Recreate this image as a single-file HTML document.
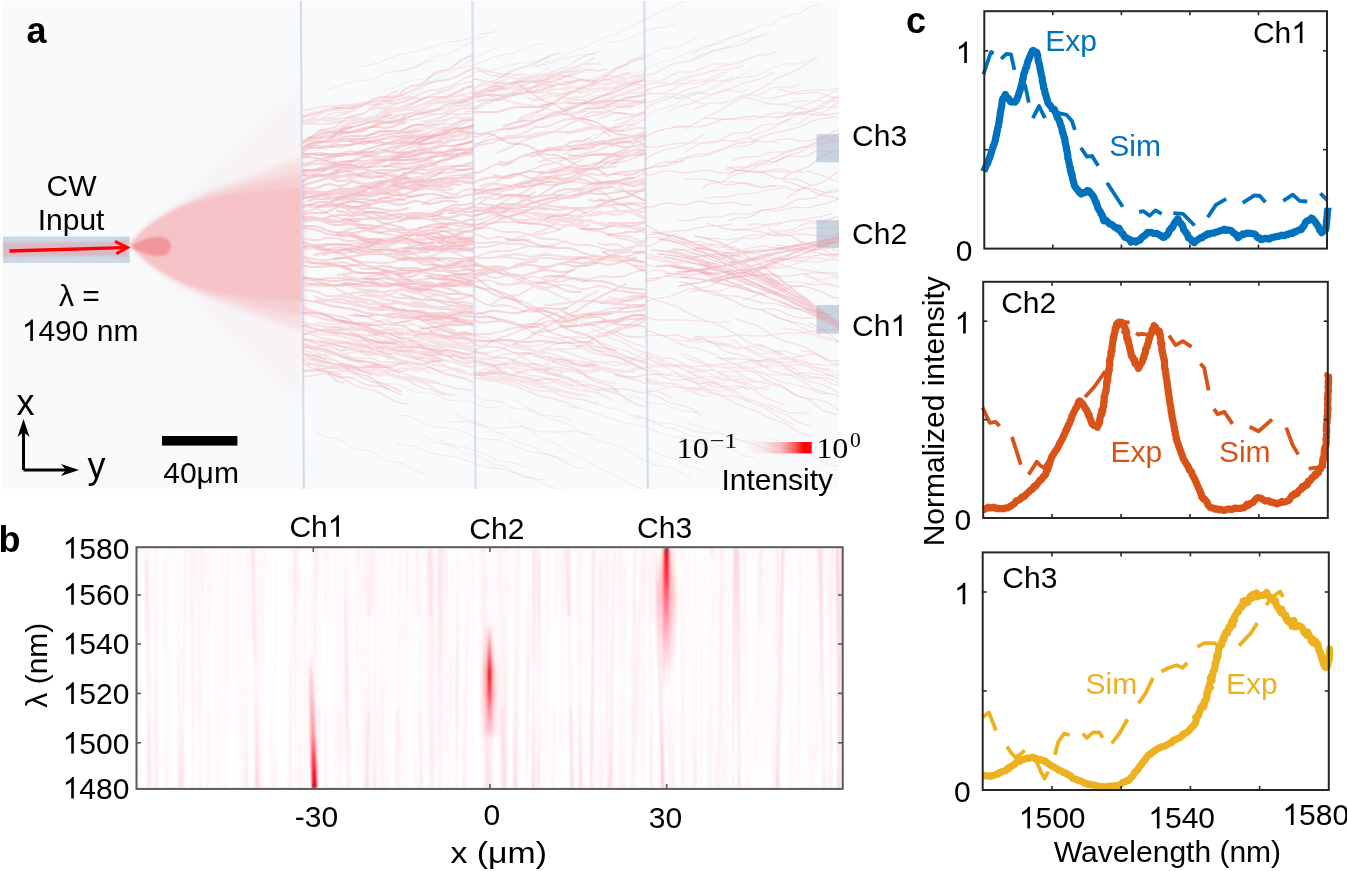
<!DOCTYPE html><html><head><meta charset="utf-8"><style>html,body{margin:0;padding:0;background:#fff;}svg{display:block;will-change:transform;}</style></head><body>
<svg width="1347" height="871" viewBox="0 0 1347 871">
<defs>
<filter id="b1" x="-20%" y="-20%" width="140%" height="140%"><feGaussianBlur stdDeviation="1"/></filter>
<filter id="b2" x="-20%" y="-20%" width="140%" height="140%"><feGaussianBlur stdDeviation="2.5"/></filter>
<filter id="b4" x="-20%" y="-20%" width="140%" height="140%"><feGaussianBlur stdDeviation="5"/></filter>
<filter id="b8" x="-30%" y="-30%" width="160%" height="160%"><feGaussianBlur stdDeviation="9"/></filter>
<linearGradient id="cbar" x1="0" x2="1" y1="0" y2="0"><stop offset="0" stop-color="#ff0000" stop-opacity="0.0"/><stop offset="0.3" stop-color="#ff0000" stop-opacity="0.08"/><stop offset="0.55" stop-color="#ff0000" stop-opacity="0.25"/><stop offset="0.75" stop-color="#ff0000" stop-opacity="0.62"/><stop offset="0.88" stop-color="#ff0000" stop-opacity="1"/><stop offset="1" stop-color="#ff0000" stop-opacity="1"/></linearGradient>
<clipPath id="clipA"><rect x="3" y="1" width="836" height="488"/></clipPath>
<clipPath id="clipB"><rect x="137" y="548" width="705" height="240"/></clipPath>
</defs>
<rect width="1347" height="871" fill="#fff"/>
<rect x="3" y="1" width="836" height="488" fill="#f8fafc"/>
<g clip-path="url(#clipA)">
<path d="M129.5,244.5 L133.8,240.5 L138.2,236.4 L142.5,232.4 L146.8,228.4 L151.2,224.3 L155.5,220.3 L159.9,216.3 L164.2,212.2 L168.5,208.2 L172.9,204.2 L177.2,200.1 L181.6,196.1 L185.9,192.1 L190.2,188.0 L194.6,184.0 L198.9,180.0 L203.2,175.9 L207.6,171.9 L211.9,167.9 L216.2,163.8 L220.6,159.8 L224.9,155.8 L229.3,151.7 L233.6,147.7 L237.9,143.7 L242.3,139.6 L246.6,135.6 L250.9,131.6 L255.3,127.5 L259.6,123.5 L264.0,119.4 L268.3,115.4 L272.6,111.4 L277.0,107.3 L281.3,103.3 L285.6,99.3 L290.0,95.2 L294.3,91.2 L298.7,87.2 L303.0,83.1 L303.0,405.9 L298.7,401.8 L294.3,397.8 L290.0,393.8 L285.6,389.7 L281.3,385.7 L277.0,381.7 L272.6,377.6 L268.3,373.6 L264.0,369.6 L259.6,365.5 L255.3,361.5 L250.9,357.4 L246.6,353.4 L242.3,349.4 L237.9,345.3 L233.6,341.3 L229.3,337.3 L224.9,333.2 L220.6,329.2 L216.2,325.2 L211.9,321.1 L207.6,317.1 L203.2,313.1 L198.9,309.0 L194.6,305.0 L190.2,301.0 L185.9,296.9 L181.6,292.9 L177.2,288.9 L172.9,284.8 L168.5,280.8 L164.2,276.8 L159.9,272.7 L155.5,268.7 L151.2,264.7 L146.8,260.6 L142.5,256.6 L138.2,252.6 L133.8,248.5 L129.5,244.5Z" fill="#f6c0c4" opacity="0.1" filter="url(#b4)"/>
<g filter="url(#b2)" fill="#f6c0c4">
<path d="M129.5,244.5 L133.8,239.7 L138.2,235.2 L142.5,231.0 L146.8,227.2 L151.2,223.6 L155.5,220.3 L159.9,217.1 L164.2,214.2 L168.5,211.5 L172.9,208.9 L177.2,206.4 L181.6,204.1 L185.9,201.9 L190.2,199.8 L194.6,197.8 L198.9,195.9 L203.2,194.1 L207.6,192.3 L211.9,190.5 L216.2,188.8 L220.6,187.2 L224.9,185.5 L229.3,183.9 L233.6,182.4 L237.9,180.8 L242.3,179.2 L246.6,177.7 L250.9,176.1 L255.3,174.6 L259.6,173.0 L264.0,171.5 L268.3,169.9 L272.6,168.3 L277.0,166.7 L281.3,165.1 L285.6,163.5 L290.0,161.8 L294.3,160.1 L298.7,158.4 L303.0,156.7 L303.0,332.3 L298.7,330.6 L294.3,328.9 L290.0,327.2 L285.6,325.5 L281.3,323.9 L277.0,322.3 L272.6,320.7 L268.3,319.1 L264.0,317.5 L259.6,316.0 L255.3,314.4 L250.9,312.9 L246.6,311.3 L242.3,309.8 L237.9,308.2 L233.6,306.6 L229.3,305.1 L224.9,303.5 L220.6,301.8 L216.2,300.2 L211.9,298.5 L207.6,296.7 L203.2,294.9 L198.9,293.1 L194.6,291.2 L190.2,289.2 L185.9,287.1 L181.6,284.9 L177.2,282.6 L172.9,280.1 L168.5,277.5 L164.2,274.8 L159.9,271.9 L155.5,268.7 L151.2,265.4 L146.8,261.8 L142.5,258.0 L138.2,253.8 L133.8,249.3 L129.5,244.5Z" opacity="0.4"/>
<path d="M129.5,244.5 L133.8,239.7 L138.2,235.2 L142.5,231.1 L146.8,227.3 L151.2,223.8 L155.5,220.6 L159.9,217.6 L164.2,214.8 L168.5,212.3 L172.9,209.9 L177.2,207.6 L181.6,205.6 L185.9,203.6 L190.2,201.8 L194.6,200.1 L198.9,198.4 L203.2,196.9 L207.6,195.5 L211.9,194.1 L216.2,192.8 L220.6,191.5 L224.9,190.3 L229.3,189.2 L233.6,188.0 L237.9,187.0 L242.3,185.9 L246.6,184.9 L250.9,183.9 L255.3,182.9 L259.6,181.9 L264.0,180.9 L268.3,180.0 L272.6,179.1 L277.0,178.1 L281.3,177.2 L285.6,176.3 L290.0,175.3 L294.3,174.4 L298.7,173.4 L303.0,172.5 L303.0,316.5 L298.7,315.6 L294.3,314.6 L290.0,313.7 L285.6,312.7 L281.3,311.8 L277.0,310.9 L272.6,309.9 L268.3,309.0 L264.0,308.1 L259.6,307.1 L255.3,306.1 L250.9,305.1 L246.6,304.1 L242.3,303.1 L237.9,302.0 L233.6,301.0 L229.3,299.8 L224.9,298.7 L220.6,297.5 L216.2,296.2 L211.9,294.9 L207.6,293.5 L203.2,292.1 L198.9,290.6 L194.6,288.9 L190.2,287.2 L185.9,285.4 L181.6,283.4 L177.2,281.4 L172.9,279.1 L168.5,276.7 L164.2,274.2 L159.9,271.4 L155.5,268.4 L151.2,265.2 L146.8,261.7 L142.5,257.9 L138.2,253.8 L133.8,249.3 L129.5,244.5Z" opacity="0.5"/>
</g>
<path d="M129.5,244.5 L133.8,239.7 L138.2,235.3 L142.5,231.2 L146.8,227.5 L151.2,224.1 L155.5,221.0 L159.9,218.1 L164.2,215.5 L168.5,213.1 L172.9,210.9 L177.2,208.8 L181.6,207.0 L185.9,205.3 L190.2,203.7 L194.6,202.3 L198.9,201.0 L203.2,199.8 L207.6,198.7 L211.9,197.7 L216.2,196.7 L220.6,195.9 L224.9,195.1 L229.3,194.4 L233.6,193.7 L237.9,193.1 L242.3,192.6 L246.6,192.1 L250.9,191.6 L255.3,191.2 L259.6,190.8 L264.0,190.4 L268.3,190.1 L272.6,189.8 L277.0,189.5 L281.3,189.3 L285.6,189.1 L290.0,188.8 L294.3,188.6 L298.7,188.5 L303.0,188.3 L303.0,300.7 L298.7,300.5 L294.3,300.4 L290.0,300.2 L285.6,299.9 L281.3,299.7 L277.0,299.5 L272.6,299.2 L268.3,298.9 L264.0,298.6 L259.6,298.2 L255.3,297.8 L250.9,297.4 L246.6,296.9 L242.3,296.4 L237.9,295.9 L233.6,295.3 L229.3,294.6 L224.9,293.9 L220.6,293.1 L216.2,292.3 L211.9,291.3 L207.6,290.3 L203.2,289.2 L198.9,288.0 L194.6,286.7 L190.2,285.3 L185.9,283.7 L181.6,282.0 L177.2,280.2 L172.9,278.1 L168.5,275.9 L164.2,273.5 L159.9,270.9 L155.5,268.0 L151.2,264.9 L146.8,261.5 L142.5,257.8 L138.2,253.7 L133.8,249.3 L129.5,244.5Z" fill="#f6c0c4" opacity="0.72" filter="url(#b1)"/>
<path d="M131,246.5 C140,240 150,236.8 160,237 C168,237.5 171,242 171,246.5 C171,251 168,255.5 160,256 C150,256.2 140,253 131,246.5Z" fill="#f0868c" opacity="0.75" filter="url(#b1)"/>
</g>
<filter id="bv" x="-50%" y="-5%" width="200%" height="110%"><feGaussianBlur stdDeviation="0.6"/></filter>
<g filter="url(#bv)">
<line x1="300.9" y1="1" x2="303.8" y2="489" stroke="#d6dde9" stroke-width="2.2"/>
<line x1="472.4" y1="1" x2="475.5" y2="489" stroke="#d9e0eb" stroke-width="2.2"/>
<line x1="644.3" y1="1" x2="647.8" y2="489" stroke="#d7dee9" stroke-width="2.2"/>
</g>
<rect x="816.5" y="134.2" width="22.5" height="28.1" fill="#c6d3e1" opacity="1"/>
<rect x="816.5" y="220.2" width="22.5" height="27.5" fill="#c6d3e1" opacity="1"/>
<rect x="816.5" y="305" width="22.5" height="28.6" fill="#c6d3e1" opacity="1"/>
<filter id="bs" x="-5%" y="-5%" width="110%" height="110%"><feGaussianBlur stdDeviation="0.45"/></filter><clipPath id="cs1"><rect x="302.5" y="1" width="170.5" height="488"/></clipPath><g clip-path="url(#cs1)"><g fill="none" stroke-linejoin="round" stroke-linecap="round" filter="url(#bs)"><path stroke="#f2949a" stroke-width="1.6" stroke-opacity="0.24" d="M349,322l7,1l7,0l7,1l7,2l7,2l7,0l7,1l7,1l7,1l7,3l7,2l7,1l7,1l7,2l7,2l7,3l7,1l7,1l7,2l7,2l7,3l7,2l7,2l7,1l7,2l7,3M272,133l7,1l7,-1l7,-5l7,-4l7,-1l7,0l7,-4l7,-4l7,-2l7,0l7,-2l7,-5l7,-3l7,0l7,-1l7,-4l7,-5l7,-2M371,120l7,-3l7,-3l7,-2l7,-1l7,-1l7,-2l7,-3l7,-2l7,-3l7,-1l7,-1l7,-1l7,-2l7,-2l7,-3l7,-2l7,-1l7,0l7,0l7,-2l7,-2l7,-3M431,342l7,2l7,2l7,0l7,0l7,0l7,1l7,2l7,3l7,1l7,0l7,0l7,0l7,1l7,3l7,3l7,1l7,1l7,-1l7,0l7,1l7,2l7,3l7,1l7,0l7,0l7,0l7,1l7,3M375,334l7,0l7,-1l7,0l7,1l7,1l7,-1l7,0l7,0l7,1l7,1l7,-1l7,-1l7,-1l7,1l7,1l7,-1l7,-1l7,0l7,0l7,1l7,0M385,111l7,-2l7,0l7,-1l7,-1l7,-2l7,-1l7,-1l7,0l7,-1l7,-1l7,-2l7,-1l7,0l7,-1l7,-1l7,-2M453,146l7,-1l7,-2l7,-4l7,-4l7,-2l7,-2l7,-3l7,-4l7,-4l7,-2l7,-2l7,-4l7,-4l7,-3l7,-2l7,-3l7,-5l7,-4l7,-3l7,-2l7,-5l7,-5l7,-4l7,-2l7,-4M277,326l7,1l7,0l7,1l7,2l7,2l7,2l7,1l7,0l7,1l7,2l7,2l7,3l7,2l7,1l7,1l7,0l7,1l7,2l7,2l7,1l7,2l7,0l7,0l7,1l7,1M443,131l7,-1l7,-3l7,-4l7,-3l7,0l7,-3l7,-4l7,-3l7,-1l7,-1l7,-5l7,-3l7,-1l7,-1l7,-4l7,-4l7,-1l7,-2l7,-3l7,-4l7,-2M288,318l7,3l7,1l7,2l7,1l7,1l7,2l7,2l7,3l7,3l7,1l7,2l7,1l7,2l7,3l7,3l7,3l7,3l7,2l7,1l7,2l7,2M290,122l7,-1l7,1l7,-1l7,-2l7,-1l7,1l7,0l7,-1l7,-1l7,1l7,1l7,-1l7,-1l7,1l7,2l7,-1l7,-1M277,334l7,2l7,2l7,2l7,0l7,0l7,0l7,2l7,3l7,1l7,1l7,0l7,2l7,3M437,122l7,-2l7,-2l7,0l7,2l7,0l7,-2l7,-2l7,0l7,1l7,0l7,-1l7,-1l7,0l7,2l7,0M444,342l7,2l7,3l7,2l7,0l7,-1l7,-1l7,1l7,2l7,2l7,0l7,-1l7,-1l7,1l7,2l7,3l7,1M443,98l7,-1l7,-1l7,0l7,1l7,1l7,0l7,0l7,0l7,1l7,1l7,0l7,-1l7,-1l7,0l7,0l7,0l7,-2l7,-1l7,0M233,340l7,3l7,1l7,1l7,2l7,4l7,3l7,3l7,1l7,2l7,3l7,4l7,3l7,2l7,2l7,2l7,4l7,4l7,3l7,2l7,1l7,3l7,4l7,4l7,2l7,1M299,344l7,2l7,3l7,2l7,1l7,1l7,1l7,2l7,3l7,2l7,2l7,1l7,2l7,2l7,3l7,3l7,2l7,2l7,1l7,2l7,2M292,110l7,0l7,0l7,-1l7,-2l7,-1l7,0l7,-1l7,0l7,-1l7,-1l7,-1l7,-1l7,0l7,0l7,-1l7,-2l7,-1l7,0M339,320l7,1l7,2l7,2l7,2l7,3l7,2l7,2l7,2l7,1l7,2l7,2l7,2l7,2l7,2l7,2l7,2l7,1l7,2l7,2l7,3l7,2l7,3l7,1M334,130l7,-3l7,-4l7,-2l7,0l7,-1l7,-2l7,-3l7,-3l7,-2l7,-1l7,-1l7,-1l7,-4l7,-3l7,-2l7,-1l7,-1M374,109l7,-4l7,-2l7,0l7,-1l7,-2l7,-4l7,-3l7,-3l7,0l7,-2l7,-2l7,-4l7,-4l7,-2l7,0l7,-2l7,-3M203,139l7,0l7,-2l7,-2l7,-2l7,-1l7,-2l7,-2l7,-2l7,-1l7,-2l7,-2l7,-2l7,-1l7,-1l7,-3l7,-2l7,0l7,-1l7,-3l7,-2l7,0l7,-1l7,-2l7,-2M407,338l7,0l7,-1l7,1l7,2l7,2l7,2l7,0l7,-1l7,0l7,2l7,2l7,2l7,-1l7,-1l7,0l7,3l7,3l7,1l7,0l7,-1l7,1l7,2l7,2l7,2l7,0l7,-1M310,325l7,1l7,0l7,1l7,1l7,2l7,2l7,2l7,1l7,0l7,1l7,2l7,2l7,2l7,1l7,1l7,1l7,1l7,2l7,3l7,2l7,1l7,1l7,2l7,2l7,2l7,3l7,2M213,296l7,3l7,3l7,4l7,5l7,4l7,3l7,3l7,5l7,4l7,5l7,2l7,3l7,4l7,5l7,4l7,3l7,3l7,4l7,5l7,3l7,3l7,2l7,4l7,5l7,4l7,3l7,3M319,124l7,0l7,-2l7,-1l7,0l7,0l7,-2l7,-1l7,0l7,-1l7,-2l7,0l7,-1l7,-1l7,-1l7,0M280,121l7,0l7,1l7,0l7,-2l7,-1l7,1l7,1l7,-2l7,-1l7,0l7,2l7,-1l7,-2l7,0l7,1l7,0l7,-2M280,145l7,-3l7,0l7,0l7,-3l7,-4l7,-3l7,0l7,-1l7,-4l7,-4l7,-3l7,0l7,-1l7,-4l7,-5l7,-2l7,0l7,-1l7,-4M422,139l7,-1l7,-4l7,-2l7,0l7,-1l7,-2l7,-3l7,-1l7,0l7,-1l7,-3l7,-3l7,0l7,0l7,-2l7,-3l7,-1l7,0l7,-2l7,-2l7,-2l7,0l7,-1l7,-1l7,-3M415,138l7,-3l7,-1l7,0l7,-1l7,-3l7,-2l7,0l7,0l7,-2l7,-3l7,-1l7,0l7,-1l7,-2l7,-2M329,137l7,-3l7,-1l7,0l7,-1l7,-2l7,-3l7,-2l7,-2l7,0l7,-1l7,-3l7,-3l7,-3l7,-1l7,-1l7,-1l7,-2l7,-4l7,-3l7,-2l7,0l7,-1M262,318l7,3l7,4l7,4l7,2l7,3l7,4l7,4l7,2l7,3l7,4l7,3l7,3l7,2l7,4l7,3l7,2l7,3l7,3l7,3l7,2l7,2l7,4l7,3l7,1l7,3l7,3M286,124l7,-3l7,-1l7,0l7,-3l7,-3l7,-3l7,-1l7,0l7,-2l7,-3M360,340l7,1l7,4l7,4l7,2l7,0l7,0l7,3l7,4l7,3l7,0l7,1l7,3l7,4l7,3l7,1l7,1l7,2l7,5M180,332l7,1l7,1l7,-1l7,-1l7,0l7,0l7,0l7,-1l7,-1l7,-1l7,1l7,0l7,-2l7,-1l7,0l7,0l7,0l7,-2l7,-1l7,-1l7,1l7,0l7,0l7,-2l7,0l7,0l7,1l7,-1l7,-2l7,0M388,321l7,2l7,-1l7,0l7,3l7,3l7,0l7,-1l7,2l7,4l7,2l7,-1l7,0l7,2l7,3l7,0l7,-1l7,1l7,3l7,2l7,-1l7,-1l7,3l7,3l7,0l7,-1l7,1l7,2l7,3l7,-1l7,-1M321,338l7,1l7,1l7,2l7,1l7,0l7,1l7,0l7,1l7,1l7,1l7,1M294,359l7,0l7,0l7,2l7,2l7,0l7,1l7,2l7,1l7,1l7,1l7,3l7,1l7,0l7,2l7,2l7,0l7,1l7,2l7,2l7,1l7,1l7,2l7,2l7,1l7,1l7,2l7,1M452,138l7,-2l7,-1l7,-3l7,-3l7,-1l7,-1l7,-3l7,-4l7,-1l7,-1l7,-3l7,-4l7,-2l7,0M393,341l7,1l7,0l7,-1l7,-1l7,0l7,2l7,2l7,1l7,0l7,-1l7,-1l7,0l7,1l7,2l7,2l7,-1l7,-1l7,-2l7,0l7,1l7,2l7,1l7,0l7,-2l7,-2l7,-1l7,0l7,2l7,0M272,335l7,2l7,3l7,4l7,3l7,1l7,0l7,1l7,2l7,3l7,3l7,3l7,1l7,1l7,1l7,3l7,4l7,4l7,2l7,2l7,1l7,2l7,3l7,4l7,4l7,2l7,1M443,337l7,3l7,2l7,2l7,4l7,4l7,4l7,3l7,2l7,2l7,4l7,4l7,3l7,2l7,1l7,2l7,3l7,4M267,341l7,1l7,1l7,4l7,2l7,1l7,2l7,4l7,2l7,1l7,2l7,4l7,2l7,1l7,2l7,4l7,2M371,110l7,-2l7,0l7,-2l7,-3l7,-3l7,-1l7,0l7,-2l7,-3l7,-3l7,-1M407,334l7,1l7,3l7,3l7,3l7,2l7,1l7,1l7,1l7,2l7,2l7,3l7,2l7,1l7,0l7,1l7,1l7,3l7,3l7,2l7,2l7,0l7,0l7,0l7,2l7,3l7,2M307,124l7,0l7,0l7,0l7,-1l7,-1l7,-1l7,1l7,0l7,0l7,-1l7,-1M240,385l7,-1l7,-1l7,-1l7,-2l7,-2l7,-1l7,0l7,0l7,0l7,-1l7,-1l7,-2l7,-1l7,-1l7,0l7,-1l7,0l7,-2l7,-1l7,-2l7,0l7,-1l7,0M287,351l7,0l7,1l7,3l7,3l7,3l7,2l7,1l7,0l7,1l7,3l7,3l7,3l7,1l7,0l7,0l7,1l7,3l7,3M410,342l7,3l7,3l7,1l7,1l7,1l7,3l7,3l7,3l7,1l7,1l7,1M351,120l7,-1l7,0l7,0l7,-1l7,-3l7,-3l7,-1l7,-1l7,0l7,-1l7,-3l7,-3l7,-2l7,-1l7,0M333,110l7,-2l7,-2l7,-1l7,0l7,0l7,0l7,-1l7,-2l7,-2l7,-2l7,-1l7,0M443,113l7,-2l7,-2l7,-1l7,0l7,0l7,0l7,-2l7,-2l7,-1l7,-1l7,0l7,0l7,-2l7,-2l7,-2l7,0l7,0l7,0l7,-1l7,-2l7,-1l7,-1l7,0l7,0M396,135l7,-4l7,-4l7,-2l7,-1l7,-2l7,-3l7,-3l7,-4l7,-3l7,-3l7,-1l7,-3l7,-4l7,-4l7,-4l7,-2l7,-1l7,-3l7,-3l7,-4M413,357l7,3l7,3l7,2l7,1l7,1l7,2l7,3l7,2l7,2l7,1l7,2M246,336l7,3l7,1l7,3l7,5l7,4l7,2l7,3l7,5l7,5l7,2l7,2l7,5l7,5l7,2M360,371l7,1l7,-2l7,-1l7,2l7,0l7,-3l7,1l7,2l7,-2l7,-2l7,3l7,1l7,-3l7,1l7,2M405,353l7,0l7,1l7,2l7,3l7,2l7,0l7,1l7,2l7,2l7,2l7,0l7,1l7,2l7,2l7,2l7,1l7,0l7,2l7,3l7,1M424,122l7,-1l7,0l7,-1l7,-2l7,-3l7,-3l7,-2l7,0l7,0l7,0l7,-2M350,333l7,2l7,1l7,0l7,3l7,2l7,0l7,2l7,3l7,2l7,0M320,120l7,-2l7,-1l7,-2l7,-2l7,-3l7,-4l7,-3l7,-3l7,-1l7,-1l7,-1l7,-2M317,325l7,2l7,4l7,4l7,2l7,2l7,2l7,5l7,4l7,2l7,2l7,3M289,151l7,-3l7,-5l7,-2l7,-1l7,-4l7,-4l7,-2l7,-2l7,-4l7,-2l7,-1l7,-3l7,-4l7,-2l7,-1l7,-4l7,-3l7,-2l7,-2l7,-4l7,-2l7,-2l7,-3l7,-4l7,-2l7,-1l7,-3l7,-4l7,0l7,-2M437,351l7,1l7,1l7,3l7,3l7,4l7,2l7,1l7,1l7,2l7,2l7,4l7,4l7,3M369,142l7,-2l7,-1l7,0l7,-2l7,-3l7,-4l7,-2l7,0l7,0l7,-3l7,-4l7,-3l7,0l7,0l7,-1l7,-4l7,-4l7,-2l7,0M402,116l7,-2l7,-2l7,-1l7,-1l7,-1l7,0l7,-1l7,-2l7,-1l7,-2l7,-1l7,-2l7,0l7,-1l7,-1l7,-1l7,-2l7,-1l7,0l7,0l7,0l7,0l7,-1l7,-1l7,-1l7,-1l7,0M418,344l7,1l7,1l7,1l7,0l7,1l7,-1l7,0l7,0l7,0l7,0l7,1M281,329l7,3l7,2l7,0l7,0l7,2l7,3l7,2l7,0l7,0l7,1l7,2l7,2M361,368l7,2l7,-1l7,-2l7,1l7,2l7,1l7,-2l7,-1l7,2l7,3M444,113l7,-4l7,-4l7,-4l7,-3l7,-3l7,-3l7,-4l7,-4l7,-4l7,-4l7,-3M314,355l7,0l7,0l7,0l7,-1l7,-1l7,-1l7,-1l7,0l7,0l7,0l7,-1l7,-2l7,-2l7,0l7,0l7,0l7,0l7,-2M339,322l7,0l7,2l7,3l7,3l7,2l7,1l7,1l7,2l7,4l7,4l7,3l7,2l7,1l7,2l7,4M431,358l7,0l7,2l7,2l7,2l7,2l7,2l7,0l7,1l7,1l7,3l7,2l7,3l7,1l7,1l7,1l7,2M325,353l7,0l7,0l7,2l7,3l7,0l7,0l7,1l7,3l7,0l7,0l7,1l7,3l7,2l7,0M392,141l7,-2l7,-2l7,-1l7,0l7,1l7,-1l7,-2l7,-1l7,-1l7,0l7,1l7,0l7,-1l7,-2l7,-1l7,0l7,1l7,0l7,-1l7,-1l7,-2l7,0l7,1l7,1l7,0l7,-2l7,-1l7,-1M404,134l7,-3l7,-1l7,0l7,-3l7,-3l7,0l7,0l7,-3l7,-3l7,0l7,0l7,-2l7,-3l7,-1l7,0l7,-1l7,-3l7,-1l7,1M442,312l7,4l7,3l7,1l7,3l7,4l7,4l7,2l7,2l7,4l7,4l7,2l7,2l7,3l7,5l7,3l7,2l7,3M401,325l7,0l7,0l7,2l7,3l7,4l7,2l7,1l7,0l7,1l7,1l7,4l7,3l7,3l7,1l7,1l7,1l7,3l7,4l7,5l7,4l7,1l7,1l7,2l7,3l7,5l7,4l7,3M318,131l7,0l7,0l7,0l7,-2l7,-2l7,-2l7,-2l7,-1l7,0l7,0l7,-1l7,-2l7,-2l7,-2l7,-1l7,0l7,0l7,0l7,0M402,117l7,-3l7,-3l7,-2l7,-4l7,-4l7,-3l7,-3l7,-2l7,-4l7,-3l7,-3l7,-2M376,125l7,-3l7,-1l7,-1l7,0l7,0l7,-1l7,-2l7,-2l7,-1l7,-1l7,1l7,0l7,0l7,-1l7,-2l7,-1"/><path stroke="#f2949a" stroke-width="1.9" stroke-opacity="0.3" d="M361,238l7,2l7,1l7,-1l7,-1l7,1l7,2l7,1l7,0l7,0l7,1l7,2l7,2l7,1l7,0l7,1l7,2l7,3l7,2l7,0l7,0l7,2l7,3l7,3l7,0l7,0l7,1l7,3l7,2l7,1M448,261l7,1l7,0l7,2l7,2l7,1l7,1l7,0l7,1l7,1l7,2l7,1l7,1l7,0l7,1l7,1M291,144l7,-1l7,-3l7,-2l7,0l7,0l7,-1l7,-3l7,-2l7,0l7,-1l7,-2l7,-3l7,-3l7,0l7,-1l7,-2l7,-4l7,-2l7,-1l7,-1l7,-3l7,-4l7,-2l7,-1l7,-1l7,-4l7,-4l7,-1l7,-1M287,153l7,1l7,3l7,-1l7,-3l7,0l7,2l7,0l7,-2l7,-2l7,1l7,1l7,-1l7,-3l7,1l7,3M415,140l7,-2l7,-2l7,0l7,1l7,-1l7,-1l7,-2l7,0l7,1l7,1l7,-1l7,-1l7,-2l7,1l7,1l7,1l7,-1l7,-2l7,0l7,1l7,1l7,-1l7,-1M285,269l7,3l7,3l7,3l7,3l7,1l7,2l7,3l7,4l7,3l7,3l7,2l7,1l7,3l7,3l7,4l7,2l7,2l7,2l7,2l7,4l7,4l7,3l7,2l7,2l7,3l7,3l7,4l7,4l7,2M393,158l7,0l7,-2l7,-5l7,-3l7,1l7,-2l7,-4l7,-3l7,0l7,-1l7,-5l7,-2l7,0l7,-1l7,-4l7,-4l7,1l7,-1M233,196l7,-1l7,-1l7,-2l7,-2l7,-2l7,-1l7,-1l7,-1l7,-1l7,-2l7,-4l7,-2l7,-1l7,-1l7,-2l7,-2l7,-3l7,-4l7,-2l7,-2l7,-1l7,-1l7,-2l7,-4l7,-3l7,-2l7,-2l7,-1l7,-2l7,-3l7,-4M196,178l7,-3l7,-5l7,-2l7,0l7,-1l7,-4l7,-4l7,-1l7,1l7,-1l7,-4l7,-3l7,0l7,0l7,-2l7,-4l7,-3l7,0l7,-1l7,-3l7,-4l7,-2l7,0l7,-1l7,-4l7,-4l7,-1l7,0l7,-2l7,-4M430,331l7,-1l7,1l7,2l7,0l7,-1l7,2l7,3l7,0l7,0l7,1l7,3l7,0l7,-1l7,2l7,3l7,0l7,-1l7,2l7,3l7,-1M368,309l7,1l7,0l7,0l7,1l7,2l7,1l7,0l7,-1l7,2l7,3l7,0l7,-1l7,1l7,2l7,1l7,0l7,-1l7,0l7,2l7,1l7,-1l7,0M391,163l7,0l7,-3l7,-1l7,2l7,-1l7,-3l7,-1l7,1l7,-1l7,-3l7,0l7,1l7,-2l7,-3M443,153l7,-3l7,-2l7,1l7,1l7,0l7,-1l7,-2l7,-1l7,2l7,1l7,0l7,-1l7,-2l7,-1l7,1l7,1l7,0l7,-3l7,-2l7,0l7,1l7,0l7,-2l7,-3l7,-3l7,0M414,336l7,-2l7,0l7,2l7,1l7,0l7,-2l7,-1l7,1l7,2l7,1l7,-1l7,-1l7,0l7,1l7,2l7,-1l7,-2l7,-1l7,0l7,1l7,0l7,-1l7,-3l7,-1l7,0l7,1l7,0l7,-2l7,-3l7,0l7,1M396,249l7,-1l7,0l7,0l7,2l7,0l7,-1l7,-1l7,-2l7,0l7,1l7,2l7,0l7,0l7,-1l7,-2l7,0l7,1l7,2l7,1l7,0l7,-1l7,-1l7,1l7,1l7,3l7,1l7,1l7,-1M314,296l7,3l7,1l7,-1l7,0l7,2l7,1l7,-1l7,-1l7,2l7,2l7,0l7,-1l7,1l7,2l7,1l7,-1l7,0l7,2l7,1l7,0l7,-1l7,2l7,1l7,0l7,-2l7,1l7,1l7,1M231,279l7,-1l7,0l7,1l7,1l7,1l7,0l7,-1l7,-2l7,0l7,1l7,1l7,0l7,-1l7,-1l7,0l7,0l7,1l7,0l7,-1l7,-2l7,-1l7,-1l7,0l7,0l7,0l7,-2l7,-1l7,-1M213,357l7,1l7,-1l7,1l7,3l7,2l7,-1l7,0l7,3l7,2l7,0l7,-1l7,2l7,2l7,1l7,-1l7,1l7,4l7,2l7,0l7,1l7,4l7,3l7,1l7,0l7,3M344,283l7,3l7,3l7,1l7,0l7,1l7,3l7,3l7,1l7,0l7,1M452,265l7,-1l7,-2l7,-2l7,-1l7,1l7,1l7,-1l7,-2l7,-2l7,0l7,1l7,1l7,-1l7,-2l7,-1M425,298l7,-2l7,-1l7,1l7,3l7,0l7,-2l7,-2l7,2l7,2l7,0l7,-3l7,-1M199,176l7,0l7,0l7,0l7,0l7,-1l7,-1l7,-1l7,0l7,0l7,0l7,0l7,-1l7,-1l7,-1l7,0l7,0l7,0l7,-1l7,-1l7,-1l7,0l7,0l7,0l7,0l7,0l7,-1l7,0l7,1l7,0l7,1M346,301l7,2l7,2l7,2l7,1l7,0l7,1l7,1l7,2l7,2l7,2l7,2l7,0l7,1l7,2M445,155l7,-3l7,-2l7,-1l7,-1l7,-2l7,-4l7,-3l7,-3l7,-1l7,-1l7,-1l7,-3l7,-3l7,-3l7,-2l7,0l7,-1l7,-3M404,280l7,0l7,0l7,-1l7,-1l7,-1l7,-1l7,-1l7,-1l7,0l7,-2l7,-2l7,-1l7,-1l7,-1l7,0l7,-1l7,-1l7,-1l7,-2l7,-1l7,0l7,-1l7,-2l7,-1l7,-2M422,205l7,-4l7,-3l7,0l7,0l7,-4l7,-4l7,-1l7,0l7,-3l7,-5l7,-1l7,0l7,-3l7,-5l7,-2l7,-1l7,-2l7,-5l7,-4l7,0l7,-2l7,-5l7,-4l7,0l7,-2l7,-4l7,-5l7,-2l7,-1M395,160l7,0l7,-1l7,-2l7,-3l7,-1l7,-1l7,0l7,-3l7,-4l7,-2l7,-1M438,279l7,0l7,0l7,-1l7,1l7,2l7,3l7,2l7,1l7,0l7,0M412,142l7,-1l7,-2l7,-4l7,-4l7,-2l7,-1l7,0l7,-1l7,-3l7,-3l7,-3l7,-1l7,-1l7,0l7,-1l7,-3l7,-3l7,-2l7,0l7,0M340,343l7,0l7,2l7,2l7,1l7,1l7,3l7,2l7,-1l7,2l7,2l7,2l7,-1M397,312l7,0l7,1l7,2l7,1l7,1l7,0l7,0l7,1l7,1l7,2l7,2l7,1l7,1l7,0l7,1l7,1l7,1l7,2l7,1l7,1l7,0l7,1l7,1M265,256l7,-2l7,1l7,2l7,2l7,0l7,-1l7,1l7,2l7,2l7,0l7,-1l7,2l7,2l7,3l7,0l7,0l7,1l7,3l7,3l7,0M257,152l7,0l7,1l7,2l7,0l7,0l7,-1l7,0l7,0l7,1l7,1l7,0l7,0l7,-1l7,0l7,0l7,1l7,1l7,0l7,-1l7,0l7,0l7,2M256,177l7,-2l7,-1l7,-1l7,1l7,0l7,-2l7,-1l7,1l7,-1l7,-2l7,-2l7,0l7,0l7,-2l7,-3M308,364l7,0l7,2l7,1l7,-2l7,-1l7,2l7,1l7,0l7,-2l7,0l7,2l7,0l7,-3l7,-1l7,1l7,1l7,-2l7,-2l7,0M411,239l7,0l7,0l7,0l7,-1l7,0l7,0l7,1l7,0l7,0l7,0l7,-1l7,1l7,0l7,1l7,0l7,0l7,-1l7,0l7,1l7,1l7,1l7,0l7,0l7,-1l7,0M428,293l7,1l7,1l7,4l7,3l7,0l7,1l7,4l7,3l7,0l7,1M393,300l7,2l7,3l7,-1l7,0l7,3l7,1l7,-1l7,1l7,3l7,0l7,-1l7,3l7,2l7,-1l7,0l7,3l7,0l7,-1l7,1l7,2l7,-1l7,-1l7,3l7,1l7,-1l7,0l7,3M303,247l7,0l7,0l7,-1l7,-1l7,0l7,0l7,-1l7,-1l7,-1l7,-1l7,0l7,-1l7,-1l7,-1l7,0M229,284l7,1l7,0l7,0l7,0l7,0l7,0l7,1l7,1l7,0l7,0l7,-1l7,-1l7,1l7,0l7,0l7,0l7,-2M434,321l7,1l7,0l7,-1l7,-1l7,1l7,2l7,0l7,-1l7,-1l7,0l7,1l7,2l7,-1M400,289l7,2l7,2l7,1l7,3l7,3l7,3l7,2l7,1l7,1l7,2l7,2l7,3l7,3l7,1l7,1l7,1l7,3l7,3l7,3l7,3l7,0l7,2l7,1l7,3l7,3l7,2l7,2l7,0M399,144l7,-1l7,1l7,-1l7,-4l7,-2l7,1l7,0l7,-2l7,-3l7,-1l7,2l7,-1l7,-4l7,-2l7,1l7,0l7,-3l7,-4l7,0l7,1l7,-1l7,-4l7,-1l7,0l7,0l7,-3l7,-3l7,-1l7,1M316,300l7,1l7,0l7,1l7,1l7,1l7,2l7,1l7,0l7,1l7,0l7,1l7,1l7,1l7,1l7,1l7,0l7,0l7,0l7,1l7,1l7,1l7,1l7,0l7,0M242,343l7,1l7,1l7,3l7,3l7,3l7,2l7,1l7,1l7,3l7,3l7,4l7,3l7,2l7,1M268,341l7,2l7,1l7,3l7,4l7,3l7,4l7,2l7,2l7,1l7,3l7,3l7,3l7,4l7,3l7,3l7,1l7,2l7,3l7,3M306,344l7,3l7,-1l7,-1l7,3l7,3l7,-2l7,0l7,4l7,2l7,-1l7,1l7,4M213,215l7,1l7,0l7,-1l7,-2l7,-1l7,0l7,1l7,-2l7,-2l7,-2l7,1l7,1l7,-2l7,-2l7,0l7,1l7,0l7,-2l7,-2l7,-1l7,1l7,0l7,-2l7,-2l7,0l7,1l7,0l7,-2l7,-2l7,0M352,284l7,0l7,-2l7,1l7,2l7,2l7,-2l7,0l7,2l7,3l7,0M381,159l7,-2l7,-1l7,-1l7,-2l7,-3l7,-1l7,-1l7,-2l7,-2l7,-3l7,-1l7,-1l7,-3l7,-3l7,-1l7,-2l7,-2l7,-3l7,-2l7,-1l7,-2l7,-2l7,-2l7,-1l7,-2l7,-2l7,-3l7,-1l7,-1l7,-3M237,149l7,2l7,0l7,-1l7,-1l7,-1l7,1l7,1l7,1l7,-1l7,-2l7,-2l7,0l7,0l7,1l7,0l7,-2l7,-1l7,-2l7,0l7,1l7,1l7,-2l7,-2l7,-2l7,-1l7,0l7,1l7,0l7,-2l7,-2M365,263l7,-1l7,1l7,0l7,-1l7,-2l7,-2l7,0l7,0l7,-1l7,-2l7,-3l7,-1l7,0l7,0l7,-2l7,-2l7,-2M343,275l7,2l7,2l7,0l7,0l7,0l7,3l7,2l7,0l7,0l7,0l7,1l7,1l7,0l7,-1l7,-1l7,0l7,2l7,0l7,-1l7,-1l7,0l7,1l7,1l7,-1l7,-1M433,265l7,0l7,1l7,-2l7,-2l7,0l7,1l7,-3l7,-2l7,1l7,-1l7,-3l7,-1l7,0l7,-1l7,-3l7,0M256,167l7,1l7,-1l7,0l7,-1l7,-1l7,-1l7,0l7,0l7,0l7,0l7,-1l7,-1l7,-1l7,0l7,0l7,0l7,-1l7,-2l7,-1l7,-1l7,0l7,0l7,-1M256,238l7,0l7,1l7,2l7,-1l7,-2l7,0l7,1l7,1l7,0l7,-2l7,0l7,1l7,2l7,0l7,-1l7,0l7,2l7,2l7,0l7,-1l7,0l7,1M308,206l7,2l7,3l7,3l7,3l7,2l7,1l7,3l7,3l7,3l7,3l7,2l7,1l7,1l7,3l7,2l7,3l7,3l7,1l7,1l7,2l7,2l7,3l7,2l7,2l7,1l7,1l7,3l7,3l7,3l7,2M391,181l7,-1l7,-2l7,0l7,-1l7,-1l7,-2l7,-1l7,0l7,-1l7,-2l7,-1l7,0l7,0l7,-2l7,-1l7,0l7,-1l7,-1l7,-2l7,-1l7,0l7,-1l7,-2M422,170l7,0l7,-2l7,-1l7,-1l7,0l7,0l7,0l7,-1l7,-1l7,-1l7,-1l7,0l7,-1l7,0l7,-1l7,-1l7,-1l7,-1l7,-1l7,0M247,182l7,-1l7,0l7,0l7,0l7,-2l7,-2l7,-2l7,-1l7,1l7,-1l7,-3l7,-3l7,-2l7,0l7,0M259,339l7,0l7,1l7,2l7,2l7,2l7,1l7,0l7,1l7,1l7,2l7,3l7,3l7,2l7,2l7,0l7,1l7,2l7,3l7,3l7,3M295,166l7,0l7,-1l7,-1l7,-2l7,-3l7,-3l7,-2l7,0l7,-1l7,-2M365,241l7,-2l7,0l7,0l7,-1l7,-2l7,-1l7,0l7,0l7,-1l7,-2l7,-1l7,0l7,-1l7,-2l7,-1l7,-1l7,0l7,-1l7,-2l7,-1l7,0l7,1l7,-2l7,-1l7,0M433,238l7,2l7,-2l7,-2l7,1l7,1l7,0l7,-3l7,0l7,2l7,0l7,-2l7,-2l7,2l7,0l7,-2l7,-2l7,0l7,1l7,-1l7,-3l7,1l7,2l7,-1l7,-2l7,0l7,2l7,0l7,-1M338,275l7,-1l7,-1l7,0l7,0l7,0l7,0l7,-1l7,-1l7,-1l7,0l7,0l7,0l7,-1l7,-2l7,-1l7,-2l7,0l7,0l7,-1l7,-1l7,-2l7,-2l7,-1l7,0l7,0M290,117l7,0l7,0l7,-2l7,-2l7,-3l7,-2l7,0l7,0l7,0l7,-2l7,-3l7,-4l7,-2l7,0l7,-1l7,-1l7,-3l7,-3l7,-4l7,-2l7,-2l7,-1l7,-1l7,-3l7,-4l7,-3l7,-2l7,-1l7,0M210,346l7,-1l7,0l7,-1l7,-2l7,-3l7,0l7,0l7,0l7,-2l7,-2l7,-1l7,1l7,0l7,-2l7,-2l7,-1l7,0l7,1l7,-2l7,-1l7,0l7,2l7,1l7,0l7,-1l7,0l7,2l7,1l7,-1l7,-1M365,330l7,2l7,2l7,2l7,3l7,3l7,4l7,4l7,3l7,2l7,2l7,3M360,186l7,1l7,0l7,-1l7,-1l7,1l7,1l7,2l7,1l7,-1l7,0l7,1l7,2l7,2l7,1M362,212l7,0l7,0l7,1l7,2l7,2l7,1l7,0l7,0l7,1l7,1l7,2l7,2l7,1l7,1l7,-1l7,0l7,1M359,296l7,-2l7,1l7,1l7,0l7,-3l7,-3l7,0l7,2l7,0l7,-3l7,-3l7,-1l7,1l7,0l7,-2l7,-3M280,302l7,1l7,2l7,3l7,3l7,1l7,2l7,3l7,3l7,1l7,1l7,2l7,3l7,2l7,1l7,2l7,3l7,3l7,1l7,2l7,4l7,3l7,2l7,2l7,4l7,4l7,2l7,1M323,255l7,-2l7,-1l7,1l7,-1l7,-2l7,-3l7,0l7,0l7,0l7,-3l7,-2l7,-1l7,1l7,-1l7,-2l7,-2l7,-1l7,1l7,-1l7,-2M371,342l7,0l7,0l7,1l7,2l7,3l7,2l7,2l7,0l7,0l7,1M441,334l7,3l7,1l7,0l7,2l7,2l7,1l7,0l7,2l7,3l7,1l7,0M231,333l7,2l7,4l7,3l7,1l7,1l7,1l7,2l7,3l7,3l7,1l7,1l7,1l7,2l7,4l7,3l7,2l7,1l7,1l7,3l7,3M286,147l7,-4l7,-1l7,-2l7,-5l7,-5l7,-1l7,-2l7,-5l7,-5l7,-2l7,-1l7,-5l7,-5l7,-3l7,-1l7,-4l7,-7l7,-3l7,-1l7,-4l7,-7l7,-3l7,-1l7,-4l7,-6l7,-3l7,-2l7,-3l7,-5M203,379l7,-2l7,-1l7,0l7,0l7,-1l7,-1l7,-1l7,0l7,0l7,0l7,0l7,-1l7,-1l7,0l7,0l7,-1l7,-1l7,-1l7,0l7,0l7,0l7,0l7,-1l7,0l7,0l7,0M349,315l7,1l7,0l7,2l7,3l7,2l7,2l7,0l7,2l7,3l7,2l7,1l7,0l7,2l7,3l7,1l7,0l7,1l7,2l7,2l7,1l7,-1l7,0l7,2l7,2l7,0l7,0l7,1l7,3l7,2M340,250l7,0l7,-1l7,1l7,1l7,-1l7,-1l7,0l7,1l7,-1l7,-1l7,0l7,0l7,0l7,-2l7,0l7,0l7,0l7,-1l7,-1l7,0l7,0l7,-1l7,-1l7,0l7,0l7,-1M425,276l7,0l7,3l7,2l7,-1l7,1l7,3l7,1l7,-1l7,1l7,3l7,1l7,0l7,2l7,3l7,0l7,0l7,2l7,4l7,0l7,1l7,3l7,3l7,1l7,0l7,3l7,3l7,1M448,317l7,0l7,-2l7,-2l7,0l7,1l7,-1l7,-2l7,-1l7,1l7,0l7,-1l7,-2l7,0l7,1l7,0l7,-1l7,-2l7,1l7,1l7,1l7,-1l7,-1l7,2l7,2l7,0l7,0l7,0M363,295l7,1l7,1l7,2l7,2l7,2l7,0l7,1l7,1l7,2l7,1l7,1l7,0l7,2l7,2l7,2l7,1l7,0l7,2l7,2M340,295l7,-1l7,-1l7,-1l7,0l7,0l7,0l7,-1l7,-1l7,-1l7,0l7,0l7,-1l7,-1l7,-2l7,-1l7,0l7,1l7,-1M286,215l7,-1l7,-1l7,-2l7,-2l7,-3l7,-3l7,-3l7,-2l7,-2l7,-2l7,-3l7,-3l7,-4l7,-2l7,-3l7,-2l7,-3l7,-3l7,-4l7,-4l7,-3M222,251l7,0l7,2l7,0l7,-3l7,0l7,2l7,-1l7,-2l7,0l7,1l7,0l7,-1l7,-1l7,2l7,0l7,-2l7,-1l7,2l7,0l7,-3l7,-1l7,2l7,-1l7,-3l7,-1l7,0M348,178l7,-1l7,-2l7,-1l7,-1l7,0l7,-1l7,-1l7,-2l7,-2l7,-2l7,-1l7,-1l7,-1l7,-2l7,-2l7,-2l7,-1l7,0l7,-1l7,-2M350,345l7,0l7,2l7,1l7,0l7,0l7,1l7,2l7,0l7,0l7,1l7,1l7,1l7,0l7,1l7,1l7,2l7,0l7,0l7,1l7,1l7,1l7,0l7,1l7,2l7,1l7,0l7,1M363,340l7,2l7,1l7,-1l7,2l7,3l7,1l7,-1l7,0l7,2l7,2l7,0l7,-1l7,1l7,2l7,1l7,-1l7,-1l7,2l7,3l7,-1l7,-1l7,1l7,3l7,1M438,243l7,-1l7,1l7,0l7,-1l7,-2l7,0l7,1l7,0l7,-1l7,-1l7,1l7,1l7,-1l7,0l7,0l7,1M246,179l7,-1l7,0l7,-2l7,-2l7,-1l7,-1l7,0l7,0l7,-1l7,-2l7,-2l7,-2l7,0l7,0l7,0l7,-1l7,-2l7,-2l7,0l7,0l7,0l7,-2l7,-2l7,-2l7,-1l7,0l7,-1l7,-1M319,342l7,1l7,1l7,2l7,2l7,2l7,1l7,1l7,1l7,2l7,2l7,2l7,2l7,1l7,1l7,2l7,3l7,3l7,3l7,1l7,2l7,2l7,3l7,3l7,2l7,2l7,2l7,1l7,3M267,257l7,0l7,0l7,0l7,2l7,2l7,2l7,0l7,0l7,1l7,1l7,2l7,2M293,310l7,2l7,2l7,2l7,2l7,2l7,1l7,1l7,3l7,3l7,2l7,3l7,2M337,233l7,-2l7,-2l7,-1l7,0l7,-1l7,-1l7,-2l7,-2l7,-2l7,-1l7,0l7,0l7,-1l7,-2l7,-2M233,287l7,1l7,2l7,2l7,2l7,4l7,2l7,2l7,1l7,1l7,3l7,3l7,2l7,2l7,1l7,1l7,2l7,3M333,327l7,0l7,2l7,1l7,0l7,1l7,0l7,2l7,0l7,1l7,1M411,105l7,-4l7,-3l7,-1l7,0l7,0l7,-3l7,-4l7,-3l7,-1l7,0l7,-2l7,-3M419,228l7,-1l7,0l7,0l7,1l7,2l7,1l7,1l7,0l7,-1l7,1M283,197l7,-2l7,-1l7,3l7,0l7,-1l7,-2l7,2l7,1l7,-1l7,-2l7,1l7,2l7,-1l7,-2l7,-1l7,2l7,1M333,170l7,0l7,1l7,2l7,2l7,1l7,0l7,1l7,2l7,2l7,2l7,0l7,1l7,2l7,2l7,1l7,1l7,-1M388,185l7,-1l7,-1l7,-1l7,-1l7,0l7,0l7,-2l7,-1l7,-2l7,-1l7,0M427,324l7,-1l7,1l7,0l7,-1l7,-1l7,1l7,0l7,-1l7,-2l7,1l7,1l7,-1l7,-2l7,0l7,1l7,0l7,-2l7,-1M402,304l7,0l7,-2l7,1l7,3l7,2l7,-1l7,-1l7,0l7,2l7,2l7,1l7,-1l7,-1l7,1M307,147l7,-1l7,1l7,-1l7,-3l7,-2l7,0l7,0l7,-2l7,-4l7,-2l7,-1l7,-1M406,138l7,-3l7,0l7,-2l7,-3l7,-2l7,-1l7,-2l7,-4l7,-1l7,0l7,-3l7,-3l7,0M337,235l7,2l7,-1l7,1l7,4l7,3l7,0l7,2l7,4l7,1l7,0l7,3l7,4l7,0l7,0l7,3l7,4l7,0l7,0l7,4l7,2l7,0l7,1l7,4l7,2l7,-1l7,2M231,330l7,1l7,1l7,2l7,1l7,2l7,1l7,0l7,0l7,0l7,1l7,1l7,2l7,0l7,1l7,0l7,0l7,1l7,1l7,1l7,1M388,159l7,-4l7,-3l7,0l7,-3l7,-4l7,-3l7,-1l7,-2l7,-5l7,-3l7,0l7,-3l7,-5l7,-2M366,326l7,-1l7,0l7,-1l7,0l7,-2l7,-1l7,-2l7,-2l7,-1l7,0l7,-1l7,-2l7,-1l7,-3l7,-2l7,-1M244,212l7,-2l7,0l7,1l7,-2l7,-2l7,1l7,1l7,-1l7,-2l7,0l7,1l7,0l7,-1l7,-1l7,1l7,1l7,-1l7,-1M209,168l7,-2l7,-2l7,-1l7,-2l7,-1l7,-2l7,-2l7,-2l7,-2l7,-2l7,-1l7,-2l7,-3l7,-3l7,-2l7,-2l7,-1l7,-3l7,-2l7,-3l7,-2l7,-2l7,-2l7,-2l7,-3l7,-2M243,280l7,3l7,0l7,0l7,0l7,3l7,2l7,2l7,0l7,0l7,1l7,2l7,3l7,0l7,0l7,1l7,2l7,3l7,2l7,0l7,0l7,2l7,3l7,2l7,0l7,0l7,0M284,260l7,-1l7,-2l7,0l7,2l7,1l7,0l7,-1l7,-1l7,0l7,2l7,2l7,0M403,309l7,3l7,3l7,4l7,3l7,2l7,3l7,3l7,3l7,4l7,4l7,4l7,3l7,4l7,3l7,3l7,4l7,4l7,4l7,4l7,3l7,4"/><path stroke="#f2949a" stroke-width="2.1" stroke-opacity="0.38" d="M419,250l7,-1l7,1l7,1l7,-2l7,-1l7,1l7,1l7,-1l7,-1l7,1l7,1l7,-1l7,-1l7,0l7,1l7,0l7,-2l7,0l7,2l7,0M393,152l7,1l7,0l7,-2l7,0l7,1l7,1l7,0l7,-2l7,-1l7,0l7,1l7,0l7,-1l7,-2l7,0l7,1l7,1l7,0l7,-2l7,-2l7,0l7,1l7,0l7,-2l7,-2l7,-1l7,1l7,0l7,-1M344,249l7,2l7,2l7,0l7,-1l7,0l7,3l7,2l7,2l7,0l7,0l7,1M300,198l7,0l7,-1l7,-1l7,1l7,2l7,1l7,-1l7,0l7,0l7,1l7,1l7,0l7,0l7,-1l7,0M281,150l7,-1l7,0l7,-1l7,-4l7,-2l7,-1l7,1l7,-2l7,-3l7,-1l7,0l7,0l7,-2l7,-3l7,0l7,0l7,0l7,-3l7,-3l7,0l7,1l7,-2M337,211l7,1l7,3l7,0l7,-2l7,0l7,3l7,1l7,-2l7,-1l7,2l7,2l7,-1l7,-2l7,0l7,2l7,1l7,-2l7,-2l7,2l7,1l7,-1l7,-3l7,1M421,329l7,-1l7,-1l7,-1l7,-1l7,0l7,0l7,-1l7,-2l7,-2l7,0l7,-1l7,0l7,-1l7,-2M410,248l7,1l7,-2l7,-1l7,2l7,1l7,-2l7,-1l7,3l7,1l7,-3l7,0l7,2l7,0l7,-3l7,0l7,3l7,-1l7,-3l7,0l7,2l7,-1l7,-3l7,1l7,2M274,167l7,-6l7,-2l7,-2l7,-4l7,-6l7,-3l7,-2l7,-3l7,-6l7,-5l7,-1M392,280l7,-1l7,-1l7,-2l7,-3l7,-3l7,-2l7,-1l7,-1l7,-2l7,-3l7,-3l7,-2M307,260l7,3l7,1l7,0l7,1l7,2l7,3l7,2l7,1l7,0l7,0l7,2l7,3l7,3l7,1l7,0l7,0l7,2l7,3M347,210l7,3l7,2l7,1l7,3l7,4l7,1l7,2l7,2l7,4l7,2l7,2l7,3l7,3l7,3l7,1l7,3M329,178l7,0l7,-2l7,-2l7,1l7,2l7,1l7,-1l7,-2l7,1l7,2l7,2l7,0l7,-1l7,0l7,2l7,2l7,1l7,-2l7,-1l7,1l7,3l7,1l7,-2l7,-2l7,1M443,277l7,2l7,2l7,2l7,2l7,1l7,2l7,2l7,2l7,3l7,2l7,1l7,1l7,2l7,2M248,230l7,0l7,-2l7,-3l7,-1l7,1l7,-1l7,-3l7,-2l7,0l7,0l7,-1l7,-2l7,-1l7,0l7,1l7,-2l7,-2l7,0l7,1l7,-1M376,161l7,-1l7,0l7,0l7,0l7,0l7,-1l7,-1l7,-2l7,-1l7,0l7,0M364,219l7,-1l7,0l7,1l7,0l7,-2l7,-3l7,-1l7,0l7,1l7,-1l7,-3l7,-3l7,-2l7,0l7,-1l7,-2l7,-4l7,-3l7,-1l7,0l7,-1l7,-2l7,-4M295,174l7,-3l7,-1l7,0l7,-1l7,-2l7,-3l7,-2l7,-1l7,-2l7,-3l7,-3l7,-1l7,0l7,-2l7,-3l7,-2l7,-2l7,-1l7,-3l7,-3l7,-2l7,-2M282,220l7,0l7,-2l7,-4l7,-1l7,0l7,0l7,-3l7,-3l7,-1l7,1l7,0l7,-3M277,267l7,1l7,-1l7,-1l7,0l7,1l7,0l7,-1l7,0l7,0l7,0l7,-1l7,0l7,1l7,1l7,-1l7,1l7,1l7,0l7,0l7,0l7,2l7,0l7,0l7,1l7,2l7,1l7,0l7,1M191,279l7,0l7,1l7,1l7,-1l7,0l7,2l7,0l7,-1l7,1l7,1l7,-1l7,-1l7,2l7,0l7,0l7,0l7,1l7,0l7,0l7,1l7,0l7,0l7,0l7,1l7,0l7,-1l7,1l7,0l7,-1M355,314l7,2l7,0l7,-1l7,0l7,1l7,1l7,1l7,0l7,-1l7,-1l7,1l7,0l7,0l7,-2l7,-2l7,-1l7,0M308,163l7,-2l7,-2l7,-2l7,-1l7,-1l7,-1l7,-1l7,-3l7,-2l7,-2l7,-2l7,-1l7,-1l7,-2l7,-2M253,277l7,0l7,0l7,0l7,1l7,1l7,0l7,-1l7,0l7,1l7,1l7,1l7,0l7,-1l7,0l7,1l7,1l7,1l7,1l7,0l7,0l7,2l7,1l7,2l7,1l7,0l7,1M261,246l7,-2l7,-1l7,1l7,2l7,1l7,0l7,-2l7,1l7,2l7,2l7,0l7,-1l7,-1l7,2l7,2l7,0l7,-1l7,-1l7,0l7,3l7,1l7,-1l7,-1l7,0M442,241l7,0l7,-1l7,-1l7,1l7,1l7,-1l7,-1l7,0l7,1l7,2l7,-1l7,0l7,1l7,2l7,0l7,0l7,0l7,0l7,1l7,0l7,-2l7,-1l7,1l7,0l7,0l7,-1l7,0l7,0l7,0M225,169l7,-3l7,0l7,3l7,0l7,-1l7,0l7,2l7,2l7,-1l7,0l7,3l7,3l7,-1l7,0l7,2l7,3l7,0l7,-1l7,2M309,148l7,0l7,0l7,-1l7,-2l7,0l7,0l7,-2l7,-2l7,0l7,-1l7,-2l7,-2l7,1l7,-2l7,-3l7,-1M400,294l7,2l7,2l7,2l7,0l7,0l7,1l7,1l7,1l7,2l7,1l7,1l7,-1l7,0l7,0l7,1l7,2l7,1l7,1l7,0l7,0M194,211l7,2l7,0l7,-1l7,-1l7,3l7,1l7,0l7,-2l7,1l7,3l7,1l7,-1l7,-2l7,2l7,3l7,1l7,-1l7,0l7,3l7,2l7,0l7,-1l7,1l7,3l7,1l7,-1l7,-1M389,191l7,-2l7,-1l7,0l7,0l7,-1l7,-2l7,-3l7,-2l7,-2l7,0l7,-1l7,-1l7,-1l7,-2l7,-3l7,-2l7,0M403,173l7,0l7,0l7,1l7,-2l7,-2l7,-1l7,0l7,1l7,0l7,-2l7,-2l7,-1l7,1l7,1l7,-1l7,-1M437,266l7,2l7,0l7,-1l7,-1l7,0l7,1l7,2l7,0l7,-2l7,-1l7,0l7,2l7,1M387,314l7,0l7,1l7,2l7,1l7,2l7,0l7,-1l7,-1l7,1l7,2l7,2l7,2l7,2l7,0M180,170l7,0l7,1l7,2l7,2l7,1l7,1l7,1l7,1l7,2l7,2l7,1l7,0l7,2l7,2l7,2l7,1l7,0l7,0l7,1l7,1l7,1l7,0l7,0l7,0l7,0l7,1l7,0l7,-1l7,-1l7,1M369,279l7,0l7,-1l7,1l7,3l7,1l7,1l7,-1l7,-1l7,1l7,2l7,1l7,0l7,-2l7,0M394,256l7,-1l7,2l7,3l7,4l7,1l7,0l7,3l7,4l7,3l7,1l7,1l7,3l7,5l7,2l7,1l7,2l7,4l7,4M307,184l7,-2l7,-2l7,-3l7,-3l7,-2l7,-1l7,-2l7,-4l7,-2l7,-1l7,-1l7,-2l7,-3l7,-2l7,-2l7,-1l7,-2M359,169l7,-1l7,-3l7,-2l7,-3l7,-2l7,-1l7,0l7,-2l7,-2l7,-2l7,-3l7,-2l7,0l7,-1l7,-1l7,-2l7,-3l7,-2l7,-2l7,0l7,-1l7,-2l7,-2l7,-2l7,-2l7,-2l7,-1l7,-1M404,249l7,-3l7,-1l7,-1l7,-1l7,-2l7,-3l7,-3l7,-2l7,-2l7,-1l7,-1l7,-3l7,-3l7,-4M285,234l7,2l7,4l7,3l7,3l7,3l7,1l7,2l7,2l7,3l7,4l7,3l7,3l7,1l7,2l7,1l7,3l7,4l7,3l7,2l7,2l7,1l7,0l7,2l7,2l7,3l7,2l7,1l7,1l7,1M406,249l7,-1l7,1l7,0l7,-1l7,-1l7,-3l7,-2l7,-1l7,0l7,0M330,202l7,-2l7,-1l7,-2l7,-3l7,-4l7,-3l7,-2l7,-2l7,-3l7,-4l7,-3l7,-2l7,-2l7,-3l7,-3l7,-3l7,-1l7,-3l7,-3l7,-3l7,-2l7,-1l7,-2l7,-3l7,-3l7,-2l7,-1l7,-2M339,197l7,0l7,0l7,-1l7,-2l7,-3l7,-1l7,1l7,-1l7,-2l7,-2l7,-2l7,0l7,1l7,-2M399,258l7,0l7,1l7,0l7,0l7,-1l7,0l7,0l7,1l7,0l7,1l7,-1l7,-1l7,0l7,0l7,1M373,194l7,-2l7,-3l7,-3l7,-2l7,-2l7,0l7,-1l7,-3l7,-3l7,-4l7,-3l7,-2l7,-1l7,-2l7,-2l7,-4l7,-4l7,-2l7,-2l7,-1l7,-1l7,-3l7,-4l7,-3l7,-2l7,-2l7,0l7,-1l7,-3l7,-4M364,278l7,2l7,3l7,1l7,0l7,1l7,2l7,2l7,0l7,0l7,1l7,2l7,2l7,0l7,0l7,1l7,2l7,1l7,-1l7,1l7,2l7,2l7,0l7,0l7,1l7,3l7,0l7,0l7,1M298,225l7,1l7,0l7,1l7,3l7,2l7,1l7,0l7,2l7,2l7,2l7,0l7,1M384,167l7,-2l7,-1l7,0l7,-1l7,-1l7,-2l7,-3l7,-2l7,-1l7,0l7,0l7,-1l7,-3l7,-3l7,-2l7,-2l7,0l7,-1l7,-1l7,-3l7,-3l7,-3M365,240l7,-1l7,1l7,2l7,0l7,-2l7,-1l7,2l7,2l7,0l7,-2l7,0l7,2l7,2l7,0l7,-1l7,0l7,2l7,2l7,-1M241,215l7,-1l7,0l7,0l7,1l7,1l7,1l7,0l7,0l7,0l7,0l7,1l7,1l7,1l7,1l7,0l7,0l7,0M365,248l7,-3l7,-2l7,-1l7,0l7,-2l7,-2l7,-4l7,-2l7,-2l7,0l7,-2l7,-3M308,138l7,-1l7,-3l7,-2l7,0l7,0l7,0l7,-2l7,-2l7,-1l7,0l7,1l7,-1l7,-3l7,-2M258,243l7,0l7,0l7,0l7,-1l7,0l7,1l7,1l7,1l7,0l7,-1l7,0l7,0l7,1l7,2l7,1l7,1l7,1l7,0l7,1l7,1l7,2M399,222l7,-3l7,-3l7,-1l7,1l7,0l7,-3l7,-3l7,-2l7,1l7,0l7,-3l7,-3M417,236l7,-1l7,1l7,2l7,-1l7,-1l7,2l7,1l7,-2l7,1l7,2l7,0l7,-2l7,1l7,1l7,-1l7,-1l7,2l7,1l7,-2l7,0l7,2l7,0l7,-2l7,1M341,284l7,-1l7,1l7,1l7,1l7,0l7,-1l7,-1l7,0l7,1l7,2l7,0l7,-1l7,-1l7,-1l7,1l7,1M308,201l7,-2l7,0l7,0l7,-1l7,-2l7,-2l7,-2l7,0l7,1l7,-1l7,-2l7,-3l7,-1l7,1l7,0l7,-1l7,-3l7,-3l7,-1l7,0l7,0l7,-2l7,-3l7,-2l7,-1l7,0l7,-1l7,-2l7,-3l7,-3M295,200l7,-1l7,-2l7,-2l7,-1l7,-2l7,0l7,-1l7,-2l7,-2l7,-2l7,-1l7,-1l7,-1l7,-1l7,-3l7,-2M254,205l7,-1l7,1l7,1l7,-1l7,-2l7,0l7,2l7,0l7,-3l7,0l7,1l7,2l7,-2l7,-2l7,1l7,2l7,0l7,-2l7,0l7,2l7,1l7,-2l7,-2l7,1l7,2l7,-1l7,-2l7,0l7,1M186,315l7,0l7,0l7,0l7,2l7,1l7,2l7,1l7,0l7,0l7,0l7,1l7,1l7,2l7,1l7,0l7,0l7,0l7,2l7,2l7,2l7,1l7,0l7,1l7,1l7,2l7,2l7,2l7,2l7,0l7,0M433,219l7,0l7,0l7,1l7,3l7,1l7,1l7,-1l7,-1l7,0l7,1l7,1l7,0l7,-1l7,-2l7,-2l7,0M350,141l7,2l7,1l7,-2l7,-1l7,2l7,1l7,-1l7,-1l7,0l7,2l7,0l7,-1l7,-1M334,141l7,-1l7,-1l7,0l7,0l7,-1l7,-1l7,-2l7,-1l7,-1l7,-1l7,0l7,-1M250,199l7,-1l7,2l7,0l7,-4l7,-2l7,2l7,0l7,-4l7,-1l7,1l7,0l7,-2l7,-2l7,1l7,1l7,-2l7,-2l7,1l7,2l7,-2l7,-2l7,1l7,2l7,-2l7,-2l7,1l7,2l7,0l7,-3l7,1M345,232l7,1l7,-1l7,-2l7,2l7,1l7,-2l7,-1l7,3l7,0l7,-3l7,1l7,3l7,-1l7,-2l7,2l7,2M449,213l7,0l7,-2l7,-4l7,-1l7,0l7,0l7,-3l7,-4l7,-2l7,-1l7,0l7,-2l7,-4l7,-3l7,-1l7,0l7,-2M322,171l7,-3l7,-2l7,-1l7,-2l7,-4l7,-2l7,-1l7,-2l7,-4l7,-3l7,-1l7,-1l7,-4l7,-3l7,-2l7,0l7,-2l7,-3l7,-2l7,0l7,-2l7,-3l7,-3l7,-2l7,-1l7,-2l7,-4l7,-2l7,-1l7,-2M173,206l7,1l7,0l7,0l7,2l7,3l7,2l7,0l7,0l7,2l7,2l7,3l7,1l7,0l7,0l7,2l7,2l7,2l7,0l7,0l7,1l7,2l7,3l7,1l7,0l7,0l7,2l7,3l7,2l7,0l7,0M275,190l7,2l7,0l7,-3l7,-2l7,2l7,-1l7,-3l7,-1l7,2l7,-1l7,-3l7,1l7,1l7,-1l7,-2l7,0l7,2l7,-2M388,266l7,2l7,2l7,1l7,0l7,1l7,2l7,1l7,1l7,0l7,1l7,2l7,2l7,0l7,0l7,1l7,2l7,0l7,0l7,-1l7,1l7,2M381,272l7,0l7,0l7,1l7,-1l7,-1l7,0l7,-1l7,1l7,0l7,0l7,0l7,-1l7,-1l7,0l7,0l7,0l7,0l7,0l7,0l7,-1M402,260l7,0l7,1l7,0l7,0l7,-1l7,-1l7,-1l7,1l7,1l7,1l7,0l7,-1l7,-2l7,0l7,0l7,1l7,0l7,-1l7,-2l7,-2l7,-1l7,0l7,1l7,-1l7,-2l7,-3l7,-2l7,-1l7,0M382,232l7,-1l7,0l7,-1l7,0l7,-1l7,-2l7,-2l7,-1l7,0l7,-1l7,0M315,255l7,-2l7,-1l7,-1l7,-1l7,-1l7,-3l7,-2l7,-1l7,-1l7,-1l7,-1l7,-3l7,-2l7,-1l7,-1l7,-2l7,-2l7,-3l7,-2l7,-1l7,-1l7,-2l7,-2l7,-3l7,-2l7,-2M317,207l7,-2l7,0l7,1l7,2l7,1l7,0l7,-1l7,0l7,1l7,1l7,1l7,-1l7,-2M428,277l7,2l7,0l7,0l7,2l7,2l7,0l7,0l7,3l7,1l7,-1l7,1l7,3l7,2l7,-1l7,2l7,4l7,1l7,-1l7,3l7,4l7,1l7,0l7,4l7,3l7,1M370,189l7,0l7,1l7,1l7,-1l7,-2l7,-2l7,-1l7,0l7,1l7,0l7,-3l7,-3l7,-2l7,0l7,1l7,0l7,-2l7,-3l7,-3l7,0l7,0M298,197l7,-2l7,-3l7,1l7,2l7,-2l7,-3l7,1l7,1l7,-1l7,-4l7,1l7,1l7,-2l7,-3l7,1l7,2l7,-2l7,-3l7,1l7,2l7,-2l7,-2l7,0l7,2l7,-1l7,-3l7,0l7,2M286,184l7,1l7,-2l7,-5l7,-3l7,0l7,0l7,-3l7,-4l7,0l7,1M390,191l7,1l7,3l7,2l7,-1l7,-2l7,0l7,1l7,2l7,1l7,-1l7,-2l7,-1l7,1l7,2l7,0l7,-1l7,-3l7,-1l7,1l7,2l7,0M300,312l7,1l7,0l7,1l7,2l7,3l7,2l7,2l7,1l7,0l7,1M353,213l7,-2l7,-4l7,-4l7,-4l7,-2l7,-2l7,0l7,-2l7,-3l7,-4l7,-3M218,147l7,0l7,1l7,1l7,1l7,0l7,0l7,1l7,1l7,2l7,2l7,0l7,1l7,0l7,1l7,2l7,2l7,1l7,1l7,1l7,2l7,2l7,2l7,2l7,1l7,1l7,1l7,2l7,3l7,2M334,259l7,-1l7,-1l7,-1l7,-1l7,-1l7,0l7,0l7,0l7,-1l7,-1l7,-1M235,155l7,0l7,-1l7,-1l7,0l7,1l7,0l7,0l7,0l7,-1l7,1l7,0l7,1l7,-1l7,0l7,0l7,0l7,0l7,-1l7,-1l7,0l7,0M381,306l7,1l7,2l7,1l7,1l7,0l7,2l7,2l7,0l7,1l7,2l7,1M219,289l7,1l7,1l7,0l7,0l7,1l7,1l7,2l7,0l7,1l7,1l7,2l7,1l7,1l7,1l7,2l7,2l7,1l7,1l7,1l7,2l7,2l7,1l7,1l7,1l7,2M269,193l7,-3l7,-2l7,-1l7,-1l7,-1l7,-2l7,-2l7,-2l7,-2l7,-1l7,0l7,-1l7,-1l7,-2l7,-1l7,-1l7,0l7,0l7,-1l7,0l7,-1l7,-2l7,0l7,-1M244,194l7,0l7,1l7,0l7,0l7,-1l7,-1l7,-1l7,0l7,1l7,1l7,0l7,0l7,-1l7,-1l7,0l7,0l7,1l7,1l7,-1l7,-1l7,0M440,283l7,0l7,-1l7,-1l7,1l7,2l7,1l7,-1l7,-1l7,-1l7,2l7,1l7,-1l7,-1M342,220l7,-1l7,0l7,0l7,0l7,-1l7,-1l7,-2l7,-1l7,0l7,1l7,0l7,-1l7,-1l7,-2l7,-1l7,1l7,0l7,1l7,0l7,-1l7,-1l7,0M431,233l7,1l7,3l7,3l7,2l7,1l7,0l7,0l7,1l7,2l7,3l7,2M425,261l7,2l7,3l7,1l7,0l7,0l7,2l7,2l7,2l7,0l7,0l7,0l7,2l7,2l7,1l7,0l7,0l7,1l7,3M200,214l7,1l7,0l7,0l7,0l7,1l7,1l7,-1l7,0l7,1l7,1l7,0l7,0l7,1l7,1l7,0l7,0l7,0l7,1l7,1l7,0l7,1l7,1l7,1l7,0l7,1l7,1l7,2l7,0l7,1"/></g></g><clipPath id="cs2"><rect x="473.5" y="1" width="171.5" height="488"/></clipPath><g clip-path="url(#cs2)"><g fill="none" stroke-linejoin="round" stroke-linecap="round" filter="url(#bs)"><path stroke="#f2949a" stroke-width="1.5" stroke-opacity="0.22" d="M614,366l7,-2l7,-2l7,-3l7,-5l7,-4l7,-4l7,-2l7,-2l7,-3l7,-4l7,-6l7,-4l7,-4M458,350l7,4l7,3l7,1l7,1l7,1l7,2l7,4l7,4l7,3l7,2l7,1l7,1l7,2l7,3l7,4l7,2l7,2l7,1l7,0l7,2l7,3l7,4M470,68l7,0l7,2l7,2l7,1l7,1l7,0l7,1l7,3l7,2l7,2l7,0l7,0l7,2l7,2l7,2l7,1l7,0l7,1M495,76l7,1l7,0l7,-2l7,-1l7,2l7,2l7,1l7,-1l7,-1l7,-1l7,1l7,2l7,1l7,-1l7,-2l7,-1l7,0l7,2l7,0l7,-2l7,-2l7,-2l7,1l7,2l7,0l7,-1l7,-2M427,387l7,-2l7,-1l7,-2l7,-3l7,-2l7,-2l7,-2l7,-3l7,-3l7,-2l7,-2l7,-2l7,-3l7,-3l7,-2l7,-2l7,-3l7,-3l7,-2l7,-1l7,-3l7,-4l7,-2l7,-2l7,-2l7,-4l7,-2l7,-2M477,379l7,-1l7,0l7,2l7,1l7,0l7,-1l7,1l7,1l7,1l7,0l7,-1l7,1l7,2l7,1l7,-1l7,0l7,1l7,2l7,1l7,0l7,0l7,1l7,2l7,1l7,0l7,0l7,1l7,2l7,1l7,-1M534,356l7,1l7,0l7,1l7,3l7,3l7,1l7,0l7,0l7,1l7,3l7,2M392,147l7,-4l7,-3l7,-3l7,-2l7,-4l7,-4l7,-2l7,-3l7,-4l7,-4l7,-3l7,-2l7,-3l7,-5l7,-3l7,-2l7,-3l7,-5l7,-3l7,-3l7,-2l7,-5l7,-4l7,-2l7,-2l7,-5l7,-4l7,-3l7,-2M544,348l7,1l7,1l7,2l7,2l7,3l7,2l7,2l7,2l7,1l7,1M545,364l7,3l7,1l7,2l7,1l7,2l7,3l7,2l7,3l7,1l7,2M590,362l7,3l7,3l7,4l7,3l7,2l7,2l7,2l7,3l7,4l7,4l7,3l7,3l7,2l7,1l7,2M489,104l7,-4l7,-4l7,-2l7,-2l7,-2l7,-2l7,-4l7,-5l7,-3l7,-3l7,-2l7,-2l7,-3l7,-4l7,-4M467,333l7,2l7,2l7,1l7,3l7,3l7,2l7,2l7,1l7,1l7,3l7,3l7,2l7,1l7,1l7,2l7,3l7,2l7,1l7,1l7,2l7,2l7,2M605,105l7,-2l7,-2l7,-2l7,-2l7,-2l7,-3l7,-3l7,-2l7,-2l7,-1l7,-2l7,-3l7,-2l7,-3l7,-1l7,-1l7,-2l7,-2l7,-3l7,-2l7,-2l7,-1l7,-2l7,-2M565,312l7,4l7,3l7,4l7,2l7,3l7,3l7,3l7,4l7,3l7,3l7,2l7,3l7,3l7,3l7,3l7,3l7,2l7,2l7,3l7,3l7,4M463,373l7,3l7,2l7,2l7,1l7,0l7,0l7,1l7,2l7,3l7,3l7,1l7,0l7,0l7,0l7,2M395,320l7,4l7,4l7,4l7,2l7,2l7,3l7,5l7,4l7,5l7,3l7,3l7,2l7,2l7,4l7,4l7,4l7,3l7,2l7,2l7,2l7,2l7,3l7,4l7,3l7,2l7,1l7,1l7,2l7,3M517,355l7,3l7,4l7,4l7,4l7,4l7,3l7,2l7,3l7,3l7,5M565,111l7,-3l7,-3l7,-3l7,-3l7,-2l7,-3l7,-3l7,-4l7,-3l7,-3l7,-3l7,-3l7,-4l7,-4l7,-4l7,-3l7,-3l7,-3l7,-3l7,-4l7,-3l7,-2l7,-2l7,-3l7,-4l7,-3l7,-3M497,339l7,1l7,2l7,2l7,3l7,3l7,2l7,1l7,1l7,3l7,3l7,3l7,1l7,2l7,1l7,2M532,101l7,-1l7,-2l7,-2l7,-2l7,-2l7,-1l7,-1l7,-2l7,-3l7,-1l7,-1l7,-1l7,-2l7,-2l7,-2l7,-1l7,-1l7,-1l7,-2l7,-2l7,-2l7,-1M431,334l7,0l7,0l7,2l7,1l7,0l7,1l7,2l7,1l7,0l7,1l7,3l7,2l7,0l7,1l7,3l7,2l7,0l7,2l7,3l7,2l7,1l7,1l7,3l7,2l7,1M481,86l7,-1l7,0l7,1l7,-1l7,-2l7,-3l7,-3l7,-2l7,-1l7,0l7,0l7,-1l7,-2M546,363l7,-1l7,0l7,1l7,0l7,1l7,-1l7,-1l7,0l7,0l7,0l7,2l7,1M478,70l7,3l7,3l7,-2l7,1l7,3l7,1l7,-2l7,1l7,3l7,-1l7,-2l7,2l7,3l7,-2l7,-2l7,3l7,1l7,-3l7,0l7,4l7,0l7,-2l7,2M604,109l7,-3l7,-2l7,0l7,0l7,-2l7,-3l7,-2l7,0l7,0l7,-1l7,-4l7,-3l7,0l7,0l7,-1l7,-5l7,-3l7,-1l7,0l7,-2M404,353l7,2l7,1l7,2l7,3l7,3l7,3l7,1l7,2l7,1l7,2l7,3l7,3l7,2l7,2l7,1l7,2l7,3l7,3l7,3l7,2l7,1l7,2l7,2l7,3l7,3M487,371l7,-2l7,-1l7,-1l7,1l7,1l7,1l7,0l7,-1l7,-1l7,-1l7,1l7,1l7,1l7,1l7,-1l7,-1l7,-1l7,1l7,1l7,1l7,1M430,373l7,1l7,1l7,1l7,0l7,1l7,1l7,1l7,1l7,0l7,-1l7,1l7,1l7,0l7,0l7,0l7,0M527,98l7,1l7,-2l7,-3l7,-1l7,1l7,0l7,-3l7,-3l7,1l7,0l7,-2l7,-4l7,-1l7,0l7,-1l7,-4l7,-2l7,1l7,0l7,-3l7,-3l7,-1l7,1l7,-2l7,-4l7,-1l7,1l7,0l7,-3l7,-2M560,109l7,0l7,-2l7,-2l7,-3l7,-1l7,0l7,-1l7,-3l7,-2l7,-2l7,0l7,0l7,-2l7,-2l7,-2l7,-1M572,372l7,1l7,0l7,-1l7,-2l7,-1l7,2l7,1l7,0l7,-2l7,-2l7,0l7,1M615,121l7,-3l7,-1l7,-1l7,-1l7,-3l7,-3l7,-2l7,-1l7,0l7,-2l7,-2l7,-3l7,-2l7,-1l7,0l7,-2l7,-3M586,108l7,1l7,-1l7,-2l7,0l7,1l7,1l7,-3l7,-2l7,0l7,1l7,-2l7,-3l7,-1l7,1l7,0l7,-2l7,-2l7,0l7,1l7,-1l7,-3l7,-1l7,0l7,0l7,-3M578,345l7,2l7,3l7,1l7,0l7,2l7,4l7,1l7,0l7,3l7,4l7,2l7,1l7,3l7,4l7,3l7,1l7,2l7,5l7,2l7,1l7,2l7,5l7,3l7,1l7,2M569,98l7,-1l7,0l7,-3l7,-3l7,-1l7,-1l7,-3l7,-3l7,-1l7,0l7,-3l7,-4l7,-2M492,373l7,2l7,2l7,2l7,2l7,1l7,1l7,2l7,1l7,2l7,2l7,2l7,2l7,1l7,2M502,129l7,-4l7,-3l7,-3l7,-1l7,-2l7,-1l7,-2l7,-2l7,-3l7,-2l7,-2l7,-2l7,-1l7,-1l7,-1l7,-3l7,-2l7,-3l7,-2l7,-2l7,-1l7,-1l7,-2l7,-2l7,-3M541,105l7,-1l7,0l7,-1l7,0l7,1l7,0l7,0l7,-1l7,0l7,0l7,1l7,0l7,-1l7,0M454,113l7,-3l7,-1l7,-1l7,-4l7,-2l7,-1l7,-2l7,-3l7,-2l7,0l7,-2l7,-3M382,376l7,0l7,-1l7,-2l7,-2l7,-2l7,-1l7,0l7,0l7,-1l7,-2l7,-2l7,-2l7,0l7,-1l7,-1l7,-1l7,-3l7,-1l7,-1l7,0l7,0l7,0l7,-2l7,-1l7,-1l7,0l7,0l7,-1M478,312l7,3l7,2l7,2l7,1l7,2l7,3l7,4l7,4l7,2l7,2l7,1l7,2l7,2l7,4l7,3l7,3l7,2l7,1l7,1l7,2l7,2l7,4l7,3l7,3l7,2l7,1l7,1l7,2l7,2l7,4l7,3M440,99l7,0l7,0l7,-1l7,0l7,-1l7,-1l7,-1l7,0l7,0l7,-1l7,0l7,-1l7,-2l7,-1l7,-1l7,0l7,0l7,-1l7,0l7,-1l7,-2l7,-1l7,0l7,0M614,89l7,-2l7,-2l7,0l7,0l7,0l7,0l7,-1l7,-1l7,-3l7,-1l7,-1l7,0l7,0l7,0l7,-2l7,-3l7,-2l7,-3l7,-1l7,0l7,0l7,0l7,-2l7,-3M420,363l7,0l7,2l7,1l7,-1l7,-1l7,1l7,1l7,0l7,-1l7,0l7,2l7,1l7,-1l7,-1l7,0M563,155l7,-4l7,-4l7,-3l7,-3l7,-4l7,-5l7,-4l7,-4l7,-2l7,-4l7,-4l7,-4l7,-5l7,-4l7,-2l7,-3l7,-4l7,-4l7,-5l7,-4l7,-3l7,-3l7,-4l7,-4l7,-4l7,-4M477,145l7,-5l7,-4l7,-5l7,-3l7,-4l7,-2l7,-3l7,-4l7,-4l7,-5l7,-4l7,-4l7,-3l7,-3l7,-3l7,-5l7,-4l7,-5l7,-4l7,-3l7,-3l7,-4l7,-3l7,-4M443,356l7,-2l7,-1l7,-2l7,0l7,1l7,1l7,-1l7,-2l7,-3l7,-2l7,0l7,1l7,0l7,-1l7,-2l7,-3l7,-2l7,-1l7,0l7,1l7,-1l7,-2l7,-2l7,-2l7,0M410,78l7,1l7,1l7,2l7,2l7,2l7,2l7,2l7,2l7,1l7,1l7,1l7,2l7,2l7,2l7,2l7,1l7,1l7,1l7,1l7,3l7,2l7,2l7,2l7,2l7,1l7,2M566,100l7,0l7,0l7,1l7,1l7,0l7,-1l7,-1l7,0l7,0l7,1l7,0l7,0l7,-1l7,-1l7,0l7,-1l7,0M549,94l7,3l7,1l7,1l7,0l7,1l7,3l7,3l7,3l7,3l7,1l7,1M591,329l7,2l7,5l7,3l7,2l7,3l7,5l7,2l7,2l7,4l7,4l7,2l7,3l7,4l7,3l7,2l7,4l7,5l7,2l7,3l7,5l7,3l7,2l7,4M615,131l7,-1l7,-3l7,-3l7,-4l7,-2l7,-1l7,-3l7,-3l7,-4l7,-1l7,-2l7,-2l7,-3l7,-3l7,-2l7,-2l7,-2l7,-3l7,-4l7,-3l7,-2l7,-2l7,-3l7,-4l7,-3l7,-1M438,112l7,-4l7,-4l7,-2l7,-3l7,-3l7,-4l7,-4l7,-4l7,-3l7,-2M619,96l7,-3l7,-3l7,-1l7,-2l7,0l7,-1l7,-1l7,-3l7,-2l7,-3l7,-2l7,-1l7,-2l7,-1l7,-2l7,-3l7,-3l7,-3l7,-2l7,-2M504,90l7,-1l7,0l7,1l7,2l7,1l7,-1l7,-2l7,-1l7,1l7,2l7,1M463,92l7,-1l7,0l7,0l7,0l7,-1l7,-1l7,0l7,0l7,-1l7,-1l7,0l7,0l7,-1M433,109l7,0l7,-2l7,-3l7,-3l7,-2l7,-1l7,-1l7,-3l7,-3l7,-2l7,0l7,-2l7,-3M439,367l7,0l7,0l7,1l7,2l7,2l7,1l7,0l7,0l7,1l7,1l7,1M589,336l7,4l7,3l7,3l7,2l7,2l7,3l7,3l7,4l7,3l7,1l7,1l7,3l7,3M408,108l7,-1l7,-1l7,-2l7,-2l7,-2l7,-1l7,-1l7,-1l7,-2l7,-3l7,-3l7,-2l7,-1l7,-1l7,-1l7,-3l7,-2l7,-2l7,-1l7,0M433,103l7,0l7,-2l7,-2l7,-4l7,-3l7,-1l7,-1l7,0l7,-1l7,-2l7,-3l7,-3l7,-2l7,-2l7,-1l7,0l7,-1l7,-2l7,-3l7,-3l7,-2l7,-1l7,0l7,0M384,361l7,0l7,0l7,1l7,1l7,1l7,2l7,1l7,1l7,0l7,0l7,2l7,1l7,2l7,2l7,1l7,1l7,1l7,1l7,2l7,2l7,2l7,2l7,1l7,1l7,1l7,2l7,2l7,2M544,371l7,2l7,1l7,-2l7,-2l7,1l7,2l7,-1l7,-2l7,-2l7,2l7,1l7,0l7,-3l7,-1M557,96l7,-2l7,-2l7,0l7,0l7,-2l7,-2l7,0l7,0l7,-1l7,-2l7,0l7,0l7,-1l7,-2l7,0l7,0l7,-1l7,-2l7,-1l7,0"/><path stroke="#f2949a" stroke-width="1.8" stroke-opacity="0.28" d="M495,257l7,-1l7,-1l7,-1l7,1l7,2l7,-1l7,-1l7,0l7,1l7,2l7,1l7,-1l7,0M404,199l7,2l7,-1l7,0l7,0l7,2l7,2l7,1l7,0l7,-1l7,2l7,3l7,2l7,1l7,-1l7,0l7,2l7,2l7,2M595,164l7,-3l7,-3l7,-2l7,-2l7,-2l7,-3l7,-3l7,-2l7,-3l7,-2l7,-2l7,-2l7,-3l7,-2l7,-2l7,-2l7,-1l7,-2l7,-3l7,-3l7,-2l7,-2l7,-2l7,-1l7,-3l7,-2l7,-3l7,-3l7,-2M450,256l7,-3l7,-2l7,-2l7,-2l7,0l7,-1l7,-2l7,-2l7,-3l7,-2l7,-2l7,0l7,-1l7,-1l7,-2l7,-3l7,-3l7,-1l7,-1M441,274l7,0l7,-2l7,1l7,3l7,-1l7,-2l7,4l7,1l7,-2l7,0l7,3l7,-1l7,-2l7,2l7,2l7,-3l7,-1l7,3M502,126l7,-2l7,-2l7,-1l7,0l7,-1l7,-1l7,-2l7,-2l7,-1l7,0l7,-1l7,-2M583,343l7,2l7,2l7,1l7,2l7,3l7,3l7,3l7,2l7,1l7,1l7,2M385,149l7,-2l7,-1l7,0l7,1l7,-1l7,-1l7,-2l7,-2l7,-2l7,0l7,0l7,0l7,-2l7,-2l7,-3l7,-2l7,-1l7,0l7,-1l7,-2l7,-3l7,-4l7,-2l7,-1l7,-1l7,-1M498,141l7,-2l7,-1l7,-1l7,0l7,0l7,-2l7,-2l7,-1l7,0l7,1l7,-1l7,-1l7,-2l7,-1l7,1l7,1l7,1l7,0l7,-2l7,-1l7,0l7,1M579,192l7,-1l7,-2l7,-2l7,-2l7,-1l7,-1l7,-1l7,-1l7,-2l7,-2l7,-1l7,-1l7,-1l7,-1l7,-2l7,-1l7,-1l7,-1l7,0l7,-1l7,-2l7,-1l7,-2l7,-1l7,0l7,-2M539,155l7,4l7,3l7,2l7,3l7,4l7,3l7,2l7,3l7,4l7,3l7,3l7,2l7,3l7,3l7,3l7,2l7,3l7,3l7,3l7,2l7,2l7,3l7,3l7,2l7,2l7,3l7,3l7,3l7,2M612,174l7,-2l7,0l7,-1l7,-1l7,-2l7,-2l7,-1l7,0l7,-1l7,-1l7,-3l7,-2l7,-1l7,0l7,-1l7,-2l7,-2l7,-2l7,-1l7,-1l7,-2l7,-3l7,-3M353,212l7,-1l7,-1l7,0l7,3l7,2l7,0l7,-1l7,-1l7,1l7,3l7,0l7,-1l7,-2l7,0l7,2l7,2l7,-2l7,-2l7,-1l7,1l7,3l7,0l7,-2l7,-2l7,0l7,2l7,2l7,-1l7,-2M531,213l7,0l7,2l7,2l7,2l7,0l7,0l7,0l7,2l7,2l7,2l7,1l7,0l7,0l7,1l7,2l7,3l7,2l7,0l7,0l7,1l7,2l7,3l7,2l7,0M576,347l7,-2l7,-4l7,-4l7,-1l7,-2l7,-3l7,-4l7,-4l7,-3l7,-1l7,-3l7,-4l7,-5l7,-3l7,-1l7,-3M467,206l7,1l7,1l7,0l7,0l7,0l7,1l7,2l7,1l7,1l7,0l7,1l7,0l7,2l7,2l7,2l7,1l7,0l7,1l7,1l7,1l7,2l7,1l7,0l7,1l7,0l7,2l7,1M441,233l7,-2l7,-3l7,-4l7,-2l7,-2l7,-1l7,-3l7,-2l7,-2l7,-1l7,-2l7,-3l7,-3l7,-2l7,-1l7,-2l7,-3l7,-2l7,-2l7,-1l7,-2l7,-2l7,-2l7,-2l7,-1l7,-1l7,-1M526,216l7,2l7,1l7,1l7,3l7,2l7,0l7,1l7,3l7,1l7,1l7,1l7,2l7,2l7,0l7,1l7,3l7,2l7,1l7,1M497,284l7,1l7,-1l7,-2l7,1l7,1l7,-2l7,-1l7,0l7,1l7,-2l7,-2l7,1l7,0M453,354l7,3l7,3l7,2l7,1l7,1l7,3l7,4l7,3l7,2l7,1l7,1l7,3M620,185l7,-1l7,-1l7,-1l7,0l7,2l7,1l7,1l7,0l7,-1l7,0l7,0l7,2l7,2l7,1l7,0l7,-1l7,1l7,1l7,2l7,2l7,1l7,0l7,0M437,149l7,-2l7,-1l7,0l7,0l7,-1l7,-2l7,-2l7,-2l7,-1l7,0l7,0l7,-1l7,-1l7,-2l7,-1l7,-1l7,0l7,0l7,0l7,-2l7,-2l7,-1l7,0l7,1l7,0l7,-1l7,-2l7,-1M409,201l7,1l7,-2l7,-3l7,-1l7,1l7,-1l7,-3l7,-2l7,1l7,1l7,-2l7,-2l7,0l7,1l7,-1l7,-4l7,-2l7,1l7,0l7,-3l7,-3l7,0l7,1l7,-2l7,-2l7,-1l7,1l7,-1M408,256l7,-1l7,-1l7,1l7,1l7,2l7,-1l7,-1l7,0l7,0l7,2l7,0l7,0l7,-1l7,0l7,1l7,1l7,1l7,-1l7,-1l7,0l7,1l7,0l7,0l7,-2M497,153l7,-3l7,-3l7,-4l7,-3l7,-2l7,-2l7,-2l7,-2l7,-3l7,-4l7,-3l7,-3l7,-2l7,-2l7,-1l7,-2M609,297l7,2l7,1l7,1l7,-1l7,-2l7,-1l7,1l7,2l7,1l7,1l7,-1l7,-1l7,-1l7,2l7,2l7,2l7,1l7,-1l7,-1l7,0l7,1l7,2l7,2l7,1l7,-1l7,-1l7,0l7,1l7,2l7,2l7,0M615,255l7,-2l7,-1l7,0l7,0l7,-1l7,-1l7,-2l7,-2l7,-1l7,-1l7,0l7,-1l7,-1l7,-2l7,-2l7,-1l7,-1l7,-1l7,-1l7,-2l7,-2l7,-2l7,-1l7,-1l7,0l7,-1l7,-2l7,-1l7,-2M389,106l7,-4l7,-1l7,1l7,1l7,-3l7,-3l7,0l7,1l7,-1l7,-4l7,-2l7,2l7,0l7,-4l7,-3l7,1l7,1l7,-3l7,-4l7,0l7,1l7,-1l7,-4l7,-2l7,1l7,0l7,-3l7,-3l7,0l7,1l7,-2M573,195l7,-1l7,-2l7,-2l7,-3l7,-3l7,-2l7,-2l7,-1l7,-2l7,-3l7,-4l7,-3l7,-3l7,-3l7,-2l7,-1l7,-2l7,-4l7,-3l7,-4l7,-3l7,-2l7,-1l7,-2l7,-2l7,-3l7,-3M420,76l7,0l7,2l7,1l7,1l7,-1l7,0l7,0l7,0l7,2l7,1l7,1l7,0l7,0l7,-1l7,0l7,0l7,2l7,1l7,0l7,-1l7,-2l7,-1l7,-1l7,1l7,0l7,-1l7,-1l7,-2l7,-3l7,-1M525,155l7,-2l7,-2l7,-1l7,0l7,0l7,0l7,-1l7,-1l7,-3l7,-1l7,-1l7,0l7,0l7,-1l7,-1l7,-2l7,-2l7,-1l7,0l7,0l7,0l7,-2l7,-2l7,-2l7,-1M550,172l7,0l7,-1l7,-1l7,-2l7,-2l7,-2l7,-1l7,-1l7,1l7,-1l7,-1l7,-3l7,-3l7,-2l7,-1l7,0l7,0l7,0l7,-2l7,-2l7,-2l7,-1l7,0M389,355l7,1l7,0l7,-1l7,-1l7,1l7,2l7,2l7,1l7,0l7,-1l7,0l7,1l7,2l7,2l7,1l7,0l7,-1l7,0l7,0l7,2l7,2l7,2l7,0M615,375l7,1l7,1l7,0l7,-2l7,-2l7,0l7,0l7,1l7,0l7,-2l7,-2l7,0l7,1l7,1l7,-1l7,-2l7,-2l7,0l7,1l7,1l7,-1l7,-2l7,-2l7,-1l7,1l7,1M560,326l7,1l7,-1l7,-2l7,1l7,0l7,-3l7,-2l7,1l7,-2l7,-3l7,-1l7,1l7,-2l7,-3l7,0l7,0l7,-3l7,-2l7,1l7,-1l7,-2l7,-1l7,1l7,-1M492,205l7,2l7,2l7,1l7,1l7,1l7,2l7,2l7,2l7,2l7,1l7,1l7,3l7,2l7,2l7,1l7,3l7,3l7,2l7,1l7,2l7,2l7,3l7,3l7,1l7,2M539,172l7,0l7,-2l7,0l7,1l7,-1l7,-1l7,0l7,0l7,-1l7,-1l7,0M498,216l7,0l7,2l7,2l7,0l7,-1l7,1l7,2l7,1l7,-2l7,1l7,2l7,2l7,-1M518,213l7,-1l7,2l7,2l7,1l7,-1l7,-2l7,1l7,1l7,1l7,-2l7,-3l7,0l7,2l7,1l7,-2l7,-2l7,0l7,1l7,1l7,-1l7,-2l7,0M538,162l7,-2l7,-2l7,0l7,0l7,1l7,-1l7,-2l7,-2l7,0l7,0l7,0l7,-1l7,-2l7,-1l7,0M472,352l7,-4l7,-3l7,-4l7,-3l7,-2l7,-3l7,-3l7,-3l7,-4l7,-4l7,-3l7,-3l7,-3l7,-4l7,-4l7,-4l7,-4l7,-3M471,352l7,1l7,1l7,3l7,1l7,0l7,2l7,2l7,2l7,0l7,1l7,3l7,2l7,1M423,101l7,-2l7,-1l7,0l7,0l7,-2l7,-1l7,-1l7,0l7,-2l7,-2l7,-1l7,-1M583,282l7,-3l7,-2l7,-1l7,1l7,0l7,-1l7,-3l7,-2l7,-1l7,0l7,0l7,0l7,-3l7,-2l7,-2M513,362l7,1l7,3l7,3l7,3l7,2l7,1l7,1l7,2l7,3l7,4l7,3l7,2l7,0l7,2l7,2l7,4l7,4l7,3l7,2l7,1l7,2l7,3l7,4l7,4l7,3l7,1M377,137l7,-3l7,-4l7,-4l7,-5l7,-3l7,-3l7,-3l7,-4l7,-5l7,-3l7,-2l7,-3l7,-3l7,-4l7,-4l7,-2l7,-2l7,-4l7,-4l7,-3l7,-2l7,-2l7,-3l7,-4l7,-3l7,-2M599,199l7,3l7,5l7,4l7,1l7,2l7,3l7,4l7,3l7,1l7,2l7,3l7,4l7,3l7,2l7,1M470,341l7,4l7,2l7,0l7,0l7,2l7,3l7,2l7,-1l7,1l7,3l7,3l7,0l7,-1l7,2l7,3l7,2l7,-1l7,0M498,205l7,-4l7,-4l7,-3l7,-3l7,-4l7,-5l7,-4l7,-3l7,-3l7,-4l7,-5l7,-3M434,264l7,-1l7,-3l7,-2l7,0l7,0l7,-1l7,-3l7,-2l7,-1l7,0l7,0l7,-2l7,-2l7,-1l7,0l7,0l7,-1l7,-2l7,-2M598,243l7,2l7,-1l7,1l7,4l7,3l7,1l7,-1l7,2l7,4l7,1l7,-1l7,0l7,3l7,3l7,0l7,-1l7,0l7,3l7,2M418,373l7,0l7,0l7,-1l7,-1l7,0l7,1l7,2l7,1l7,0l7,-1l7,-1l7,0l7,1l7,2l7,2l7,1l7,1l7,-1l7,0l7,1l7,2l7,3M603,252l7,-1l7,0l7,-2l7,-2l7,-1l7,-1l7,-1l7,-2l7,-2l7,-1l7,0l7,-2l7,-2l7,-2l7,-1l7,-1M480,186l7,-2l7,-1l7,-4l7,-3l7,-2l7,-1l7,-2l7,-3l7,-3l7,-1l7,-2l7,-2l7,-3l7,-2l7,-2l7,-1l7,-2l7,-3l7,-3l7,-1l7,-1l7,-2l7,-3l7,-1l7,-1l7,-1l7,-2l7,-2M430,164l7,-3l7,-4l7,-3l7,0l7,-2l7,-4l7,-3l7,-1l7,-1l7,-4l7,-3l7,0l7,-2l7,-3l7,-4l7,0l7,-1l7,-3l7,-3l7,-1l7,0l7,-3l7,-4l7,0l7,0l7,-2l7,-3l7,-1l7,0M401,349l7,0l7,0l7,-1l7,-3l7,-2l7,-1l7,0l7,-1l7,-2l7,-3l7,-2l7,0l7,0l7,-2l7,-2l7,-2l7,-1l7,1l7,-1l7,-3l7,-3l7,0l7,0l7,0l7,-2l7,-3l7,-1l7,0l7,0l7,-1M548,357l7,5l7,3l7,1l7,3l7,5l7,5l7,3l7,2l7,2l7,6M545,329l7,4l7,2l7,2l7,2l7,3l7,3l7,4l7,3l7,3l7,1l7,3l7,3l7,3l7,4l7,3l7,2l7,2l7,3l7,3l7,4l7,4l7,3l7,3l7,2l7,2l7,3M508,188l7,0l7,-1l7,-2l7,-1l7,1l7,0l7,0l7,-2l7,-1l7,0l7,1l7,1l7,-1l7,-1l7,0l7,1l7,0l7,0l7,-2l7,0l7,1l7,1l7,0l7,-1l7,-1M502,97l7,-1l7,-1l7,-2l7,-4l7,-3l7,-3l7,-1l7,-2l7,-3l7,-4l7,-3M410,230l7,-2l7,-3l7,-4l7,-3l7,-3l7,-2l7,-1l7,-2l7,-3l7,-4l7,-5l7,-3l7,-3l7,-2l7,-2l7,-3l7,-4l7,-4l7,-4l7,-3l7,-2l7,-2M518,119l7,-3l7,-3l7,-2l7,-3l7,-4l7,-5l7,-5l7,-3l7,-3l7,-2l7,-3l7,-4l7,-5l7,-5l7,-3l7,-3l7,-3l7,-2l7,-4l7,-4l7,-5l7,-4l7,-3l7,-2l7,-3M459,222l7,1l7,1l7,0l7,0l7,-1l7,-1l7,0l7,0l7,1l7,0l7,0l7,-2l7,-1l7,0l7,0l7,1l7,0l7,0l7,-1M588,216l7,-1l7,-1l7,-2l7,-1l7,0l7,0l7,-1l7,-2l7,-1l7,0l7,0l7,-1l7,-2l7,-1l7,0l7,0l7,-2l7,-1l7,-1l7,0l7,-1l7,-1l7,-2l7,-1M519,85l7,4l7,5l7,5l7,3l7,2l7,4l7,5l7,5l7,3l7,3l7,2l7,5l7,5M576,113l7,-3l7,-2l7,0l7,-1l7,-3l7,-3l7,-3l7,-1l7,-1l7,-1l7,-4l7,-4l7,-2l7,-1l7,-1l7,-3l7,-4l7,-4l7,-1l7,-1l7,-1l7,-3l7,-4l7,-2l7,-2M436,95l7,0l7,0l7,-1l7,0l7,2l7,0l7,-1l7,0l7,0l7,2M604,335l7,-4l7,-3l7,0l7,-1l7,-3l7,-4l7,-1l7,-1l7,-1l7,-4l7,-3l7,0l7,-1l7,-2l7,-4l7,-2l7,0l7,-1l7,-4l7,-3l7,-1l7,0l7,-2l7,-4l7,-2l7,0l7,0l7,-3M591,188l7,2l7,4l7,6l7,3l7,3l7,4l7,5l7,3l7,3l7,4l7,5l7,3l7,3l7,4l7,4l7,3l7,3M599,205l7,1l7,-1l7,-1l7,-1l7,0l7,0l7,1l7,0l7,-1l7,-1l7,-3l7,-1l7,0l7,0l7,0l7,0l7,-2M473,285l7,3l7,1l7,1l7,4l7,4l7,2l7,1l7,3l7,4l7,3l7,1l7,2l7,5l7,4l7,2M477,101l7,-1l7,0l7,0l7,-2l7,-3l7,-2l7,-1l7,0l7,-1l7,-3l7,-2l7,-2l7,0l7,-2M534,233l7,-2l7,-3l7,-4l7,-4l7,-2l7,-2l7,-2l7,-3l7,-3l7,-4l7,-3l7,-2l7,-2l7,-3l7,-3l7,-4l7,-5M464,262l7,3l7,1l7,2l7,2l7,3l7,3l7,1l7,3l7,3l7,4l7,2l7,1l7,4l7,3l7,3M538,255l7,-1l7,1l7,1l7,1l7,0l7,0l7,0l7,0l7,2l7,1l7,1l7,0l7,-1l7,1l7,1l7,2l7,0l7,-1l7,0l7,0l7,1M600,118l7,-2l7,-3l7,0l7,1l7,1l7,-2l7,-2l7,0l7,2l7,0l7,-2l7,-2l7,1l7,2l7,0l7,-1l7,-1l7,2l7,2l7,1l7,-2l7,-1l7,2M456,209l7,0l7,1l7,0l7,-1l7,0l7,1l7,-1l7,0l7,1l7,0l7,-1l7,0l7,1M432,281l7,-1l7,-1l7,0l7,2l7,2l7,-1l7,-1l7,-1l7,2l7,2l7,1l7,-1l7,-1l7,1l7,2l7,2l7,-1l7,-2l7,0l7,1l7,3l7,0l7,-2l7,-1l7,1l7,3l7,1M450,242l7,0l7,-1l7,1l7,1l7,0l7,-1l7,0l7,2l7,0l7,0l7,1l7,2l7,0l7,-1l7,1M455,190l7,-2l7,1l7,1l7,-2l7,-3l7,-1l7,1l7,1l7,-2l7,-3l7,-1l7,1l7,1M397,224l7,3l7,1l7,-1l7,2l7,3l7,0l7,-1l7,1l7,3l7,0l7,-1l7,2l7,3l7,-2l7,0l7,3l7,1l7,-2l7,1M475,228l7,0l7,0l7,2l7,2l7,0l7,0l7,1l7,2l7,3l7,1l7,0l7,1l7,2l7,2l7,1l7,0l7,1l7,2l7,2l7,0l7,0M616,332l7,3l7,2l7,0l7,0l7,1l7,2l7,3l7,2l7,0l7,0l7,1l7,3l7,2l7,1l7,0l7,1l7,2l7,3l7,2l7,0l7,0l7,1l7,2l7,3l7,2l7,0l7,0M566,102l7,1l7,0l7,0l7,0l7,-1l7,-1l7,0l7,0l7,0l7,1l7,0l7,-1l7,0l7,-1l7,0l7,0l7,1l7,0l7,0l7,-1l7,-1l7,-1M460,298l7,-1l7,1l7,4l7,3l7,1l7,-1l7,1l7,2l7,3l7,1l7,-1l7,0l7,2M457,370l7,1l7,3l7,0l7,-1l7,-2l7,1l7,2l7,1l7,-3l7,-1M570,317l7,-2l7,-1l7,-1l7,-1l7,-2l7,-2l7,0l7,0l7,0l7,-2l7,-1M544,305l7,0l7,-1l7,-1l7,-1l7,-1l7,0l7,0l7,1l7,-1l7,-1l7,-1l7,-2l7,-1l7,0l7,0l7,-1l7,0l7,-2l7,-1l7,-1l7,-1l7,0M491,305l7,-5l7,-3l7,-1l7,-1l7,-4l7,-4l7,-4l7,-1l7,-2l7,-3l7,-5l7,-4l7,-2l7,0l7,-3l7,-4l7,-4l7,-3l7,-1l7,-2l7,-5l7,-4l7,-4l7,-1l7,-2M423,204l7,-1l7,2l7,-1l7,-4l7,0l7,2l7,-1l7,-3l7,-1l7,2l7,0l7,-4l7,0l7,1l7,0l7,-4"/><path stroke="#f2949a" stroke-width="1.9" stroke-opacity="0.35" d="M474,271l7,-1l7,-2l7,-2l7,1l7,1l7,-1l7,-2l7,0l7,1l7,1l7,-1l7,-2l7,0l7,2l7,0l7,-1l7,-2l7,0l7,2l7,-1l7,-2l7,-2l7,0l7,2l7,-1l7,-3l7,-1l7,0M459,236l7,-5l7,-4l7,-3l7,-3l7,-3l7,-4l7,-5l7,-4l7,-3l7,-3l7,-2l7,-4l7,-4l7,-5l7,-4l7,-3l7,-3l7,-2l7,-5l7,-4l7,-5l7,-4l7,-3l7,-2l7,-4M557,323l7,-1l7,-2l7,-2l7,-3l7,-1l7,0l7,0l7,-1l7,-3l7,-3l7,-2l7,0l7,0l7,-1l7,-1l7,-4l7,-2l7,-2M455,204l7,3l7,3l7,1l7,0l7,1l7,1l7,3l7,3l7,3l7,1l7,1l7,0l7,1l7,2l7,3M582,119l7,1l7,2l7,4l7,5l7,3l7,1l7,1l7,5l7,4l7,3M602,320l7,1l7,-1l7,-2l7,-2l7,-1l7,0l7,0l7,0l7,-3l7,-2l7,-1l7,0l7,0l7,-1l7,-3l7,-3l7,-1l7,0l7,0l7,-1l7,-3l7,-3l7,-1l7,0l7,0l7,-2l7,-3l7,-3M564,312l7,3l7,2l7,1l7,-1l7,0l7,3l7,3l7,2l7,0l7,0l7,1l7,3l7,4l7,1l7,0l7,0l7,3l7,4l7,3l7,0l7,0l7,1l7,4l7,4l7,1l7,0l7,0l7,2l7,4M600,303l7,0l7,0l7,-1l7,-2l7,-2l7,-1l7,-1l7,0l7,0l7,-1l7,-1l7,-2l7,-1l7,0M504,274l7,1l7,1l7,-1l7,-2l7,-2l7,-1l7,1l7,1l7,0l7,-2M434,257l7,5l7,5l7,3l7,2l7,2l7,4l7,5l7,5l7,3l7,2l7,3l7,5l7,5l7,4l7,2l7,3l7,4l7,5l7,5l7,3l7,1l7,3l7,4l7,5l7,4l7,1M532,153l7,-1l7,-1l7,-2l7,-2l7,-1l7,0l7,-1l7,-1l7,-2l7,-1l7,0l7,-1l7,-1l7,-2l7,-2l7,-2l7,-1l7,-2l7,-2l7,-2l7,-2M378,298l7,0l7,2l7,3l7,2l7,1l7,1l7,0l7,1l7,1l7,2l7,2l7,2l7,2l7,0l7,0l7,0l7,2l7,2l7,2l7,2l7,1l7,1l7,0M399,199l7,-5l7,-4l7,0l7,-2l7,-5l7,-3l7,0l7,-1l7,-5l7,-2l7,1l7,-2l7,-4l7,-3l7,1l7,-2l7,-5l7,-3l7,1l7,-1l7,-5l7,-1l7,1M375,263l7,-3l7,-2l7,-2l7,-2l7,-2l7,-2l7,-3l7,-3l7,-2l7,-2l7,-2l7,-3l7,-3l7,-2l7,-2l7,-3l7,-3l7,-3l7,-2l7,-2l7,-2l7,-3l7,-3l7,-3l7,-2l7,-2l7,-2M499,162l7,1l7,-2l7,-4l7,-2l7,1l7,-4l7,-4l7,0l7,0l7,-5l7,-2l7,0l7,-3M508,129l7,-2l7,-1l7,-2l7,-3l7,-3l7,-3l7,-2l7,-2l7,-2l7,-3l7,-3l7,-3l7,-3l7,-2l7,-2l7,-3l7,-3l7,-4l7,-2l7,-3M388,294l7,-2l7,-3l7,-2l7,-2l7,-1l7,-1l7,-2l7,-2l7,-1l7,-1l7,-1l7,-1l7,-2l7,-2l7,-1l7,-1l7,0l7,-2l7,-1l7,-2M406,315l7,1l7,1l7,0l7,-1l7,-2l7,-1l7,1l7,1l7,0l7,-1l7,-1l7,-2l7,0l7,1l7,1l7,0l7,-2l7,-2l7,-1l7,0l7,1l7,0l7,-1M444,218l7,-2l7,-1l7,0l7,1l7,-1l7,-3l7,-3l7,-2l7,-1l7,-1l7,0l7,-1l7,-2l7,-2l7,-2l7,0l7,0l7,0l7,-1l7,-3l7,-3l7,-2l7,-1l7,-1M607,303l7,1l7,0l7,1l7,1l7,1l7,2l7,1l7,1l7,1l7,1l7,1l7,3l7,2l7,2M574,172l7,-2l7,-1l7,-1l7,-2l7,-4l7,-3l7,-2l7,-2l7,-1l7,-1l7,-3l7,-3l7,-3l7,-1l7,-1l7,-1l7,-2l7,-3l7,-3l7,-2M589,200l7,1l7,-1l7,1l7,3l7,1l7,-1l7,1l7,3l7,1l7,-1l7,1l7,3M417,116l7,1l7,3l7,4l7,1l7,-1l7,1l7,3l7,5l7,1l7,-1l7,2l7,4l7,4l7,1l7,0l7,2l7,4l7,4l7,1l7,0l7,3l7,4l7,4l7,0l7,1l7,3l7,5M480,203l7,2l7,1l7,2l7,0l7,0l7,-1l7,0l7,0l7,1l7,1l7,1l7,-1l7,-1l7,0l7,0M538,152l7,-1l7,-2l7,-2l7,-1l7,2l7,1l7,0l7,-2l7,-3l7,0l7,1l7,2l7,0l7,-1l7,-2l7,-1l7,1l7,3l7,1l7,0l7,-2l7,0l7,1l7,2l7,2l7,-1l7,-2l7,-1M604,252l7,5l7,2l7,2l7,4l7,4l7,2l7,3l7,4l7,4l7,2l7,3l7,5l7,2l7,3l7,4l7,4l7,3l7,3l7,6M566,262l7,-2l7,-2l7,0l7,2l7,-1l7,-3l7,-1l7,2l7,-1l7,-3l7,-1l7,2l7,1l7,-2l7,-2l7,2l7,2l7,-2l7,-2l7,1l7,2M357,127l7,0l7,-2l7,-2l7,-1l7,0l7,1l7,0l7,-1l7,-2l7,-2l7,0l7,0l7,0l7,-1l7,-2l7,-2l7,-1l7,0l7,0l7,0l7,-2l7,-2l7,-1l7,0l7,0l7,0l7,-2l7,-2M543,277l7,-1l7,0l7,0l7,2l7,2l7,1l7,0l7,0l7,1l7,2l7,3l7,1l7,1l7,0l7,1l7,2l7,3M532,333l7,-1l7,-1l7,-1l7,-3l7,-1l7,0l7,0l7,-2l7,-2l7,0l7,0l7,0l7,-2l7,-1l7,0l7,-1l7,-2l7,-2l7,-1l7,0l7,-1l7,-2l7,-2l7,-1l7,0l7,-3l7,-2l7,-2l7,0l7,-1l7,-2M499,197l7,-1l7,-1l7,0l7,1l7,1l7,-1l7,-1l7,0l7,1l7,0l7,-1l7,-1l7,-1l7,1l7,0l7,-1l7,-1l7,-1l7,0l7,0l7,0l7,-1l7,-2M538,269l7,-1l7,-2l7,-2l7,-2l7,0l7,1l7,0l7,-2l7,-2l7,-2l7,0l7,0l7,1l7,0M506,239l7,1l7,0l7,1l7,2l7,3l7,1l7,1l7,0l7,0l7,2l7,3l7,2l7,1l7,1l7,1l7,1l7,3l7,3l7,1l7,1l7,0l7,2l7,2l7,3l7,2l7,1l7,0l7,2l7,2l7,3l7,2M610,165l7,-4l7,-3l7,-3l7,-3l7,-2l7,-4l7,-3l7,-4l7,-3l7,-2l7,-2l7,-2l7,-3l7,-3l7,-3l7,-3M469,264l7,1l7,1l7,2l7,4l7,2l7,0l7,1l7,4l7,3l7,1l7,0l7,2l7,3l7,3l7,1l7,0M467,280l7,-2l7,-3l7,-2l7,-1l7,-2l7,-2l7,-3l7,-2l7,-1l7,-1M463,198l7,-2l7,-2l7,-1l7,-1l7,-2l7,-2l7,-2l7,-2l7,-1l7,-2l7,-1l7,-1l7,-2l7,-2l7,-1l7,-2l7,-1l7,-1M494,175l7,2l7,-1l7,-2l7,1l7,3l7,1l7,-2l7,0l7,2l7,2l7,0l7,-2l7,1l7,3l7,1l7,-2l7,-1l7,1l7,3l7,1l7,-2l7,0l7,3M568,155l7,1l7,0l7,-1l7,0l7,0l7,0l7,1l7,0l7,-1l7,0l7,-1l7,0l7,1l7,0l7,1l7,-1l7,-1l7,0l7,0l7,0l7,1l7,0l7,-1l7,-1l7,0M385,313l7,-2l7,1l7,2l7,2l7,0l7,-1l7,0l7,3l7,2l7,0l7,-2l7,0l7,3l7,2l7,-1l7,-1l7,0l7,2l7,2l7,0l7,-1l7,0l7,2M581,229l7,0l7,0l7,0l7,-2l7,-3l7,-1l7,0l7,0l7,-1l7,-2l7,-3l7,-1l7,0l7,0l7,-2l7,-2l7,-3l7,-1l7,-1l7,0l7,-2l7,-2l7,-3l7,-1l7,-1l7,-1M451,276l7,4l7,4l7,2l7,1l7,3l7,4l7,3l7,1l7,2l7,4l7,3l7,2l7,1l7,2l7,3l7,3l7,1l7,2M434,252l7,0l7,2l7,4l7,2l7,0l7,3l7,3l7,1l7,1l7,3l7,3M514,344l7,-3l7,-3l7,-4l7,-5l7,-4l7,-4l7,-4l7,-3l7,-3l7,-5l7,-4l7,-4l7,-4l7,-3l7,-4l7,-3M620,187l7,5l7,4l7,3l7,3l7,3l7,4l7,4l7,5l7,5l7,3l7,2l7,3l7,4l7,4l7,5l7,3l7,3l7,2l7,3l7,4l7,4l7,5l7,4l7,3l7,2l7,2M411,341l7,0l7,-1l7,0l7,1l7,0l7,0l7,-1l7,0l7,1l7,0l7,0l7,0l7,-1l7,0l7,1l7,1l7,0l7,-1l7,0l7,1l7,1l7,0l7,0l7,-1l7,0l7,1M622,291l7,1l7,1l7,1l7,-1l7,-1l7,-1l7,0l7,2l7,1l7,0l7,-1l7,-2l7,-1l7,0M612,146l7,-4l7,0l7,1l7,-2l7,-4l7,-1l7,1l7,-2l7,-4l7,-2M588,316l7,-2l7,-1l7,-1l7,0l7,0l7,0l7,-1l7,-1l7,-1l7,0M608,235l7,-1l7,-1l7,-1l7,0l7,-2l7,-1l7,-2l7,-2l7,-1l7,-1l7,0l7,-1l7,-1l7,-2l7,-3l7,-2l7,-1l7,-1l7,0l7,-1l7,-1l7,-2l7,-2l7,-2l7,-1l7,0M455,194l7,-1l7,-1l7,-2l7,0l7,0l7,-1l7,-2l7,-1l7,0l7,1l7,-1l7,-2l7,-2l7,0l7,1l7,-1l7,-2l7,-2M545,219l7,-3l7,0l7,-1l7,-4l7,-2l7,-1l7,-1l7,-2l7,-4l7,-2l7,-1l7,-1l7,-4l7,-3l7,-2l7,-1l7,-3l7,-4l7,-3l7,-1M609,223l7,0l7,2l7,1l7,-1l7,-2l7,-1l7,-1l7,2l7,1l7,-1l7,-2l7,-2l7,-2l7,1l7,1l7,1l7,-2l7,-2l7,-2l7,1l7,1l7,1l7,0l7,-2l7,-1l7,-1l7,2l7,2l7,0l7,-1l7,-2M572,149l7,0l7,-1l7,-2l7,-2l7,-3l7,-2l7,-1l7,-1l7,0l7,-1l7,-2l7,-3l7,-2l7,-1l7,-1l7,0l7,-2l7,-2l7,-2l7,-3l7,-1l7,-1l7,-1l7,-2l7,-2M404,182l7,0l7,1l7,2l7,1l7,1l7,-1l7,0l7,1l7,1l7,1l7,2l7,2l7,1l7,1l7,0l7,1l7,2l7,3l7,2l7,2l7,1l7,1l7,0l7,1l7,2l7,3M488,209l7,-3l7,-2l7,0l7,0l7,-4l7,-3l7,-1l7,0l7,-1l7,-4l7,-2l7,0l7,0l7,-3l7,-3l7,-1l7,1l7,0l7,-3l7,-2l7,0M606,176l7,-2l7,0l7,1l7,-1l7,-3l7,-2l7,0l7,2l7,-1l7,-3l7,-1l7,1l7,2l7,0l7,-1l7,-1l7,2l7,2l7,0l7,-1l7,-1l7,3l7,2l7,0l7,-1l7,0l7,2l7,3l7,0M452,185l7,1l7,0l7,-3l7,-3l7,-2l7,-1l7,1l7,0l7,-2l7,-3l7,-2l7,1l7,1l7,0l7,-2l7,-3l7,-1l7,1"/></g></g><clipPath id="cs3"><rect x="645.5" y="1" width="193.5" height="488"/></clipPath><g clip-path="url(#cs3)"><g fill="none" stroke-linejoin="round" stroke-linecap="round" filter="url(#bs)"><path stroke="#f2949a" stroke-width="1.1" stroke-opacity="0.26" d="M572,370l7,-2l7,1l7,2l7,0l7,-2l7,0l7,2l7,2l7,-1l7,-2l7,1l7,3l7,1l7,-1l7,-1l7,2l7,3l7,0l7,-2l7,1l7,2l7,2l7,-1l7,-2l7,2l7,2l7,0l7,-2M801,351l7,0l7,3l7,3l7,3l7,1l7,2l7,3l7,4l7,3l7,0l7,2l7,3l7,4l7,1l7,0M592,342l7,4l7,1l7,1l7,-1l7,1l7,3l7,3l7,3l7,1l7,0l7,0l7,2l7,3l7,4l7,2l7,1l7,0l7,2l7,3l7,4l7,3l7,2M621,103l7,-1l7,-3l7,-3l7,-2l7,0l7,-1l7,-2l7,-4l7,-3l7,-1l7,0l7,-2l7,-4l7,-3l7,-2M594,108l7,-1l7,-3l7,-3l7,-2l7,-2l7,-1l7,-3l7,-4l7,-2l7,-1l7,-2l7,-4l7,-3l7,-1l7,-1l7,-2l7,-3l7,-3l7,-2l7,-1l7,-2l7,-3l7,-3l7,-1l7,-1l7,-2M782,328l7,1l7,1l7,2l7,2l7,3l7,2l7,1l7,1l7,2l7,2l7,3l7,1l7,1l7,1l7,2l7,2l7,3l7,1l7,0l7,2l7,2l7,3M552,79l7,2l7,0l7,-1l7,0l7,1l7,1l7,3l7,2l7,0l7,-1l7,0l7,1l7,3l7,3l7,1l7,0l7,0l7,0l7,2l7,4l7,3l7,1M607,331l7,4l7,4l7,2l7,4l7,5l7,3l7,2l7,5l7,4l7,2l7,3l7,4l7,3l7,2l7,3l7,4l7,3l7,2l7,4l7,5l7,2l7,2l7,4l7,4l7,2l7,3l7,5l7,3l7,1M614,373l7,3l7,0l7,0l7,2l7,3l7,2l7,0l7,0l7,1l7,3l7,2l7,0l7,0l7,3l7,3l7,1l7,0l7,2l7,3l7,3l7,1l7,0l7,2l7,3l7,3l7,0l7,0l7,1M601,107l7,-2l7,1l7,1l7,-3l7,-2l7,0l7,0l7,-2l7,-3l7,0l7,1l7,-1l7,-3l7,-1l7,1l7,0l7,-3l7,-2l7,2l7,1l7,-3M607,92l7,-2l7,-1l7,0l7,0l7,-2l7,-3l7,-1l7,0l7,1l7,0l7,-1l7,-2l7,-1l7,0l7,1l7,0l7,-1l7,-3M694,338l7,4l7,0l7,-1l7,2l7,4l7,1l7,-1l7,2l7,4l7,1l7,-2l7,3l7,4l7,1l7,0l7,2l7,5l7,2l7,1l7,2M624,356l7,3l7,1l7,-1l7,1l7,2l7,3l7,0l7,-1l7,3l7,3l7,1l7,-1l7,1l7,3l7,2l7,0l7,0l7,3l7,3M680,353l7,5l7,3l7,2l7,3l7,5l7,4l7,4l7,3l7,2l7,3l7,5l7,5l7,3l7,2l7,3M620,392l7,-1l7,0l7,0l7,1l7,-1l7,-2l7,-2l7,0l7,0l7,1l7,0l7,-1l7,-3l7,-1l7,0M772,315l7,3l7,2l7,3l7,4l7,3l7,3l7,3l7,2l7,3l7,3l7,4l7,3l7,3l7,3l7,2l7,2l7,3l7,3l7,4l7,2l7,3l7,2l7,3l7,2l7,4l7,3M793,125l7,-2l7,-5l7,-4l7,-1l7,-3l7,-6l7,-3l7,0l7,-4l7,-5l7,-2l7,-1l7,-4M732,339l7,5l7,5l7,4l7,3l7,2l7,2l7,4l7,5l7,5l7,4l7,3l7,2l7,2l7,3l7,4l7,5l7,5M753,360l7,1l7,-1l7,1l7,2l7,2l7,0l7,0l7,0l7,2l7,2l7,0M764,104l7,0l7,0l7,0l7,-2l7,-1l7,0l7,0l7,0l7,1l7,-1l7,-1l7,-1l7,-1l7,0l7,1l7,0l7,0l7,-1l7,-1l7,-1l7,1l7,1l7,0l7,0l7,-1M634,378l7,0l7,1l7,2l7,4l7,2l7,0l7,0l7,3l7,4l7,2l7,0M603,378l7,1l7,1l7,3l7,3l7,2l7,2l7,1l7,1l7,3l7,3M587,372l7,3l7,3l7,2l7,1l7,3l7,3l7,3l7,2l7,2l7,2l7,4l7,3l7,2l7,1l7,3l7,4M544,109l7,-1l7,-1l7,-2l7,-2l7,-4l7,-2l7,-2l7,-1l7,-2l7,-3l7,-4l7,-4l7,-3l7,-1l7,-2l7,-2l7,-4l7,-4l7,-2l7,-1l7,-1l7,-3l7,-3l7,-4l7,-2l7,-1l7,-1l7,-2l7,-3l7,-4l7,-2M716,345l7,0l7,2l7,2l7,-1l7,-2l7,2l7,3l7,1l7,-1l7,0l7,3l7,2l7,-1l7,-1l7,3l7,3l7,1l7,-1l7,1l7,4l7,3l7,0l7,0l7,4l7,4l7,1l7,0l7,3l7,5M674,342l7,2l7,3l7,1l7,2l7,2l7,3l7,4l7,3l7,3l7,1l7,2l7,3l7,3l7,4l7,3l7,2l7,1l7,2l7,2l7,3l7,2l7,1M791,116l7,-3l7,-2l7,-1l7,-2l7,-4l7,-4l7,-4l7,-4l7,-2l7,-2l7,-2l7,-4l7,-5l7,-5l7,-3l7,-3l7,-2l7,-2l7,-4M546,106l7,0l7,0l7,-2l7,-3l7,-3l7,0l7,0l7,-3l7,-4l7,-2l7,0l7,-1l7,-3l7,-3l7,-1l7,0l7,-2l7,-4l7,-3l7,0l7,0l7,-3l7,-3l7,-2l7,0l7,0M718,371l7,1l7,0l7,-1l7,0l7,1l7,1l7,1l7,1l7,0l7,0l7,-1l7,-1l7,0l7,1l7,1l7,0l7,0l7,-2l7,-1l7,-1l7,-1l7,1l7,0l7,-1l7,-1M580,350l7,0l7,-1l7,2l7,3l7,3l7,0l7,0l7,1l7,4l7,3l7,0l7,-1l7,1l7,2l7,3l7,2l7,0l7,0l7,3l7,3l7,2l7,0l7,0l7,3l7,4l7,2l7,0M609,336l7,4l7,5l7,4l7,2l7,4l7,5l7,4l7,3l7,3l7,5l7,4l7,3l7,3l7,5l7,4l7,2l7,3l7,4l7,3l7,3l7,2l7,4l7,3l7,3l7,2l7,4l7,5l7,2l7,3M641,351l7,3l7,4l7,3l7,2l7,3l7,3l7,4l7,4l7,3l7,3l7,2l7,3l7,4l7,4l7,4l7,3l7,3l7,3l7,5l7,5l7,3l7,3M777,119l7,-3l7,-4l7,-4l7,-3l7,-2l7,-4l7,-3l7,-4l7,-2l7,-3l7,-3l7,-4l7,-3l7,-2l7,-3l7,-4l7,-3l7,-2l7,-2l7,-3l7,-4l7,-2M590,348l7,3l7,3l7,4l7,2l7,1l7,2l7,2l7,2l7,3l7,3l7,2l7,1l7,1l7,1l7,2l7,2l7,3l7,2l7,1M669,111l7,-3l7,-3l7,-1l7,-3l7,-3l7,-3l7,-2l7,-2l7,-3l7,-3l7,-3l7,-1l7,-2l7,-3l7,-4M749,137l7,-3l7,-2l7,-3l7,-3l7,-4l7,-3l7,-4l7,-2l7,-3l7,-4l7,-4l7,-4l7,-3l7,-3l7,-3l7,-5l7,-4l7,-3l7,-2l7,-4l7,-4l7,-4l7,-3l7,-3l7,-4l7,-4l7,-5l7,-3M739,97l7,1l7,1l7,2l7,2l7,1l7,1l7,0l7,2l7,1l7,2l7,2l7,2l7,2l7,1l7,2l7,2l7,2l7,3l7,2l7,3l7,2l7,1M695,109l7,-3l7,-3l7,0l7,0l7,-2l7,-3l7,-3l7,0l7,0l7,-3l7,-4l7,-1l7,0l7,0l7,-3M686,354l7,3l7,4l7,3l7,2l7,1l7,1l7,3l7,4l7,4l7,3l7,1l7,1l7,1l7,3l7,4l7,4l7,2l7,1l7,1l7,2l7,4l7,5l7,3l7,2M644,109l7,-4l7,-3l7,-2l7,-3l7,-4l7,-3l7,-2l7,-2l7,-4l7,-3l7,-3M685,391l7,0l7,-1l7,-1l7,1l7,1l7,-1l7,-1l7,-2l7,1l7,1l7,-1l7,-2M685,129l7,-4l7,-4l7,-4l7,-3l7,-4l7,-4l7,-4l7,-4l7,-3l7,-3l7,-4l7,-4l7,-5l7,-3l7,-3l7,-3l7,-4l7,-5l7,-3M644,380l7,4l7,0l7,-1l7,1l7,4l7,1l7,-1l7,0l7,4l7,2l7,-1M603,99l7,-1l7,-1l7,-1l7,-2l7,-2l7,-2l7,-2l7,-2l7,-1l7,-2l7,-2l7,-2l7,-3l7,-2l7,-2l7,-1l7,-1l7,-1l7,-1l7,-2M723,367l7,0l7,1l7,0l7,0l7,-1l7,-1l7,-2l7,0l7,0l7,1"/><path stroke="#f2949a" stroke-width="1.1" stroke-opacity="0.3" d="M761,98l7,0l7,0l7,-2l7,-2l7,-2l7,-1l7,-1l7,0l7,0l7,0l7,-2l7,-2l7,-2l7,-1l7,-1l7,1l7,0l7,-1l7,-2l7,-2l7,-1l7,-1l7,1M642,263l7,2l7,2l7,-2l7,0l7,3l7,0l7,-1l7,2l7,2l7,-1l7,0l7,3l7,1l7,-2l7,1l7,3l7,-1l7,-2l7,3l7,2M727,360l7,-1l7,0l7,1l7,3l7,3l7,1l7,-1l7,0l7,1l7,3M682,249l7,1l7,0l7,-3l7,-2l7,0l7,1l7,-3l7,-3l7,-2l7,1l7,-1l7,-3l7,-4l7,0l7,0l7,-2l7,-4l7,-2l7,0l7,0l7,-3l7,-3l7,-1l7,1l7,-1l7,-3l7,-2l7,1l7,1l7,-1M695,336l7,1l7,0l7,0l7,0l7,-1l7,-1l7,0l7,1l7,0l7,0l7,-1l7,-1l7,-1l7,0l7,0l7,-1l7,-1l7,-1l7,0l7,0l7,0l7,0l7,-1M706,198l7,-1l7,0l7,0l7,-2l7,-1l7,0l7,-1l7,-2l7,-1l7,-1l7,-1M601,366l7,1l7,4l7,0l7,-1l7,2l7,3l7,0l7,-1l7,3l7,3l7,0l7,-1l7,2l7,3l7,-1l7,-1l7,3l7,2l7,-1l7,0l7,4M700,263l7,3l7,4l7,3l7,1l7,3l7,4l7,2l7,2l7,3l7,4l7,2l7,2l7,2l7,4M738,366l7,3l7,2l7,4l7,5l7,3l7,2l7,4l7,6l7,2l7,2l7,5l7,6l7,2l7,3M591,182l7,-4l7,-3l7,-2l7,-1l7,-2l7,-3l7,-4l7,-5l7,-4l7,-3l7,-2l7,-1l7,-2l7,-3l7,-4l7,-4M769,248l7,0l7,1l7,2l7,1l7,0l7,0l7,1l7,2l7,2l7,0l7,0l7,0l7,2l7,2l7,3M798,372l7,3l7,2l7,0l7,1l7,2l7,3l7,3l7,1l7,1l7,0l7,2l7,3l7,1l7,0l7,0l7,2l7,2l7,3l7,1l7,0l7,1l7,2l7,3l7,1l7,1l7,0l7,2l7,3M804,274l7,3l7,2l7,0l7,-2l7,1l7,3l7,1l7,-2l7,-1l7,1l7,2l7,0l7,-3M610,272l7,-2l7,-1l7,2l7,3l7,-1l7,-2l7,-1l7,2l7,2l7,-1l7,-2l7,-1l7,2l7,2l7,-1l7,-2M779,89l7,2l7,2l7,1l7,-1l7,-1l7,1l7,3l7,2l7,-1l7,-1l7,0l7,1l7,3l7,1l7,0l7,-1l7,1l7,2l7,3M768,228l7,5l7,2l7,0l7,4l7,5l7,0l7,1l7,5l7,4l7,0l7,1l7,5M705,238l7,0l7,1l7,1l7,-1l7,-1l7,-2l7,-1l7,0l7,0l7,0l7,0l7,-2l7,-2l7,-2l7,-1l7,0l7,0l7,0l7,-1l7,-2l7,-2l7,-1l7,0l7,1l7,0M692,253l7,1l7,2l7,1l7,-1l7,-1l7,1l7,1l7,2l7,0l7,0l7,-1l7,0l7,1l7,1l7,1l7,-1l7,-2l7,0l7,1l7,1l7,0l7,-2l7,-1l7,-1l7,1l7,0M783,369l7,1l7,4l7,3l7,1l7,0l7,2l7,4l7,1l7,0l7,0l7,3l7,3l7,1l7,-1l7,2l7,3M786,198l7,-4l7,-5l7,-2l7,-2l7,-2l7,-4l7,-5l7,-4l7,-3l7,-2l7,-3l7,-4l7,-5l7,-4l7,-3l7,-3l7,-3l7,-5l7,-5l7,-3l7,-2l7,-2l7,-4l7,-4l7,-4l7,-3M729,250l7,0l7,0l7,-2l7,-1l7,-1l7,1l7,1l7,-1l7,-1l7,-2l7,-1l7,0l7,1l7,0l7,-1l7,-2l7,-1l7,0l7,1l7,0l7,-1l7,-2l7,-1l7,0M624,176l7,-2l7,-3l7,-2l7,-2l7,-1l7,-1l7,-3l7,-3l7,-2l7,-2l7,-1l7,0l7,-3l7,-2l7,-3l7,-2l7,-1l7,-1l7,-3l7,-3l7,-2l7,-2l7,-1l7,-2l7,-2l7,-3l7,-3l7,-2l7,-1l7,-1M615,368l7,-1l7,0l7,0l7,0l7,0l7,0l7,-1l7,0l7,0l7,0l7,1l7,-1l7,0l7,-1l7,-1l7,0l7,0l7,-1l7,-1l7,-1l7,-1l7,-1l7,0l7,0l7,-1l7,-1l7,-1M695,337l7,1l7,3l7,4l7,5l7,3l7,1l7,2l7,3l7,3l7,5l7,4l7,2l7,1l7,2l7,4l7,4l7,5l7,2l7,2l7,2l7,2l7,5l7,4l7,3l7,1M735,319l7,2l7,2l7,2l7,4l7,5l7,4l7,3l7,2l7,2l7,2l7,4l7,4l7,5l7,3l7,2l7,1M813,206l7,-1l7,-2l7,-2l7,-4l7,-2l7,-2l7,-1l7,-3l7,-2l7,-3l7,-2l7,-1l7,-1l7,-3l7,-3l7,-2l7,0l7,-2l7,-2l7,-3l7,-2l7,-1l7,-1M594,324l7,0l7,2l7,3l7,2l7,-1l7,1l7,4l7,1l7,-1l7,1l7,3l7,2l7,0l7,0l7,2M716,358l7,1l7,-1l7,1l7,0l7,1l7,1l7,1l7,0l7,0l7,0l7,0l7,0l7,1l7,1l7,1l7,0l7,0l7,0l7,1l7,1l7,2l7,1l7,2l7,1l7,1l7,1l7,2l7,3M772,232l7,1l7,1l7,3l7,4l7,3l7,2l7,0l7,1l7,3l7,3l7,4l7,2l7,0l7,0l7,1l7,2l7,3M610,151l7,-1l7,-1l7,-1l7,-1l7,0l7,0l7,0l7,-2l7,-1l7,-1l7,0l7,0l7,0l7,-1l7,-1l7,0l7,0l7,1l7,0l7,0l7,-1l7,1l7,0l7,1M672,127l7,-1l7,0l7,1l7,0l7,-2l7,-2l7,-3l7,-1l7,0l7,0l7,0l7,0l7,-3l7,-2l7,-1l7,0l7,0l7,0l7,0l7,-2l7,-2l7,-2l7,0l7,0l7,1l7,1M759,344l7,3l7,3l7,3l7,4l7,3l7,4l7,3l7,3l7,2l7,3l7,3l7,2l7,3l7,3l7,2l7,2l7,2l7,1l7,3l7,2l7,3l7,2l7,2l7,1l7,2l7,1l7,2l7,3l7,2M626,246l7,2l7,4l7,2l7,2l7,1l7,3l7,4l7,2l7,2l7,2l7,3l7,4l7,2l7,1l7,3l7,3l7,3l7,2l7,1l7,3M721,140l7,1l7,0l7,-2l7,-1l7,2l7,2l7,0l7,-2l7,-1l7,0l7,2l7,0l7,-1l7,-2l7,0l7,2l7,0l7,-1l7,-2M809,323l7,3l7,4l7,5l7,6l7,4l7,3l7,2l7,3l7,3l7,5l7,5M732,161l7,-3l7,-1l7,0l7,-1l7,-3l7,-1l7,0l7,-1l7,-2l7,-2l7,0l7,-1l7,-2l7,-2l7,-1l7,0l7,-2l7,-2l7,-1l7,-1l7,-1l7,-3l7,-1l7,-1l7,-1l7,-3l7,-2l7,0l7,0l7,-2l7,-3M684,179l7,0l7,0l7,0l7,2l7,1l7,0l7,0l7,1l7,0l7,2l7,1l7,0l7,0M625,316l7,0l7,0l7,1l7,2l7,1l7,0l7,0l7,0l7,0l7,1l7,0l7,1l7,0l7,0l7,0M611,257l7,0l7,1l7,0l7,0l7,0l7,1l7,2l7,1l7,1l7,0l7,0l7,0l7,1l7,1M573,183l7,-1l7,-3l7,-1l7,0l7,1l7,-1l7,-2l7,-2l7,-1l7,1l7,1l7,-2l7,-2l7,0l7,1l7,1l7,-1l7,-1l7,-1l7,1l7,2l7,0l7,-2l7,-1l7,1l7,2l7,0l7,-2l7,-2l7,0l7,2M565,224l7,2l7,3l7,2l7,1l7,-1l7,0l7,1l7,2l7,2l7,2l7,1l7,-1l7,-1l7,1l7,2l7,2l7,2l7,1l7,0l7,-1l7,0l7,1l7,3l7,2l7,1l7,0l7,-1l7,0l7,2M625,175l7,-1l7,-2l7,-3l7,-2l7,0l7,-1l7,-2l7,-3l7,-3l7,-1l7,-1l7,-1l7,-3l7,-3l7,-2l7,0l7,-1l7,-2l7,-3M766,278l7,2l7,1l7,1l7,0l7,0l7,2l7,1l7,-1l7,1l7,1l7,1l7,0l7,0l7,1l7,1l7,0l7,0l7,1l7,1l7,0l7,0l7,1l7,1l7,0l7,0l7,0l7,2l7,0l7,1M685,152l7,-4l7,-4l7,-1l7,0l7,-2l7,-5l7,-3l7,0l7,0l7,-4l7,-4l7,-1l7,0l7,-2l7,-4M776,245l7,1l7,0l7,0l7,2l7,2l7,3l7,1l7,1l7,0l7,1l7,3l7,2l7,2l7,-1l7,0l7,1M678,242l7,1l7,-1l7,-1l7,3l7,3l7,1l7,-1l7,0l7,3l7,3l7,1l7,-1M747,225l7,-1l7,0l7,1l7,0l7,-2l7,-2l7,-1l7,1l7,0l7,0l7,-1l7,-2l7,-1l7,0l7,0l7,0M678,220l7,1l7,-1l7,-2l7,-1l7,0l7,0l7,-2l7,-2l7,1l7,0l7,-2l7,-2l7,0l7,1l7,-1l7,-2l7,-1l7,1l7,-1l7,-2M812,173l7,1l7,3l7,3l7,2l7,0l7,0l7,1l7,3l7,3l7,2l7,1l7,-1l7,2l7,2l7,4l7,3l7,1l7,0l7,2l7,2M600,261l7,-3l7,-3l7,-4l7,-2l7,-1l7,0l7,-2l7,-3l7,-4l7,-3l7,-2M788,249l7,0l7,1l7,0l7,0l7,-1l7,-1l7,-1l7,-1l7,1l7,0l7,-1l7,0l7,-1l7,-2l7,-1l7,-1l7,0l7,0l7,0l7,-1l7,-2l7,-2l7,-1l7,-1l7,0M699,247l7,2l7,1l7,1l7,2l7,2l7,2l7,2l7,1l7,0l7,1l7,2l7,2l7,2l7,2l7,1l7,1l7,1l7,1l7,2l7,1l7,1l7,0l7,0l7,1l7,1l7,1l7,1l7,1M598,246l7,3l7,3l7,0l7,-1l7,2l7,4l7,0l7,0l7,2l7,3l7,1l7,-2M805,276l7,2l7,3l7,2l7,2l7,2l7,1l7,2l7,3l7,3l7,2l7,2l7,2l7,1l7,2l7,2l7,2l7,3l7,2l7,1l7,1l7,1l7,2l7,2l7,3l7,2l7,2M641,294l7,3l7,3l7,2l7,2l7,2l7,4l7,4l7,3l7,3l7,2l7,3l7,3l7,4l7,4l7,5l7,3l7,2l7,2l7,3l7,4M702,188l7,-4l7,-1l7,-2l7,-4l7,-3l7,-1l7,-3l7,-4l7,-2l7,-1l7,-3l7,-4l7,-2l7,-2l7,-4l7,-4l7,-1l7,-3l7,-5l7,-2l7,-2l7,-4l7,-4l7,-2l7,-2l7,-5l7,-3l7,-1l7,-2l7,-4M735,230l7,-1l7,0l7,-1l7,-2l7,-2l7,-1l7,-1l7,-1l7,-1l7,-1l7,-1l7,-1l7,-2l7,-1M743,300l7,-2l7,-3l7,-2l7,0l7,-1l7,-3l7,-2l7,-1l7,-1l7,-3M618,313l7,-1l7,-3l7,-4l7,-3l7,-3l7,-1l7,-1l7,-2l7,-3l7,-3l7,-1l7,0l7,-2l7,-3l7,-4l7,-1l7,-1l7,-1l7,-2l7,-3l7,-3l7,0l7,0l7,-1l7,-2l7,-3l7,-1l7,1l7,0l7,-2l7,-2M689,292l7,-1l7,-1l7,1l7,0l7,-1l7,-3l7,-2l7,-1l7,1l7,1"/><path stroke="#f2949a" stroke-width="1.2" stroke-opacity="0.36" d="M735,170l7,1l7,0l7,1l7,-1l7,0l7,0l7,1l7,0l7,0l7,0l7,-1M609,142l7,-2l7,0l7,-1l7,0l7,-2l7,-3l7,-3l7,-2l7,-1l7,-1l7,0M706,223l7,2l7,2l7,2l7,1l7,0l7,0l7,1l7,1l7,2l7,2l7,0l7,-1l7,-1l7,0l7,1l7,1l7,0l7,-1l7,-2l7,-1l7,0l7,0l7,0l7,0l7,-2l7,-1l7,-1l7,0l7,1M760,309l7,0l7,0l7,2l7,4l7,2l7,1l7,0l7,0l7,3l7,3l7,2l7,-1l7,0l7,0M555,213l7,-2l7,-2l7,1l7,1l7,-1l7,-3l7,-1l7,2l7,0l7,-1l7,-2l7,0l7,2l7,0l7,-3l7,-1l7,1l7,1l7,-1l7,-2l7,-1l7,2l7,1l7,-1l7,-1l7,1l7,2l7,0M728,175l7,-4l7,-2l7,-2l7,-2l7,-2l7,-3l7,-3l7,-4l7,-2l7,-2l7,-2l7,-3l7,-4l7,-4l7,-4l7,-3l7,-3l7,-2l7,-4l7,-4l7,-5l7,-4l7,-2l7,-3l7,-3l7,-5l7,-5l7,-4l7,-4M614,177l7,-4l7,-2l7,-1l7,0l7,-2l7,-3l7,-3l7,0l7,0l7,-1M529,295l7,-2l7,0l7,0l7,-1l7,-2l7,0l7,0l7,-1l7,-1l7,0l7,-1l7,-2l7,-1l7,-1l7,-1l7,-2l7,-1l7,-1l7,-1l7,-2l7,-1l7,0l7,-3l7,-1l7,-1l7,-1l7,-2M725,170l7,-3l7,0l7,0l7,-3l7,-3l7,0l7,1l7,-3l7,-3l7,0l7,1l7,-2l7,-4l7,0l7,1l7,-1l7,-3l7,0M680,282l7,1l7,3l7,4l7,3l7,2l7,1l7,3l7,3l7,4l7,2l7,1l7,2l7,3l7,4l7,2l7,2l7,1l7,2l7,3M664,273l7,1l7,1l7,0l7,-1l7,0l7,0l7,0l7,-1l7,-1l7,-1l7,-1l7,0l7,-1l7,-1l7,-1l7,-1M708,181l7,0l7,3l7,1l7,-1l7,-1l7,2l7,2l7,1l7,-2l7,0l7,1l7,3l7,0l7,-2l7,1l7,2l7,2l7,-1l7,-1l7,0l7,3l7,1M636,332l7,0l7,-1l7,3l7,2l7,-1l7,0l7,3l7,2l7,-1l7,1l7,3l7,1l7,0l7,2M751,274l7,1l7,2l7,4l7,3l7,1l7,1l7,0l7,1l7,2l7,3l7,3l7,3l7,0l7,1l7,0l7,2l7,2l7,3l7,3l7,1l7,1l7,0l7,0l7,2l7,3l7,3l7,2l7,1l7,1M782,179l7,-5l7,-3l7,-2l7,-3l7,-6l7,-5l7,-2l7,-3l7,-4l7,-5l7,-4l7,-1l7,-4l7,-5l7,-5l7,-2l7,-3l7,-4l7,-6l7,-3l7,-2l7,-3l7,-6l7,-4M784,181l7,2l7,2l7,3l7,3l7,3l7,2l7,1l7,3l7,3l7,2l7,2l7,2l7,4l7,3l7,2l7,1l7,2l7,3l7,2l7,2l7,1l7,2l7,3l7,2l7,2l7,2l7,2l7,4l7,2l7,2M727,167l7,2l7,2l7,1l7,-1l7,1l7,3l7,3l7,1l7,0l7,0l7,3l7,3M627,237l7,0l7,-1l7,-1l7,-1l7,-2l7,0l7,-1l7,0l7,-1l7,-2l7,-1l7,-1l7,0l7,-1l7,-1M592,287l7,-2l7,0l7,0l7,-1l7,-3l7,-2l7,1l7,1l7,-1l7,-3l7,-1l7,1l7,1l7,-2l7,-2l7,-2l7,1l7,1l7,-2l7,-3M692,289l7,1l7,1l7,1l7,2l7,2l7,0l7,1l7,2l7,2l7,2l7,0l7,1l7,2l7,2l7,1l7,0l7,1l7,2l7,2l7,0M729,221l7,-3l7,0l7,-1l7,-4l7,-3l7,-1l7,-1l7,-2l7,-4l7,-3l7,0l7,-1l7,-3l7,-3l7,-2l7,0l7,-1l7,-4l7,-3l7,-1l7,0l7,-3l7,-4l7,-2l7,-1l7,-1l7,-3l7,-4M733,277l7,0l7,-1l7,-1l7,0l7,0l7,0l7,1l7,0l7,-1l7,-1l7,-1l7,0l7,0l7,0l7,0l7,0l7,-1l7,-2M705,118l7,0l7,1l7,0l7,0l7,-2l7,0l7,-1l7,1l7,0l7,0l7,0l7,-2l7,-1l7,0l7,0l7,1l7,0l7,-1l7,-1l7,-2l7,-1l7,0l7,0l7,1l7,-1l7,-1M771,261l7,-2l7,0l7,-1l7,0l7,-1l7,-1l7,-1l7,0l7,0l7,-1l7,-2l7,-1l7,0l7,0l7,-1l7,-2l7,-1l7,-1l7,0M578,197l7,1l7,3l7,3l7,4l7,4l7,3l7,2l7,2l7,3l7,4l7,4l7,4l7,3l7,3l7,2l7,2l7,4"/><path stroke="#ee8a94" stroke-width="1.3" stroke-opacity="0.4" d="M665,257l10,2l10,2l11,3l10,3l11,3l10,3l10,4l11,4l10,4l10,5l11,5l10,5l11,6l10,6l10,5l11,6l10,5M658,254l11,1l11,2l10,2l11,3l11,3l11,4l10,4l11,5l11,5l11,5l10,5l11,6l11,5l11,5l10,5l11,5l11,6M652,250l11,1l11,2l11,3l11,3l11,4l12,5l11,4l11,5l11,5l11,4l11,5l11,5l11,5l12,5l11,6l11,6l11,7M694,250l9,2l8,3l9,3l9,4l8,4l9,4l9,4l8,4l9,4l9,5l8,5l9,5l8,6l9,6l9,7l8,6l9,6M671,265l10,2l10,2l10,2l10,2l10,3l10,2l10,3l10,4l10,4l10,4l10,4l10,5l10,5l10,4l10,5l10,4l10,4M657,266l11,0l11,2l11,2l10,2l11,3l11,4l11,4l11,4l11,5l10,4l11,4l11,5l11,4l11,4l10,5l11,4l11,5M696,264l8,1l9,2l8,2l9,4l9,3l8,4l9,3l8,4l9,4l8,3l9,4l8,4l9,4l8,5l9,5l8,5l9,6M673,249l10,1l9,3l10,3l10,4l10,3l10,4l10,4l10,4l10,4l10,5l10,5l9,5l10,6l10,6l10,6l10,6l10,6M681,277l9,1l10,1l9,2l10,2l9,2l9,2l10,3l9,3l10,3l9,4l10,3l9,4l9,4l10,4l9,3l10,3l9,4M652,232l11,2l11,2l11,3l11,5l11,4l11,6l12,5l11,6l11,7l11,6l11,6l11,6l11,7l12,6l11,8l11,7l11,8M659,239l11,2l10,3l11,4l11,4l10,5l11,5l11,5l11,5l10,5l11,5l11,6l10,6l11,6l11,7l11,8l10,7l11,8M674,237l10,3l9,3l10,3l10,4l10,4l10,4l10,4l9,5l10,6l10,5l10,7l10,6l10,7l9,7l10,7l10,7l10,7M695,236l9,2l8,2l9,3l8,4l9,4l9,5l8,5l9,6l8,6l9,7l8,6l9,7l9,6l8,7l9,7l8,6l9,8M696,248l8,1l9,2l8,3l9,4l8,4l9,4l8,5l9,5l9,5l8,4l9,5l8,5l9,5l8,6l9,6l8,6l9,6M668,250l10,2l10,3l10,3l10,4l11,3l10,4l10,4l10,4l10,4l11,5l10,4l10,6l10,5l10,6l11,6l10,6l10,7M679,286l10,-2l9,-1l10,-3l9,-2l10,-3l9,-4l10,-3l9,-3l10,-3l9,-3l10,-3l9,-3l10,-3l9,-3l10,-3l9,-4l10,-4M718,281l7,-2l7,-2l8,-3l7,-2l7,-3l7,-2l8,-2l7,-3l7,-2l7,-2l8,-2l7,-3l7,-3l7,-3l8,-4l7,-3l7,-3M692,257l9,-1l9,-1l8,-1l9,-1l9,0l9,-1l8,0l9,-1l9,-1l9,-2l8,-1l9,-2l9,-1l9,-2l8,-1l9,-1l9,-1M677,272l10,-1l9,-1l10,-1l9,-1l10,-2l10,-2l9,-2l10,-2l10,-3l9,-2l10,-3l10,-2l9,-2l10,-1l10,-2l9,-2l10,-2M686,272l9,-1l9,-1l9,-2l9,-2l10,-3l9,-2l9,-2l9,-3l9,-2l9,-1l9,-2l9,-2l10,-2l9,-2l9,-3l9,-3l9,-2M717,259l7,-1l7,-2l8,-1l7,-2l7,-1l8,-1l7,-1l7,0l8,-1l7,-1l7,-2l7,-1l8,-2l7,-2l7,-2l8,-1l7,-2M702,282l8,-2l8,-2l8,-2l8,-2l9,-2l8,-2l8,-3l8,-3l8,-3l9,-3l8,-4l8,-3l8,-4l8,-3l9,-3l8,-3l8,-3M712,281l8,-1l7,-1l8,-2l7,-2l8,-2l8,-3l7,-3l8,-3l7,-3l8,-2l8,-3l7,-2l8,-3l7,-2l8,-3l7,-3l8,-3M729,262l7,0l6,-1l7,-2l7,-1l6,-2l7,-1l6,-2l7,-1l6,-1l7,-1l7,-1l6,-1l7,-1l6,-2l7,-1l6,-2l7,-2"/></g></g><g clip-path="url(#clipS)" fill="none" stroke="#d4c4cf" stroke-width="1" stroke-opacity="0.3" filter="url(#bs)"><path d="M626,60l10,-1l10,-2l10,-6l10,-3l10,0l10,-5l10,-5M606,43l10,-1l10,-2l10,-5l10,-4l10,-3l10,-1l10,-3M353,124l10,-3l10,-4l10,-7l10,-6l10,-2l10,-5l10,-8M506,86l10,-4l10,0l10,-1l10,-5l10,-4l10,0l10,-1l10,-5M595,401l10,6l10,2l10,3l10,5l10,2l10,4l10,4l10,2l10,5l10,3l10,2l10,6l10,2l10,4l10,5l10,2M437,439l10,5l10,2l10,2l10,3l10,4l10,5l10,2l10,2l10,3M634,415l10,3l10,4l10,1l10,1l10,3l10,4l10,2l10,0l10,2l10,4l10,2l10,0l10,1l10,3l10,3l10,1l10,0l10,3M690,60l10,-5l10,-3l10,-2l10,-4l10,-5l10,-3l10,-2l10,-4M768,438l10,3l10,7l10,3l10,2l10,6l10,6l10,1l10,4l10,7l10,3l10,2l10,7l10,5l10,1l10,5l10,7l10,3l10,2M691,55l10,-7l10,-3l10,-2l10,-7l10,-1l10,-4l10,-6l10,0l10,-7l10,-3l10,-2l10,-7l10,-2M424,436l10,6l10,2l10,3l10,7l10,0l10,5l10,6l10,1l10,6l10,5l10,1l10,6l10,4l10,2l10,7M473,394l10,6l10,1l10,1l10,6l10,1l10,1l10,5l10,1l10,1l10,5M508,420l10,4l10,5l10,7l10,5l10,4l10,7l10,4l10,5l10,7l10,4l10,5l10,6l10,4l10,5l10,7l10,4l10,5l10,6M532,66l10,-1l10,-2l10,-4l10,-2l10,-2l10,-1l10,-3M368,117l10,-6l10,-6l10,-5l10,-4l10,-6l10,-7l10,-5l10,-4l10,-6l10,-6l10,-6l10,-5l10,-4M471,73l10,-2l10,0l10,-3l10,-3l10,-2l10,0l10,-3l10,-3M384,90l10,-2l10,-5l10,-3l10,-1l10,-3l10,-4l10,-3l10,-2l10,-2l10,-4l10,-4l10,-2l10,-2l10,-4l10,-4l10,-2M326,90l10,-3l10,-4l10,-2l10,0l10,-3l10,-5l10,-2l10,-1l10,-3l10,-5l10,-2M646,447l10,6l10,4l10,2l10,7l10,2l10,4M675,100l10,-5l10,-3l10,-1l10,-3l10,-5l10,-5l10,-1l10,-1l10,-4l10,-5l10,-3l10,0l10,-2l10,-5M318,365l10,0l10,4l10,5l10,0l10,2l10,6l10,2l10,0l10,5l10,4l10,0l10,2l10,5l10,1l10,0l10,4l10,3l10,-1M569,112l10,0l10,-6l10,-2l10,1l10,-5l10,-4l10,1l10,-3M398,415l10,1l10,4l10,5l10,2l10,1l10,2l10,4l10,4l10,1l10,1l10,3l10,5l10,3l10,2l10,1l10,4l10,4M574,145l10,-4l10,-6l10,-2l10,-3l10,-7l10,-2l10,-3l10,-7l10,-3l10,-3l10,-6l10,-4l10,-3l10,-6l10,-5l10,-2l10,-5l10,-6M358,67l10,-2l10,-2l10,-4l10,-4l10,-2l10,-2l10,-3l10,-3l10,-3l10,-1l10,-2l10,-4l10,-2l10,-2M512,399l10,5l10,7l10,5l10,3l10,3l10,4l10,6l10,6l10,4l10,2l10,4l10,5l10,6l10,5l10,2l10,2l10,5l10,6M544,373l10,-1l10,5l10,4l10,0l10,6l10,2l10,1l10,6l10,0l10,4l10,4l10,0l10,5l10,2l10,1l10,5M314,431l10,6l10,1l10,4l10,7l10,1l10,3l10,7l10,2l10,2l10,6l10,4M444,422l10,0l10,0l10,1l10,3l10,2l10,0l10,-1l10,0l10,3l10,2l10,0l10,0l10,-1l10,2l10,2M686,422l10,4l10,2l10,3l10,4l10,4l10,3l10,3l10,4l10,4l10,3M364,122l10,0l10,-2l10,-3l10,-3l10,-1l10,0l10,-3l10,-3l10,-3l10,-1l10,-1l10,-2l10,-4l10,-2l10,-1M564,108l10,-1l10,-6l10,-5l10,-1l10,-6l10,-5l10,-1M396,444l10,1l10,2l10,4l10,3l10,2l10,1l10,3l10,4l10,3l10,1l10,2l10,3l10,4l10,2l10,1M536,67l10,-5l10,-2l10,-6l10,-4l10,-3l10,-6l10,-4l10,-3l10,-6l10,-4l10,-5l10,-5l10,-4l10,-5l10,-5l10,-3l10,-6l10,-5M566,406l10,2l10,2l10,3l10,4l10,3l10,3l10,2l10,2l10,4l10,4l10,2l10,2l10,3l10,3l10,4M459,102l10,-1l10,-4l10,-6l10,-5l10,-2l10,-2l10,-4l10,-5l10,-5M612,83l10,-6l10,-3l10,-3l10,-5l10,-4l10,-2l10,-5l10,-4l10,-2l10,-4l10,-5l10,-2l10,-4l10,-5M397,72l10,-2l10,-4l10,-6l10,-4l10,-2l10,-4l10,-6l10,-5l10,-3M413,126l10,-5l10,-2l10,-2l10,-5l10,-3l10,-1l10,-5l10,-4l10,-2l10,-4l10,-5l10,-1l10,-3M454,412l10,7l10,3l10,4l10,6l10,2l10,7l10,3l10,3l10,7l10,2l10,6l10,5l10,2"/></g><clipPath id="clipS"><rect x="302" y="1" width="537" height="488"/></clipPath>
<rect x="3" y="236.5" width="126.8" height="26.5" fill="#cbd9e5"/>
<path d="M3,242.5 L110,242 L128,239 L128,257 L110,256 L3,256.5Z" fill="#f08088" opacity="0.35" filter="url(#b1)"/>
<line x1="9.5" y1="251" x2="124" y2="247.6" stroke="#ff0000" stroke-width="3.4"/>
<path d="M115,241.3 L127.5,247.5 L116.3,253.8" fill="none" stroke="#ff0000" stroke-width="3" stroke-linejoin="miter"/>
<text x="26.6" y="42.7" font-size="36" text-anchor="start" fill="#000" font-weight="bold" font-family='"Liberation Sans", sans-serif' >a</text>
<text x="46.5" y="195.5" font-size="30" text-anchor="start" fill="#000" font-weight="normal" font-family='"Liberation Sans", sans-serif' >CW</text>
<text x="37.7" y="230" font-size="30" text-anchor="start" fill="#000" font-weight="normal" font-family='"Liberation Sans", sans-serif' >Input</text>
<text x="59" y="305.5" font-size="30" text-anchor="start" fill="#000" font-weight="normal" font-family='"Liberation Sans", sans-serif' >λ =</text>
<path d="M763 0H583V1147Q518 1085 412.5 1023T223 930V1104Q374 1175 487.5 1276T648 1472H763V0Z" fill="#000" transform="translate(21.75,341) scale(0.01465,-0.01465)"/>
<text x="38.43" y="341" font-size="30" fill="#000" font-family='"Liberation Sans", sans-serif' xml:space="preserve">490 nm</text>
<text x="16.5" y="414.7" font-size="36" text-anchor="start" fill="#000" font-weight="normal" font-family='"Liberation Sans", sans-serif' >x</text>
<text x="87.6" y="477.5" font-size="36" text-anchor="start" fill="#000" font-weight="normal" font-family='"Liberation Sans", sans-serif' >y</text>
<path d="M23.5,470 L23.5,424 M23.5,470 L74,470" fill="none" stroke="#000" stroke-width="3"/>
<path d="M23.5,419 L17.5,437 L23.5,432 L29.5,437Z" fill="#000"/>
<path d="M79,470 L61,464 L66,470 L61,476Z" fill="#000"/>
<rect x="162" y="436" width="75.4" height="9.6" fill="#000"/>
<text x="163.25" y="483" font-size="30" text-anchor="start" fill="#000" font-weight="normal" font-family='"Liberation Sans", sans-serif' >40μm</text>
<text x="852.1" y="145.5" font-size="30" text-anchor="start" fill="#000" font-weight="normal" font-family='"Liberation Sans", sans-serif' >Ch3</text>
<text x="852.1" y="243.8" font-size="30" text-anchor="start" fill="#000" font-weight="normal" font-family='"Liberation Sans", sans-serif' >Ch2</text>
<text x="852.10" y="336" font-size="30" fill="#000" font-family='"Liberation Sans", sans-serif' xml:space="preserve">Ch</text>
<path d="M763 0H583V1147Q518 1085 412.5 1023T223 930V1104Q374 1175 487.5 1276T648 1472H763V0Z" fill="#000" transform="translate(890.45,336) scale(0.01465,-0.01465)"/>
<rect x="744" y="442" width="67.7" height="11.4" fill="url(#cbar)"/>
<text x="676.6" y="457.8" font-size="30" text-anchor="start" fill="#000" font-weight="normal" font-family='"Liberation Serif", serif' textLength="32.2" lengthAdjust="spacingAndGlyphs">10</text>
<text x="709.4" y="447.5" font-size="21.5" text-anchor="start" fill="#000" font-weight="normal" font-family='"Liberation Serif", serif' textLength="28" lengthAdjust="spacingAndGlyphs">−1</text>
<text x="816.2" y="457.8" font-size="30" text-anchor="start" fill="#000" font-weight="normal" font-family='"Liberation Serif", serif' textLength="32.2" lengthAdjust="spacingAndGlyphs">10</text>
<text x="850.1" y="447.4" font-size="21.5" text-anchor="start" fill="#000" font-weight="normal" font-family='"Liberation Serif", serif' >0</text>
<text x="721.4" y="490.4" font-size="30" text-anchor="start" fill="#000" font-weight="normal" font-family='"Liberation Sans", sans-serif' >Intensity</text>
<rect x="137" y="548" width="705" height="240" fill="#fff"/>
<g clip-path="url(#clipB)">
<defs><linearGradient id="h1" x1="0" y1="0" x2="0" y2="1"><stop offset="0" stop-color="#ff0000" stop-opacity="0"/><stop offset="0.3" stop-color="#ff2040" stop-opacity="0.25"/><stop offset="0.6" stop-color="#ff1030" stop-opacity="0.45"/><stop offset="0.82" stop-color="#ff0a20" stop-opacity="0.85"/><stop offset="1" stop-color="#e0001a" stop-opacity="1"/></linearGradient><linearGradient id="h2" x1="0" y1="0" x2="0" y2="1"><stop offset="0" stop-color="#ff0010" stop-opacity="0"/><stop offset="0.25" stop-color="#ff0010" stop-opacity="0.45"/><stop offset="0.45" stop-color="#f00010" stop-opacity="0.95"/><stop offset="0.6" stop-color="#ff0010" stop-opacity="0.7"/><stop offset="0.8" stop-color="#ff2040" stop-opacity="0.3"/><stop offset="1" stop-color="#ff2040" stop-opacity="0"/></linearGradient><linearGradient id="h3" x1="0" y1="0" x2="0" y2="1"><stop offset="0" stop-color="#d00010" stop-opacity="1"/><stop offset="0.12" stop-color="#ff0010" stop-opacity="0.85"/><stop offset="0.4" stop-color="#ff1030" stop-opacity="0.5"/><stop offset="0.7" stop-color="#ff3050" stop-opacity="0.22"/><stop offset="1" stop-color="#ff3050" stop-opacity="0"/></linearGradient><linearGradient id="v0" x1="0" y1="0" x2="0" y2="1"><stop offset="0.00" stop-color="#f0506c" stop-opacity="0.15"/><stop offset="0.09" stop-color="#f0506c" stop-opacity="0.35"/><stop offset="0.24" stop-color="#f0506c" stop-opacity="0.6"/><stop offset="0.58" stop-color="#f0506c" stop-opacity="0.85"/><stop offset="0.80" stop-color="#f0506c" stop-opacity="0.6"/><stop offset="1.00" stop-color="#f0506c" stop-opacity="0.35"/></linearGradient><linearGradient id="v1" x1="0" y1="0" x2="0" y2="1"><stop offset="0.00" stop-color="#f0506c" stop-opacity="0.15"/><stop offset="0.73" stop-color="#f0506c" stop-opacity="0.15"/><stop offset="1.00" stop-color="#f0506c" stop-opacity="0.6"/></linearGradient><linearGradient id="v2" x1="0" y1="0" x2="0" y2="1"><stop offset="0.00" stop-color="#f0506c" stop-opacity="0.85"/><stop offset="0.43" stop-color="#f0506c" stop-opacity="0.6"/><stop offset="0.52" stop-color="#f0506c" stop-opacity="0.15"/><stop offset="1.00" stop-color="#f0506c" stop-opacity="0.85"/></linearGradient><linearGradient id="v3" x1="0" y1="0" x2="0" y2="1"><stop offset="0.00" stop-color="#f0506c" stop-opacity="1.0"/><stop offset="0.28" stop-color="#f0506c" stop-opacity="1.0"/><stop offset="0.29" stop-color="#f0506c" stop-opacity="0.15"/><stop offset="0.65" stop-color="#f0506c" stop-opacity="0.15"/><stop offset="0.70" stop-color="#f0506c" stop-opacity="1.0"/><stop offset="1.00" stop-color="#f0506c" stop-opacity="1.0"/></linearGradient><linearGradient id="v4" x1="0" y1="0" x2="0" y2="1"><stop offset="0.00" stop-color="#f0506c" stop-opacity="0.85"/><stop offset="0.31" stop-color="#f0506c" stop-opacity="0.6"/><stop offset="0.89" stop-color="#f0506c" stop-opacity="0.35"/><stop offset="1.00" stop-color="#f0506c" stop-opacity="0.6"/></linearGradient><linearGradient id="v5" x1="0" y1="0" x2="0" y2="1"><stop offset="0.00" stop-color="#f0506c" stop-opacity="0.85"/><stop offset="0.03" stop-color="#f0506c" stop-opacity="0.35"/><stop offset="1.00" stop-color="#f0506c" stop-opacity="0.85"/></linearGradient><linearGradient id="v6" x1="0" y1="0" x2="0" y2="1"><stop offset="0.00" stop-color="#f0506c" stop-opacity="0.35"/><stop offset="0.09" stop-color="#f0506c" stop-opacity="1.0"/><stop offset="0.66" stop-color="#f0506c" stop-opacity="0.35"/><stop offset="0.93" stop-color="#f0506c" stop-opacity="0.85"/><stop offset="1.00" stop-color="#f0506c" stop-opacity="0.85"/></linearGradient><linearGradient id="v7" x1="0" y1="0" x2="0" y2="1"><stop offset="0.00" stop-color="#f0506c" stop-opacity="0.35"/><stop offset="0.74" stop-color="#f0506c" stop-opacity="0.35"/><stop offset="1.00" stop-color="#f0506c" stop-opacity="0.85"/></linearGradient><linearGradient id="v8" x1="0" y1="0" x2="0" y2="1"><stop offset="0.00" stop-color="#f0506c" stop-opacity="0.35"/><stop offset="0.66" stop-color="#f0506c" stop-opacity="0.35"/><stop offset="0.68" stop-color="#f0506c" stop-opacity="1.0"/><stop offset="0.83" stop-color="#f0506c" stop-opacity="1.0"/><stop offset="1.00" stop-color="#f0506c" stop-opacity="0.6"/></linearGradient><linearGradient id="v9" x1="0" y1="0" x2="0" y2="1"><stop offset="0.00" stop-color="#f0506c" stop-opacity="0.85"/><stop offset="0.10" stop-color="#f0506c" stop-opacity="1.0"/><stop offset="0.39" stop-color="#f0506c" stop-opacity="0.6"/><stop offset="0.85" stop-color="#f0506c" stop-opacity="0.35"/><stop offset="0.88" stop-color="#f0506c" stop-opacity="0.15"/><stop offset="1.00" stop-color="#f0506c" stop-opacity="0.35"/></linearGradient><linearGradient id="v10" x1="0" y1="0" x2="0" y2="1"><stop offset="0.00" stop-color="#f0506c" stop-opacity="0.6"/><stop offset="0.28" stop-color="#f0506c" stop-opacity="0.6"/><stop offset="0.29" stop-color="#f0506c" stop-opacity="0.35"/><stop offset="0.87" stop-color="#f0506c" stop-opacity="0.35"/><stop offset="1.00" stop-color="#f0506c" stop-opacity="0.15"/></linearGradient><linearGradient id="v11" x1="0" y1="0" x2="0" y2="1"><stop offset="0.00" stop-color="#f0506c" stop-opacity="0.15"/><stop offset="0.18" stop-color="#f0506c" stop-opacity="0.85"/><stop offset="0.20" stop-color="#f0506c" stop-opacity="0.35"/><stop offset="0.75" stop-color="#f0506c" stop-opacity="0.6"/><stop offset="1.00" stop-color="#f0506c" stop-opacity="1.0"/></linearGradient><linearGradient id="v12" x1="0" y1="0" x2="0" y2="1"><stop offset="0.00" stop-color="#f0506c" stop-opacity="1.0"/><stop offset="0.17" stop-color="#f0506c" stop-opacity="0.85"/><stop offset="0.21" stop-color="#f0506c" stop-opacity="1.0"/><stop offset="0.85" stop-color="#f0506c" stop-opacity="0.85"/><stop offset="0.96" stop-color="#f0506c" stop-opacity="0.6"/><stop offset="1.00" stop-color="#f0506c" stop-opacity="1.0"/></linearGradient><linearGradient id="v13" x1="0" y1="0" x2="0" y2="1"><stop offset="0.00" stop-color="#f0506c" stop-opacity="0.85"/><stop offset="0.05" stop-color="#f0506c" stop-opacity="0.15"/><stop offset="0.37" stop-color="#f0506c" stop-opacity="0.15"/><stop offset="0.79" stop-color="#f0506c" stop-opacity="0.35"/><stop offset="1.00" stop-color="#f0506c" stop-opacity="0.15"/></linearGradient></defs>
<g filter="url(#b1)"><line x1="140.4" y1="548" x2="139.2" y2="788" stroke="url(#v5)" stroke-width="3.6" stroke-opacity="0.05"/><line x1="146.3" y1="548" x2="149.7" y2="788" stroke="url(#v6)" stroke-width="3.9" stroke-opacity="0.15"/><line x1="150.9" y1="548" x2="148.5" y2="788" stroke="url(#v8)" stroke-width="3.3" stroke-opacity="0.05"/><line x1="155.8" y1="548" x2="156.5" y2="788" stroke="url(#v5)" stroke-width="3.2" stroke-opacity="0.15"/><line x1="160.5" y1="548" x2="160.5" y2="788" stroke="url(#v12)" stroke-width="2.0" stroke-opacity="0.11"/><line x1="165.2" y1="548" x2="166.0" y2="788" stroke="url(#v6)" stroke-width="3.4" stroke-opacity="0.08"/><line x1="169.8" y1="548" x2="170.2" y2="788" stroke="url(#v13)" stroke-width="2.0" stroke-opacity="0.15"/><line x1="175.9" y1="548" x2="180.4" y2="788" stroke="url(#v5)" stroke-width="2.5" stroke-opacity="0.08"/><line x1="180.3" y1="548" x2="178.5" y2="788" stroke="url(#v11)" stroke-width="1.7" stroke-opacity="0.11"/><line x1="185.8" y1="548" x2="181.9" y2="788" stroke="url(#v7)" stroke-width="3.9" stroke-opacity="0.2"/><line x1="191.6" y1="548" x2="193.5" y2="788" stroke="url(#v12)" stroke-width="3.6" stroke-opacity="0.08"/><line x1="195.1" y1="548" x2="200.4" y2="788" stroke="url(#v4)" stroke-width="2.9" stroke-opacity="0.08"/><line x1="199.9" y1="548" x2="199.4" y2="788" stroke="url(#v4)" stroke-width="1.8" stroke-opacity="0.11"/><line x1="202.8" y1="548" x2="201.4" y2="788" stroke="url(#v9)" stroke-width="1.9" stroke-opacity="0.11"/><line x1="207.9" y1="548" x2="209.4" y2="788" stroke="url(#v6)" stroke-width="2.3" stroke-opacity="0.05"/><line x1="211.0" y1="548" x2="207.0" y2="788" stroke="url(#v3)" stroke-width="2.2" stroke-opacity="0.08"/><line x1="215.7" y1="548" x2="216.7" y2="788" stroke="url(#v11)" stroke-width="3.8" stroke-opacity="0.05"/><line x1="221.7" y1="548" x2="220.3" y2="788" stroke="url(#v9)" stroke-width="4.0" stroke-opacity="0.05"/><line x1="227.7" y1="548" x2="225.3" y2="788" stroke="url(#v12)" stroke-width="1.6" stroke-opacity="0.11"/><line x1="234.0" y1="548" x2="236.4" y2="788" stroke="url(#v10)" stroke-width="2.8" stroke-opacity="0.05"/><line x1="238.2" y1="548" x2="240.7" y2="788" stroke="url(#v10)" stroke-width="3.6" stroke-opacity="0.08"/><line x1="241.7" y1="548" x2="244.8" y2="788" stroke="url(#v5)" stroke-width="3.3" stroke-opacity="0.08"/><line x1="247.3" y1="548" x2="246.9" y2="788" stroke="url(#v7)" stroke-width="2.7" stroke-opacity="0.15"/><line x1="251.6" y1="548" x2="258.1" y2="788" stroke="url(#v2)" stroke-width="3.7" stroke-opacity="0.11"/><line x1="254.1" y1="548" x2="256.3" y2="788" stroke="url(#v2)" stroke-width="2.4" stroke-opacity="0.15"/><line x1="259.2" y1="548" x2="257.2" y2="788" stroke="url(#v7)" stroke-width="3.7" stroke-opacity="0.15"/><line x1="264.0" y1="548" x2="261.8" y2="788" stroke="url(#v2)" stroke-width="3.2" stroke-opacity="0.08"/><line x1="269.6" y1="548" x2="271.5" y2="788" stroke="url(#v8)" stroke-width="2.7" stroke-opacity="0.05"/><line x1="275.5" y1="548" x2="274.7" y2="788" stroke="url(#v1)" stroke-width="3.1" stroke-opacity="0.15"/><line x1="280.9" y1="548" x2="280.9" y2="788" stroke="url(#v4)" stroke-width="1.7" stroke-opacity="0.2"/><line x1="287.3" y1="548" x2="288.3" y2="788" stroke="url(#v1)" stroke-width="1.8" stroke-opacity="0.05"/><line x1="290.8" y1="548" x2="290.3" y2="788" stroke="url(#v5)" stroke-width="2.5" stroke-opacity="0.15"/><line x1="295.3" y1="548" x2="294.8" y2="788" stroke="url(#v9)" stroke-width="3.2" stroke-opacity="0.15"/><line x1="299.5" y1="548" x2="300.0" y2="788" stroke="url(#v11)" stroke-width="2.6" stroke-opacity="0.11"/><line x1="305.6" y1="548" x2="304.2" y2="788" stroke="url(#v0)" stroke-width="2.0" stroke-opacity="0.11"/><line x1="311.7" y1="548" x2="308.0" y2="788" stroke="url(#v8)" stroke-width="3.7" stroke-opacity="0.05"/><line x1="315.8" y1="548" x2="313.9" y2="788" stroke="url(#v2)" stroke-width="3.3" stroke-opacity="0.15"/><line x1="321.0" y1="548" x2="318.0" y2="788" stroke="url(#v8)" stroke-width="2.4" stroke-opacity="0.15"/><line x1="326.3" y1="548" x2="325.8" y2="788" stroke="url(#v3)" stroke-width="2.8" stroke-opacity="0.08"/><line x1="329.6" y1="548" x2="336.4" y2="788" stroke="url(#v12)" stroke-width="1.9" stroke-opacity="0.05"/><line x1="336.0" y1="548" x2="337.9" y2="788" stroke="url(#v9)" stroke-width="2.1" stroke-opacity="0.08"/><line x1="340.5" y1="548" x2="340.6" y2="788" stroke="url(#v8)" stroke-width="3.6" stroke-opacity="0.08"/><line x1="344.8" y1="548" x2="347.8" y2="788" stroke="url(#v0)" stroke-width="3.5" stroke-opacity="0.2"/><line x1="349.7" y1="548" x2="349.8" y2="788" stroke="url(#v6)" stroke-width="2.9" stroke-opacity="0.05"/><line x1="356.0" y1="548" x2="358.1" y2="788" stroke="url(#v2)" stroke-width="3.8" stroke-opacity="0.05"/><line x1="359.0" y1="548" x2="364.7" y2="788" stroke="url(#v4)" stroke-width="1.8" stroke-opacity="0.15"/><line x1="363.6" y1="548" x2="367.2" y2="788" stroke="url(#v11)" stroke-width="2.5" stroke-opacity="0.11"/><line x1="366.3" y1="548" x2="370.8" y2="788" stroke="url(#v10)" stroke-width="2.0" stroke-opacity="0.2"/><line x1="371.5" y1="548" x2="366.9" y2="788" stroke="url(#v3)" stroke-width="3.4" stroke-opacity="0.11"/><line x1="374.9" y1="548" x2="374.6" y2="788" stroke="url(#v7)" stroke-width="2.0" stroke-opacity="0.27"/><line x1="380.1" y1="548" x2="378.4" y2="788" stroke="url(#v10)" stroke-width="3.7" stroke-opacity="0.08"/><line x1="384.0" y1="548" x2="382.0" y2="788" stroke="url(#v5)" stroke-width="2.7" stroke-opacity="0.11"/><line x1="386.9" y1="548" x2="385.5" y2="788" stroke="url(#v7)" stroke-width="3.9" stroke-opacity="0.05"/><line x1="392.4" y1="548" x2="388.4" y2="788" stroke="url(#v4)" stroke-width="1.5" stroke-opacity="0.11"/><line x1="397.4" y1="548" x2="399.0" y2="788" stroke="url(#v8)" stroke-width="3.5" stroke-opacity="0.05"/><line x1="400.0" y1="548" x2="396.1" y2="788" stroke="url(#v8)" stroke-width="3.6" stroke-opacity="0.08"/><line x1="403.4" y1="548" x2="400.5" y2="788" stroke="url(#v5)" stroke-width="3.1" stroke-opacity="0.05"/><line x1="406.9" y1="548" x2="405.0" y2="788" stroke="url(#v4)" stroke-width="3.3" stroke-opacity="0.11"/><line x1="412.2" y1="548" x2="415.5" y2="788" stroke="url(#v6)" stroke-width="2.2" stroke-opacity="0.08"/><line x1="417.1" y1="548" x2="421.6" y2="788" stroke="url(#v3)" stroke-width="3.3" stroke-opacity="0.08"/><line x1="422.8" y1="548" x2="419.6" y2="788" stroke="url(#v6)" stroke-width="3.9" stroke-opacity="0.05"/><line x1="427.3" y1="548" x2="427.6" y2="788" stroke="url(#v10)" stroke-width="2.6" stroke-opacity="0.11"/><line x1="430.1" y1="548" x2="431.8" y2="788" stroke="url(#v10)" stroke-width="3.9" stroke-opacity="0.27"/><line x1="433.7" y1="548" x2="432.5" y2="788" stroke="url(#v6)" stroke-width="3.0" stroke-opacity="0.08"/><line x1="439.8" y1="548" x2="437.8" y2="788" stroke="url(#v9)" stroke-width="2.8" stroke-opacity="0.2"/><line x1="442.8" y1="548" x2="440.8" y2="788" stroke="url(#v12)" stroke-width="2.0" stroke-opacity="0.15"/><line x1="445.8" y1="548" x2="446.3" y2="788" stroke="url(#v4)" stroke-width="1.7" stroke-opacity="0.15"/><line x1="452.1" y1="548" x2="450.1" y2="788" stroke="url(#v0)" stroke-width="3.5" stroke-opacity="0.08"/><line x1="458.0" y1="548" x2="456.5" y2="788" stroke="url(#v0)" stroke-width="3.5" stroke-opacity="0.15"/><line x1="464.4" y1="548" x2="466.2" y2="788" stroke="url(#v7)" stroke-width="2.8" stroke-opacity="0.05"/><line x1="469.3" y1="548" x2="463.6" y2="788" stroke="url(#v5)" stroke-width="3.3" stroke-opacity="0.11"/><line x1="473.3" y1="548" x2="472.5" y2="788" stroke="url(#v4)" stroke-width="2.2" stroke-opacity="0.08"/><line x1="479.1" y1="548" x2="483.2" y2="788" stroke="url(#v5)" stroke-width="1.9" stroke-opacity="0.08"/><line x1="483.0" y1="548" x2="487.3" y2="788" stroke="url(#v5)" stroke-width="3.9" stroke-opacity="0.2"/><line x1="486.1" y1="548" x2="490.4" y2="788" stroke="url(#v11)" stroke-width="2.7" stroke-opacity="0.11"/><line x1="491.3" y1="548" x2="491.8" y2="788" stroke="url(#v8)" stroke-width="3.5" stroke-opacity="0.08"/><line x1="494.1" y1="548" x2="498.6" y2="788" stroke="url(#v0)" stroke-width="1.7" stroke-opacity="0.05"/><line x1="498.1" y1="548" x2="501.0" y2="788" stroke="url(#v10)" stroke-width="2.7" stroke-opacity="0.11"/><line x1="500.7" y1="548" x2="502.5" y2="788" stroke="url(#v8)" stroke-width="2.0" stroke-opacity="0.2"/><line x1="504.3" y1="548" x2="504.6" y2="788" stroke="url(#v5)" stroke-width="3.4" stroke-opacity="0.15"/><line x1="508.8" y1="548" x2="505.7" y2="788" stroke="url(#v11)" stroke-width="2.5" stroke-opacity="0.11"/><line x1="514.9" y1="548" x2="515.2" y2="788" stroke="url(#v8)" stroke-width="3.9" stroke-opacity="0.05"/><line x1="517.6" y1="548" x2="514.4" y2="788" stroke="url(#v7)" stroke-width="2.4" stroke-opacity="0.2"/><line x1="520.4" y1="548" x2="516.6" y2="788" stroke="url(#v7)" stroke-width="3.5" stroke-opacity="0.11"/><line x1="526.1" y1="548" x2="524.7" y2="788" stroke="url(#v13)" stroke-width="1.6" stroke-opacity="0.05"/><line x1="529.1" y1="548" x2="527.0" y2="788" stroke="url(#v0)" stroke-width="2.8" stroke-opacity="0.15"/><line x1="531.8" y1="548" x2="534.7" y2="788" stroke="url(#v1)" stroke-width="2.2" stroke-opacity="0.15"/><line x1="534.3" y1="548" x2="533.1" y2="788" stroke="url(#v2)" stroke-width="2.2" stroke-opacity="0.27"/><line x1="539.0" y1="548" x2="538.7" y2="788" stroke="url(#v6)" stroke-width="3.8" stroke-opacity="0.15"/><line x1="542.0" y1="548" x2="542.0" y2="788" stroke="url(#v9)" stroke-width="2.7" stroke-opacity="0.08"/><line x1="547.9" y1="548" x2="544.7" y2="788" stroke="url(#v4)" stroke-width="3.4" stroke-opacity="0.08"/><line x1="551.9" y1="548" x2="548.1" y2="788" stroke="url(#v13)" stroke-width="2.8" stroke-opacity="0.05"/><line x1="557.3" y1="548" x2="553.1" y2="788" stroke="url(#v3)" stroke-width="1.7" stroke-opacity="0.11"/><line x1="562.8" y1="548" x2="562.5" y2="788" stroke="url(#v9)" stroke-width="3.9" stroke-opacity="0.08"/><line x1="566.9" y1="548" x2="572.2" y2="788" stroke="url(#v3)" stroke-width="3.3" stroke-opacity="0.15"/><line x1="569.6" y1="548" x2="571.7" y2="788" stroke="url(#v4)" stroke-width="2.1" stroke-opacity="0.15"/><line x1="576.0" y1="548" x2="580.9" y2="788" stroke="url(#v3)" stroke-width="1.7" stroke-opacity="0.08"/><line x1="579.9" y1="548" x2="580.5" y2="788" stroke="url(#v7)" stroke-width="3.5" stroke-opacity="0.2"/><line x1="584.5" y1="548" x2="585.0" y2="788" stroke="url(#v4)" stroke-width="1.9" stroke-opacity="0.05"/><line x1="590.2" y1="548" x2="590.3" y2="788" stroke="url(#v3)" stroke-width="2.4" stroke-opacity="0.05"/><line x1="593.8" y1="548" x2="591.7" y2="788" stroke="url(#v12)" stroke-width="1.7" stroke-opacity="0.27"/><line x1="598.2" y1="548" x2="595.6" y2="788" stroke="url(#v1)" stroke-width="1.5" stroke-opacity="0.15"/><line x1="600.8" y1="548" x2="601.4" y2="788" stroke="url(#v6)" stroke-width="3.9" stroke-opacity="0.11"/><line x1="606.3" y1="548" x2="607.2" y2="788" stroke="url(#v12)" stroke-width="1.6" stroke-opacity="0.15"/><line x1="608.8" y1="548" x2="613.9" y2="788" stroke="url(#v7)" stroke-width="3.6" stroke-opacity="0.08"/><line x1="614.5" y1="548" x2="610.0" y2="788" stroke="url(#v7)" stroke-width="3.1" stroke-opacity="0.27"/><line x1="620.4" y1="548" x2="620.6" y2="788" stroke="url(#v2)" stroke-width="3.6" stroke-opacity="0.11"/><line x1="625.5" y1="548" x2="624.3" y2="788" stroke="url(#v6)" stroke-width="2.0" stroke-opacity="0.11"/><line x1="629.2" y1="548" x2="630.9" y2="788" stroke="url(#v1)" stroke-width="2.0" stroke-opacity="0.05"/><line x1="635.0" y1="548" x2="632.2" y2="788" stroke="url(#v12)" stroke-width="3.3" stroke-opacity="0.11"/><line x1="641.0" y1="548" x2="634.4" y2="788" stroke="url(#v0)" stroke-width="2.7" stroke-opacity="0.15"/><line x1="644.1" y1="548" x2="642.7" y2="788" stroke="url(#v10)" stroke-width="3.9" stroke-opacity="0.15"/><line x1="649.2" y1="548" x2="651.4" y2="788" stroke="url(#v6)" stroke-width="2.1" stroke-opacity="0.11"/><line x1="652.9" y1="548" x2="651.1" y2="788" stroke="url(#v3)" stroke-width="1.9" stroke-opacity="0.08"/><line x1="655.5" y1="548" x2="663.2" y2="788" stroke="url(#v11)" stroke-width="2.3" stroke-opacity="0.27"/><line x1="658.8" y1="548" x2="659.9" y2="788" stroke="url(#v5)" stroke-width="1.8" stroke-opacity="0.08"/><line x1="664.6" y1="548" x2="662.2" y2="788" stroke="url(#v6)" stroke-width="2.7" stroke-opacity="0.2"/><line x1="668.4" y1="548" x2="670.7" y2="788" stroke="url(#v11)" stroke-width="2.7" stroke-opacity="0.05"/><line x1="671.1" y1="548" x2="668.1" y2="788" stroke="url(#v8)" stroke-width="2.7" stroke-opacity="0.05"/><line x1="673.6" y1="548" x2="672.8" y2="788" stroke="url(#v2)" stroke-width="2.6" stroke-opacity="0.11"/><line x1="676.6" y1="548" x2="674.4" y2="788" stroke="url(#v1)" stroke-width="2.7" stroke-opacity="0.08"/><line x1="681.8" y1="548" x2="682.6" y2="788" stroke="url(#v5)" stroke-width="2.3" stroke-opacity="0.15"/><line x1="684.3" y1="548" x2="686.4" y2="788" stroke="url(#v4)" stroke-width="2.0" stroke-opacity="0.08"/><line x1="689.1" y1="548" x2="690.6" y2="788" stroke="url(#v6)" stroke-width="1.7" stroke-opacity="0.08"/><line x1="694.6" y1="548" x2="694.5" y2="788" stroke="url(#v5)" stroke-width="3.2" stroke-opacity="0.08"/><line x1="697.1" y1="548" x2="695.2" y2="788" stroke="url(#v1)" stroke-width="2.4" stroke-opacity="0.15"/><line x1="701.7" y1="548" x2="700.8" y2="788" stroke="url(#v0)" stroke-width="1.8" stroke-opacity="0.11"/><line x1="705.5" y1="548" x2="709.6" y2="788" stroke="url(#v11)" stroke-width="1.8" stroke-opacity="0.05"/><line x1="711.6" y1="548" x2="709.1" y2="788" stroke="url(#v13)" stroke-width="2.0" stroke-opacity="0.27"/><line x1="714.3" y1="548" x2="711.8" y2="788" stroke="url(#v4)" stroke-width="1.9" stroke-opacity="0.11"/><line x1="717.5" y1="548" x2="716.2" y2="788" stroke="url(#v1)" stroke-width="2.2" stroke-opacity="0.2"/><line x1="721.8" y1="548" x2="719.3" y2="788" stroke="url(#v12)" stroke-width="3.3" stroke-opacity="0.11"/><line x1="725.1" y1="548" x2="724.4" y2="788" stroke="url(#v11)" stroke-width="2.1" stroke-opacity="0.11"/><line x1="728.8" y1="548" x2="727.3" y2="788" stroke="url(#v4)" stroke-width="1.7" stroke-opacity="0.11"/><line x1="734.7" y1="548" x2="733.0" y2="788" stroke="url(#v9)" stroke-width="2.5" stroke-opacity="0.27"/><line x1="737.7" y1="548" x2="739.2" y2="788" stroke="url(#v4)" stroke-width="3.6" stroke-opacity="0.27"/><line x1="744.1" y1="548" x2="746.6" y2="788" stroke="url(#v4)" stroke-width="2.7" stroke-opacity="0.11"/><line x1="750.3" y1="548" x2="749.3" y2="788" stroke="url(#v5)" stroke-width="1.8" stroke-opacity="0.05"/><line x1="754.7" y1="548" x2="755.0" y2="788" stroke="url(#v13)" stroke-width="3.0" stroke-opacity="0.11"/><line x1="759.8" y1="548" x2="758.1" y2="788" stroke="url(#v9)" stroke-width="3.0" stroke-opacity="0.11"/><line x1="762.7" y1="548" x2="764.5" y2="788" stroke="url(#v9)" stroke-width="3.1" stroke-opacity="0.08"/><line x1="767.6" y1="548" x2="767.1" y2="788" stroke="url(#v9)" stroke-width="2.1" stroke-opacity="0.08"/><line x1="772.7" y1="548" x2="772.3" y2="788" stroke="url(#v12)" stroke-width="3.3" stroke-opacity="0.05"/><line x1="777.7" y1="548" x2="776.7" y2="788" stroke="url(#v2)" stroke-width="2.2" stroke-opacity="0.2"/><line x1="782.8" y1="548" x2="777.8" y2="788" stroke="url(#v4)" stroke-width="3.1" stroke-opacity="0.27"/><line x1="787.6" y1="548" x2="792.9" y2="788" stroke="url(#v13)" stroke-width="1.5" stroke-opacity="0.08"/><line x1="791.5" y1="548" x2="791.0" y2="788" stroke="url(#v11)" stroke-width="3.1" stroke-opacity="0.05"/><line x1="797.7" y1="548" x2="798.5" y2="788" stroke="url(#v5)" stroke-width="1.7" stroke-opacity="0.08"/><line x1="801.8" y1="548" x2="797.6" y2="788" stroke="url(#v9)" stroke-width="2.7" stroke-opacity="0.08"/><line x1="807.8" y1="548" x2="810.6" y2="788" stroke="url(#v4)" stroke-width="3.4" stroke-opacity="0.08"/><line x1="813.5" y1="548" x2="812.4" y2="788" stroke="url(#v4)" stroke-width="3.5" stroke-opacity="0.05"/><line x1="817.1" y1="548" x2="814.6" y2="788" stroke="url(#v13)" stroke-width="3.4" stroke-opacity="0.11"/><line x1="819.9" y1="548" x2="824.4" y2="788" stroke="url(#v4)" stroke-width="3.8" stroke-opacity="0.2"/><line x1="822.5" y1="548" x2="818.0" y2="788" stroke="url(#v9)" stroke-width="3.7" stroke-opacity="0.08"/><line x1="828.1" y1="548" x2="832.9" y2="788" stroke="url(#v10)" stroke-width="1.6" stroke-opacity="0.2"/><line x1="832.5" y1="548" x2="830.0" y2="788" stroke="url(#v2)" stroke-width="2.1" stroke-opacity="0.15"/><line x1="837.5" y1="548" x2="838.9" y2="788" stroke="url(#v9)" stroke-width="3.4" stroke-opacity="0.27"/><line x1="842.3" y1="548" x2="838.6" y2="788" stroke="url(#v4)" stroke-width="3.1" stroke-opacity="0.27"/><line x1="846.5" y1="548" x2="845.9" y2="788" stroke="url(#v4)" stroke-width="2.2" stroke-opacity="0.15"/></g>
<g filter="url(#b1)">
<path d="M308.3,652 L312.5,652 L317,788 L312,788Z" fill="url(#h1)"/>
<path d="M487,615 L491,615 L496,690 L495,740 L483,740 L483,690Z" fill="url(#h2)" opacity="0.35" filter="url(#b2)"/>
<path d="M488.2,625 L490.8,625 L491.8,735 L487.2,735Z" fill="url(#h2)"/>
<path d="M486,690 L493,690 L497,735 L483,735Z" fill="#ff4060" opacity="0.12" filter="url(#b2)"/>
<path d="M664,548 L669,548 L675,600 L672,690 L660,690 L657,600Z" fill="url(#h3)" opacity="0.45" filter="url(#b2)"/>
<path d="M664.5,548 L668.5,548 L670,670 L663,670Z" fill="url(#h3)"/>
</g>
</g>
<rect x="136.5" y="547.2" width="706.2" height="241.7" fill="none" stroke="#5a5a5a" stroke-width="2"/>
<line x1="137" y1="595" x2="141" y2="595" stroke="#5a5a5a" stroke-width="1.6"/>
<line x1="842" y1="595" x2="838" y2="595" stroke="#5a5a5a" stroke-width="1.6"/>
<line x1="137" y1="644" x2="141" y2="644" stroke="#5a5a5a" stroke-width="1.6"/>
<line x1="842" y1="644" x2="838" y2="644" stroke="#5a5a5a" stroke-width="1.6"/>
<line x1="137" y1="693.4" x2="141" y2="693.4" stroke="#5a5a5a" stroke-width="1.6"/>
<line x1="842" y1="693.4" x2="838" y2="693.4" stroke="#5a5a5a" stroke-width="1.6"/>
<line x1="137" y1="742.8" x2="141" y2="742.8" stroke="#5a5a5a" stroke-width="1.6"/>
<line x1="842" y1="742.8" x2="838" y2="742.8" stroke="#5a5a5a" stroke-width="1.6"/>
<line x1="313.3" y1="548" x2="313.3" y2="552" stroke="#5a5a5a" stroke-width="1.6"/>
<line x1="313.3" y1="788" x2="313.3" y2="784" stroke="#5a5a5a" stroke-width="1.6"/>
<line x1="489.9" y1="548" x2="489.9" y2="552" stroke="#5a5a5a" stroke-width="1.6"/>
<line x1="489.9" y1="788" x2="489.9" y2="784" stroke="#5a5a5a" stroke-width="1.6"/>
<line x1="666.7" y1="548" x2="666.7" y2="552" stroke="#5a5a5a" stroke-width="1.6"/>
<line x1="666.7" y1="788" x2="666.7" y2="784" stroke="#5a5a5a" stroke-width="1.6"/>
<text x="-1.5" y="551.5" font-size="36" text-anchor="start" fill="#000" font-weight="bold" font-family='"Liberation Sans", sans-serif' >b</text>
<path d="M763 0H583V1147Q518 1085 412.5 1023T223 930V1104Q374 1175 487.5 1276T648 1472H763V0Z" fill="#000" transform="translate(62.66,558.5) scale(0.01465,-0.01465)"/>
<text x="79.35" y="558.5" font-size="30" fill="#000" font-family='"Liberation Sans", sans-serif' xml:space="preserve">580</text>
<path d="M763 0H583V1147Q518 1085 412.5 1023T223 930V1104Q374 1175 487.5 1276T648 1472H763V0Z" fill="#000" transform="translate(62.66,604.7) scale(0.01465,-0.01465)"/>
<text x="79.35" y="604.7" font-size="30" fill="#000" font-family='"Liberation Sans", sans-serif' xml:space="preserve">560</text>
<path d="M763 0H583V1147Q518 1085 412.5 1023T223 930V1104Q374 1175 487.5 1276T648 1472H763V0Z" fill="#000" transform="translate(62.66,654.3) scale(0.01465,-0.01465)"/>
<text x="79.35" y="654.3" font-size="30" fill="#000" font-family='"Liberation Sans", sans-serif' xml:space="preserve">540</text>
<path d="M763 0H583V1147Q518 1085 412.5 1023T223 930V1104Q374 1175 487.5 1276T648 1472H763V0Z" fill="#000" transform="translate(62.66,703.9) scale(0.01465,-0.01465)"/>
<text x="79.35" y="703.9" font-size="30" fill="#000" font-family='"Liberation Sans", sans-serif' xml:space="preserve">520</text>
<path d="M763 0H583V1147Q518 1085 412.5 1023T223 930V1104Q374 1175 487.5 1276T648 1472H763V0Z" fill="#000" transform="translate(62.66,753.5) scale(0.01465,-0.01465)"/>
<text x="79.35" y="753.5" font-size="30" fill="#000" font-family='"Liberation Sans", sans-serif' xml:space="preserve">500</text>
<path d="M763 0H583V1147Q518 1085 412.5 1023T223 930V1104Q374 1175 487.5 1276T648 1472H763V0Z" fill="#000" transform="translate(62.66,798.5) scale(0.01465,-0.01465)"/>
<text x="79.35" y="798.5" font-size="30" fill="#000" font-family='"Liberation Sans", sans-serif' xml:space="preserve">480</text>
<text x="0" y="0" font-size="30" font-family='"Liberation Sans", sans-serif' text-anchor="middle" transform="translate(46.9,665.2) rotate(-90)">λ (nm)</text>
<text x="289.40" y="536.7" font-size="30" fill="#000" font-family='"Liberation Sans", sans-serif' xml:space="preserve">Ch</text>
<path d="M763 0H583V1147Q518 1085 412.5 1023T223 930V1104Q374 1175 487.5 1276T648 1472H763V0Z" fill="#000" transform="translate(327.75,536.7) scale(0.01465,-0.01465)"/>
<text x="469.3" y="538.5" font-size="30" text-anchor="start" fill="#000" font-weight="normal" font-family='"Liberation Sans", sans-serif' >Ch2</text>
<text x="637.1" y="537.5" font-size="30" text-anchor="start" fill="#000" font-weight="normal" font-family='"Liberation Sans", sans-serif' >Ch3</text>
<text x="294.8" y="826.6" font-size="30" text-anchor="start" fill="#000" font-weight="normal" font-family='"Liberation Sans", sans-serif' >-30</text>
<text x="483.5" y="824.5" font-size="30" text-anchor="start" fill="#000" font-weight="normal" font-family='"Liberation Sans", sans-serif' >0</text>
<text x="648.8" y="828" font-size="30" text-anchor="start" fill="#000" font-weight="normal" font-family='"Liberation Sans", sans-serif' >30</text>
<text x="450.5" y="863.1" font-size="30" text-anchor="start" fill="#000" font-weight="normal" font-family='"Liberation Sans", sans-serif' textLength="96.5" lengthAdjust="spacingAndGlyphs">x (μm)</text>
<text x="905.9" y="32.6" font-size="36" text-anchor="start" fill="#000" font-weight="bold" font-family='"Liberation Sans", sans-serif' >c</text>
<path d="M983.4,74.4 L990.9,52.1 L993.8,53.2M1001.2,58.9 L1006.4,53.8 L1011.0,54.4 L1014.4,69.9M1021.5,78.0 L1025.3,85.9 L1028.8,102.6M1032.8,118.1 L1039.1,106.0 L1044.9,118.1M1049.5,109.5 L1054.0,111.5 L1060.0,113.4 L1066.7,114.9 L1071.9,120.9 L1074.9,129.9M1080.9,147.8 L1086.9,156.7 L1092.1,156.0 L1098.1,165.7M1107.0,182.8 L1122.7,206.7M1139.1,211.9 L1143.6,211.2 L1149.6,215.7 L1155.5,210.4 L1161.7,213.9M1173.3,213.2 L1183.0,213.9 L1194.6,225.5M1207.7,217.3 L1215.9,204.9 L1226.2,198.8M1242.7,202.9 L1254.4,195.3 L1259.9,196.0 L1265.4,202.2M1283.2,200.8 L1292.8,194.6 L1299.7,200.8 L1307.3,201.5M1320.3,193.3 L1327.2,200.1" fill="none" stroke="#0072bd" stroke-width="3.8" stroke-linejoin="round" stroke-linecap="butt"/>
<path d="M983.7,171.5 L984.2,170.2 L985.2,168.1 L985.8,167.0 L986.3,164.9 L986.6,164.5 L987.6,163.5 L988.3,160.9 L988.7,159.9 L989.4,158.5 L990.0,156.3 L990.4,155.7 L991.2,152.7 L991.9,150.7 L992.4,148.9 L993.0,147.3 L993.2,145.8 L993.8,144.7 L994.5,143.0 L995.1,140.9 L995.4,140.0 L995.8,137.5 L996.0,136.2 L996.4,135.6 L996.7,132.5 L997.1,131.8 L997.5,129.4 L997.7,128.1 L998.4,126.1 L998.5,124.7 L998.9,123.6 L998.9,122.9 L999.4,119.8 L999.5,118.2 L999.9,117.0 L1000.2,115.2 L1000.2,112.9 L1000.5,111.7 L1001.0,109.2 L1001.2,108.6 L1001.6,106.0 L1001.8,105.1 L1001.9,104.2 L1002.0,101.4 L1002.5,100.0 L1002.7,98.9 L1004.2,96.8 L1005.4,94.4 L1006.1,96.8 L1007.2,98.0 L1008.4,98.3 L1009.4,99.9 L1010.5,101.7 L1011.7,102.1 L1013.2,101.7 L1014.9,102.1 L1016.7,99.9 L1017.4,97.9 L1017.9,96.5 L1018.2,96.2 L1018.8,93.6 L1019.5,91.7 L1019.6,91.6 L1020.3,89.4 L1020.9,87.6 L1021.2,86.1 L1021.6,85.0 L1022.1,82.9 L1022.4,80.8 L1022.6,79.0 L1023.2,78.6 L1023.5,75.2 L1023.7,74.8 L1024.2,72.9 L1024.9,71.7 L1025.1,69.8 L1025.8,68.0 L1026.6,67.1 L1027.1,64.3 L1027.5,63.1 L1027.9,61.1 L1028.7,59.9 L1029.2,58.0 L1030.2,56.4 L1030.5,54.9 L1031.5,53.0 L1032.2,51.0 L1033.2,50.4 L1034.8,51.6 L1036.8,52.3 L1036.7,52.9 L1037.8,55.4 L1037.8,57.8 L1038.1,59.7 L1038.4,61.0 L1038.6,62.7 L1039.3,64.1 L1039.6,65.7 L1040.0,67.7 L1040.1,69.3 L1040.5,70.5 L1040.9,72.3 L1041.2,74.0 L1041.5,75.0 L1042.0,77.4 L1042.3,79.3 L1042.3,81.0 L1042.7,82.4 L1043.1,84.0 L1043.6,85.6 L1043.6,87.7 L1044.3,89.3 L1044.6,89.7 L1044.9,92.1 L1045.1,93.8 L1045.8,94.6 L1046.2,96.9 L1046.9,98.8 L1047.1,99.5 L1047.6,101.6 L1048.1,103.1 L1049.4,104.8 L1050.3,105.2 L1051.3,107.3 L1052.5,108.8 L1053.3,109.3 L1054.3,109.3 L1055.1,111.4 L1056.1,113.9 L1056.5,115.2 L1057.4,117.4 L1058.2,118.8 L1058.9,120.1 L1059.7,121.4 L1060.0,123.1 L1060.4,124.8 L1060.9,125.4 L1061.6,127.1 L1061.8,128.4 L1062.2,130.4 L1062.6,132.8 L1063.1,133.1 L1063.8,135.7 L1063.8,136.7 L1064.8,138.2 L1064.9,140.1 L1064.9,141.4 L1065.6,144.2 L1065.8,145.1 L1066.2,146.8 L1066.4,147.9 L1066.7,150.3 L1067.0,150.9 L1067.4,153.3 L1067.6,154.0 L1067.8,155.7 L1067.8,158.2 L1068.4,159.8 L1068.7,161.4 L1069.2,163.5 L1069.6,166.0 L1069.7,166.7 L1070.3,167.4 L1070.3,169.6 L1070.6,171.5 L1071.4,171.9 L1071.4,174.5 L1072.2,174.8 L1072.4,177.1 L1072.5,178.5 L1073.0,180.3 L1073.5,181.7 L1073.9,183.3 L1074.4,185.4 L1074.8,186.1 L1075.6,187.4 L1077.0,189.3 L1077.7,189.7 L1078.7,191.6 L1079.8,192.8 L1081.2,194.0 L1082.6,192.6 L1084.1,192.7 L1085.4,192.5 L1087.1,190.7 L1088.6,190.8 L1089.4,191.6 L1090.5,192.9 L1091.5,194.0 L1092.7,195.4 L1093.7,196.9 L1094.3,198.3 L1094.9,200.1 L1095.7,202.2 L1096.4,202.4 L1096.8,204.7 L1097.6,206.6 L1097.8,207.8 L1098.4,209.0 L1099.3,210.3 L1100.4,211.8 L1100.8,213.6 L1101.7,214.1 L1102.5,216.0 L1102.8,217.9 L1103.8,220.7 L1105.4,220.0 L1106.7,220.9 L1108.4,222.8 L1109.7,223.9 L1111.0,224.2 L1112.7,225.1 L1114.1,226.9 L1115.7,227.3 L1117.6,229.2 L1119.1,228.3 L1119.9,230.5 L1120.9,231.5 L1122.0,233.5 L1123.0,233.8 L1123.9,235.8 L1124.9,237.3 L1126.6,237.8 L1128.2,238.9 L1129.8,239.4 L1130.9,242.1 L1132.7,240.8 L1134.5,240.9 L1136.0,242.0 L1137.4,240.5 L1138.6,240.5 L1140.2,240.0 L1141.5,237.5 L1142.7,237.0 L1144.0,235.8 L1145.2,235.3 L1146.6,233.5 L1147.6,232.4 L1149.9,232.7 L1151.5,232.3 L1153.4,233.4 L1154.9,233.5 L1157.0,233.4 L1158.7,234.7 L1160.5,235.2 L1162.1,236.9 L1163.4,237.4 L1164.7,237.0 L1165.9,235.2 L1167.2,235.1 L1168.3,233.4 L1169.4,230.3 L1170.5,229.1 L1171.4,227.6 L1172.2,227.9 L1173.2,225.7 L1174.3,223.4 L1175.0,222.6 L1175.8,221.1 L1176.7,220.7 L1177.7,218.8 L1178.5,219.5 L1178.9,222.0 L1180.6,223.0 L1181.1,224.2 L1182.3,225.0 L1183.0,227.2 L1183.6,229.5 L1184.7,230.9 L1185.2,231.7 L1186.4,233.4 L1187.1,233.8 L1187.7,235.3 L1188.4,238.0 L1189.9,238.3 L1191.3,240.3 L1192.6,241.4 L1194.2,242.6 L1195.6,241.2 L1197.3,239.9 L1199.3,238.9 L1200.7,237.6 L1202.3,237.9 L1203.7,236.1 L1205.1,235.9 L1206.5,234.3 L1207.8,233.6 L1209.3,234.1 L1211.1,233.3 L1212.8,233.0 L1214.1,233.1 L1215.8,232.0 L1217.5,231.8 L1219.4,231.1 L1220.6,230.5 L1222.6,230.2 L1224.2,229.1 L1225.8,230.3 L1227.7,229.9 L1229.2,230.2 L1231.1,230.6 L1232.3,231.7 L1233.6,233.1 L1235.3,234.0 L1236.7,235.4 L1238.0,237.7 L1239.9,236.1 L1241.2,235.3 L1242.9,233.9 L1244.4,234.3 L1246.0,233.3 L1248.0,233.1 L1249.5,233.5 L1251.2,233.3 L1253.1,233.7 L1254.6,234.0 L1255.8,235.0 L1257.1,237.1 L1258.3,238.0 L1259.7,237.8 L1261.2,239.7 L1262.8,239.2 L1264.4,238.6 L1265.7,238.4 L1267.6,238.6 L1269.2,239.1 L1271.0,237.7 L1272.8,237.4 L1274.7,237.0 L1276.6,236.3 L1278.2,236.5 L1279.8,236.0 L1281.8,235.2 L1283.2,235.6 L1284.8,235.7 L1286.7,234.3 L1288.1,234.4 L1289.7,233.4 L1291.2,233.0 L1292.6,233.5 L1294.2,231.9 L1295.8,231.9 L1297.5,230.6 L1299.4,229.9 L1301.4,229.4 L1302.1,227.6 L1302.9,227.3 L1303.9,225.9 L1304.7,224.3 L1305.7,222.1 L1306.8,221.1 L1308.2,220.5 L1309.9,220.0 L1311.4,218.0 L1312.6,218.7 L1314.0,220.4 L1314.9,221.4 L1316.2,223.6 L1317.0,224.5 L1318.1,226.1 L1318.9,228.0 L1319.7,230.2 L1320.4,229.8 L1321.7,232.7 L1323.1,231.2 L1324.4,230.6 L1325.7,229.5 L1325.8,228.6 L1326.2,226.1 L1326.2,224.4 L1326.4,223.1 L1326.6,221.0 L1326.8,219.5 L1326.9,217.9 L1327.1,215.6 L1327.2,215.1 L1327.3,212.4 L1327.5,210.9 L1327.9,209.2 L1327.9,207.7" fill="none" stroke="#0072bd" stroke-width="7.2" stroke-linejoin="round" stroke-linecap="butt" />
<path d="M982.6,407.4 L989.8,422.9 L995.5,421.9 L999.6,426.0M1012.0,436.9 L1020.8,464.8M1028.6,474.6 L1036.8,461.7 L1040.0,465.3 L1044.0,468.0 L1049.0,460.0M1056.0,448.0 L1066.0,430.0 L1074.0,414.0M1085.0,397.0 L1094.2,387.0 L1105.2,371.4M1109.0,360.0 L1113.0,343.0 L1118.0,327.0 L1122.0,322.0 L1129.7,322.3M1136.0,333.0 L1138.6,334.7 L1141.8,333.9 L1147.4,334.7 L1152.0,333.0 L1158.0,331.0M1169.1,335.5 L1175.6,345.2 L1182.8,341.2 L1191.6,346.8M1200.4,363.4 L1204.2,367.9 L1208.6,390.3M1213.9,408.9 L1217.6,414.2 L1224.3,411.9 L1232.5,423.8M1249.7,426.8 L1258.6,431.3 L1272.1,419.4M1286.2,427.6 L1292.9,445.5 L1298.2,454.4M1308.6,468.6 L1325.8,466.4" fill="none" stroke="#d95319" stroke-width="3.8" stroke-linejoin="round" stroke-linecap="butt"/>
<path d="M982.7,509.9 L984.5,509.3 L986.3,508.7 L988.4,507.1 L990.2,508.0 L991.7,507.7 L993.6,507.2 L995.2,507.8 L996.9,508.7 L998.6,508.3 L1000.2,508.7 L1002.0,508.5 L1003.6,508.8 L1005.3,507.9 L1007.4,508.0 L1009.1,507.1 L1010.3,506.1 L1011.3,505.8 L1012.7,504.6 L1014.0,503.9 L1015.4,502.2 L1016.5,500.5 L1017.8,500.6 L1019.2,499.9 L1020.8,498.5 L1022.1,496.8 L1023.7,496.7 L1025.3,495.3 L1026.4,494.0 L1028.0,492.6 L1029.2,491.5 L1030.4,490.1 L1031.8,489.6 L1033.2,487.9 L1034.3,486.0 L1035.6,486.1 L1036.7,484.5 L1038.0,483.2 L1039.3,481.1 L1040.1,480.1 L1041.3,479.8 L1042.4,478.0 L1043.5,476.4 L1044.7,475.7 L1045.7,474.3 L1046.0,472.8 L1046.7,470.6 L1047.7,469.8 L1047.9,468.1 L1048.7,466.3 L1049.0,465.0 L1049.8,463.2 L1050.0,461.5 L1051.1,459.2 L1051.4,457.7 L1051.9,456.4 L1053.2,454.9 L1054.0,453.2 L1054.8,452.1 L1055.5,450.9 L1056.7,449.5 L1057.5,447.9 L1058.4,446.6 L1059.2,444.8 L1059.7,443.2 L1060.5,442.1 L1061.2,440.7 L1062.1,439.4 L1062.8,437.8 L1063.6,435.9 L1064.3,434.5 L1065.1,432.5 L1065.7,430.4 L1066.6,430.3 L1067.0,427.7 L1067.8,427.3 L1068.3,424.9 L1069.1,424.1 L1069.7,423.0 L1070.2,420.7 L1071.1,419.5 L1071.8,416.4 L1071.9,416.4 L1072.9,414.1 L1073.5,412.7 L1074.5,410.9 L1075.1,409.7 L1075.5,408.6 L1076.9,406.9 L1077.5,405.5 L1078.1,403.2 L1078.9,401.6 L1079.6,401.0 L1080.8,401.9 L1081.8,403.0 L1082.9,404.2 L1084.3,406.4 L1084.9,408.1 L1085.9,409.1 L1086.5,410.1 L1087.2,411.3 L1087.8,413.2 L1088.5,415.5 L1089.2,414.9 L1089.7,417.5 L1090.4,419.4 L1090.9,420.7 L1091.5,422.2 L1092.2,424.2 L1094.1,425.6 L1095.6,426.0 L1097.4,427.2 L1097.8,426.0 L1098.7,424.3 L1099.1,421.9 L1099.7,421.9 L1099.9,419.0 L1100.5,416.1 L1101.0,414.3 L1101.8,414.2 L1101.7,410.7 L1102.8,411.1 L1102.5,410.5 L1102.6,408.8 L1103.6,405.9 L1103.8,406.1 L1103.5,402.3 L1104.2,402.0 L1104.1,396.9 L1104.1,399.2 L1104.7,395.6 L1105.2,393.3 L1106.0,391.5 L1105.6,392.0 L1106.1,389.0 L1106.1,389.3 L1106.5,387.4 L1106.7,385.3 L1106.6,382.4 L1107.0,380.8 L1107.7,380.9 L1107.9,377.2 L1107.4,377.5 L1108.0,375.5 L1108.5,372.8 L1108.1,371.3 L1109.2,370.3 L1108.7,370.1 L1109.3,367.9 L1109.5,365.3 L1110.0,364.6 L1109.4,361.2 L1109.8,361.3 L1110.1,358.7 L1110.4,357.3 L1111.1,355.1 L1111.0,355.4 L1110.8,352.4 L1111.6,350.4 L1112.0,350.8 L1112.0,347.1 L1112.5,344.4 L1112.4,344.0 L1112.8,341.4 L1113.3,339.3 L1113.1,337.8 L1113.7,337.7 L1113.8,336.3 L1114.2,333.8 L1114.8,332.1 L1115.3,329.7 L1115.1,328.5 L1116.1,327.2 L1116.4,324.7 L1117.7,325.0 L1117.7,322.9 L1119.3,322.0 L1121.7,322.4 L1122.0,322.5 L1122.8,323.8 L1123.9,326.5 L1124.5,326.8 L1125.5,328.8 L1124.9,331.6 L1126.0,331.6 L1126.7,331.7 L1126.6,336.1 L1126.9,339.0 L1128.0,339.1 L1128.0,342.0 L1128.4,341.2 L1128.6,343.1 L1129.2,345.7 L1129.8,347.4 L1129.6,347.8 L1130.6,351.7 L1130.6,350.8 L1131.1,354.7 L1132.0,357.1 L1132.6,356.8 L1133.3,359.3 L1134.5,359.5 L1134.9,363.3 L1135.3,363.3 L1136.7,364.6 L1137.4,365.9 L1138.4,368.5 L1139.5,366.6 L1140.3,364.1 L1141.8,362.8 L1142.3,361.5 L1143.0,358.9 L1143.3,358.0 L1144.0,357.5 L1144.1,354.9 L1144.9,353.7 L1145.4,352.8 L1145.6,350.7 L1145.6,349.3 L1146.5,347.6 L1147.4,346.2 L1147.5,344.4 L1147.8,344.1 L1148.4,342.3 L1149.0,338.9 L1149.4,338.9 L1149.9,336.4 L1150.7,334.5 L1151.7,332.3 L1152.1,331.5 L1152.2,329.5 L1153.6,328.5 L1154.1,325.7 L1155.6,327.2 L1156.5,329.1 L1157.2,329.9 L1158.2,332.5 L1159.5,331.4 L1160.2,335.8 L1160.3,335.3 L1160.1,337.2 L1160.8,339.4 L1160.8,340.7 L1160.6,343.3 L1161.9,343.8 L1161.3,345.1 L1161.6,345.9 L1161.9,348.6 L1161.9,350.8 L1162.4,351.0 L1162.8,355.1 L1163.5,356.3 L1163.7,357.7 L1163.8,359.2 L1164.4,359.7 L1164.4,360.4 L1164.6,364.5 L1164.5,366.4 L1164.6,367.9 L1165.0,368.3 L1165.3,370.1 L1165.5,371.9 L1165.8,373.2 L1165.9,374.9 L1166.1,376.2 L1166.2,377.7 L1166.6,379.5 L1166.9,380.5 L1167.2,383.8 L1167.3,383.6 L1167.6,386.1 L1167.7,387.8 L1168.0,389.3 L1168.3,391.1 L1168.4,393.0 L1168.9,395.0 L1168.8,396.1 L1169.3,397.9 L1169.5,400.0 L1169.8,401.4 L1169.8,402.2 L1170.2,404.6 L1170.6,405.9 L1171.0,408.0 L1170.9,410.0 L1171.4,411.3 L1171.5,413.1 L1171.9,414.6 L1172.0,416.4 L1172.3,418.1 L1172.6,418.6 L1172.9,420.9 L1173.5,423.1 L1173.7,424.0 L1173.8,425.5 L1174.3,427.3 L1174.4,429.0 L1174.8,430.7 L1175.4,432.5 L1175.2,434.1 L1175.8,435.3 L1176.2,436.9 L1176.2,438.9 L1176.7,439.5 L1177.1,441.8 L1177.6,442.4 L1178.3,444.6 L1178.9,446.9 L1179.2,447.4 L1179.9,449.2 L1180.8,451.2 L1181.1,452.9 L1181.9,454.6 L1182.4,455.7 L1182.9,457.4 L1183.3,459.0 L1184.5,460.5 L1185.3,462.2 L1186.2,463.3 L1186.8,464.8 L1187.9,466.0 L1188.8,468.2 L1189.4,470.0 L1190.6,471.0 L1191.4,471.6 L1192.1,474.3 L1192.9,475.9 L1193.9,477.6 L1194.4,478.2 L1195.1,480.3 L1196.0,482.0 L1196.7,483.3 L1197.2,485.2 L1197.9,486.2 L1198.5,488.3 L1199.1,489.4 L1200.1,491.0 L1200.5,493.1 L1201.4,494.4 L1201.6,496.7 L1202.3,496.6 L1203.4,499.2 L1204.5,499.1 L1205.9,500.7 L1206.9,501.7 L1207.7,504.3 L1208.7,505.7 L1210.0,507.3 L1211.8,507.8 L1213.5,508.0 L1215.2,509.2 L1217.2,508.8 L1218.7,509.9 L1220.6,509.4 L1222.1,509.8 L1224.1,510.5 L1226.2,509.7 L1227.6,509.1 L1229.8,509.0 L1231.4,509.5 L1233.3,508.8 L1235.1,508.0 L1236.8,508.4 L1238.8,508.3 L1240.1,508.5 L1242.6,507.8 L1244.1,507.9 L1245.5,506.4 L1247.1,504.2 L1248.5,505.2 L1250.2,503.5 L1251.6,503.1 L1252.8,502.7 L1254.0,501.0 L1255.5,499.5 L1256.6,498.3 L1257.9,497.5 L1259.5,498.0 L1260.9,498.2 L1262.4,499.1 L1263.8,500.1 L1265.5,500.8 L1267.3,501.0 L1268.6,500.6 L1270.5,502.3 L1272.1,502.0 L1273.6,502.4 L1275.1,503.2 L1276.9,503.9 L1278.6,502.9 L1280.4,502.9 L1281.8,501.4 L1283.5,502.1 L1285.4,501.9 L1287.0,501.1 L1288.2,500.7 L1289.6,499.5 L1290.9,497.1 L1292.3,495.3 L1293.5,495.5 L1294.7,493.5 L1295.9,493.0 L1296.9,493.8 L1298.5,491.1 L1299.5,490.0 L1301.0,489.6 L1302.2,486.7 L1303.5,487.2 L1304.9,485.7 L1306.0,484.5 L1307.1,485.1 L1308.3,481.1 L1309.9,480.9 L1311.2,479.3 L1312.1,477.4 L1313.5,477.1 L1314.8,474.5 L1315.7,475.3 L1317.3,472.9 L1318.6,472.4 L1318.6,469.9 L1320.1,469.2 L1320.8,468.6 L1321.2,466.5 L1322.3,465.4 L1322.7,461.2 L1323.0,458.8 L1323.5,459.7 L1323.8,458.1 L1323.8,457.5 L1324.3,453.3 L1324.2,454.3 L1324.3,450.2 L1324.6,448.3 L1325.2,447.8 L1325.7,446.1 L1326.1,444.5 L1326.2,444.2 L1326.3,441.3 L1325.9,438.9 L1326.5,437.9 L1326.6,435.9 L1326.5,435.0 L1326.7,433.0 L1326.8,430.2 L1326.3,430.1 L1326.7,428.8 L1326.4,427.0 L1326.4,426.3 L1326.8,423.1 L1327.2,422.2 L1327.0,420.1 L1327.6,417.7 L1327.7,416.5 L1327.0,416.5 L1327.6,413.8 L1327.7,412.0 L1327.4,411.0 L1327.7,408.3 L1328.0,407.7 L1328.1,408.8 L1327.4,404.6 L1327.9,401.5 L1328.0,398.6 L1327.6,400.0 L1327.6,397.0 L1328.0,394.8 L1327.8,394.6 L1328.1,392.5 L1328.5,390.9 L1328.4,389.5 L1327.9,387.0 L1328.4,385.0 L1328.4,385.2 L1328.1,381.4 L1328.7,382.9 L1328.6,381.3 L1328.7,377.7 L1328.6,377.2 L1327.8,375.2 L1328.7,373.3" fill="none" stroke="#d95319" stroke-width="7.2" stroke-linejoin="round" stroke-linecap="butt" />
<path d="M982.6,717.6 L988.8,712.4 L996.0,730.5M1006.9,746.5 L1011.0,752.7 L1015.6,757.3 L1019.0,755.0 L1024.9,750.6M1030.0,757.0 L1036.8,762.0 L1041.0,772.0 L1044.6,778.5 L1048.2,771.5M1054.9,754.8 L1058.5,741.3 L1064.1,733.7 L1069.6,735.0M1082.7,733.7 L1086.9,737.8 L1093.1,732.3 L1099.3,732.3 L1102.7,737.8M1111.7,743.3 L1119.2,733.7 L1127.5,719.2M1138.5,703.4 L1145.4,693.7 L1153.0,677.9M1161.4,671.5 L1168.9,667.7 L1176.5,665.2 L1182.8,667.7 L1187.2,662.7M1197.3,646.9 L1204.3,643.1 L1214.4,643.1 L1219.4,645.6 L1220.0,651.0M1239.0,645.6 L1251.0,633.0 L1257.3,622.9M1266.0,605.0 L1274.0,596.0 L1280.0,591.5 L1283.0,597.0" fill="none" stroke="#edb120" stroke-width="3.8" stroke-linejoin="round" stroke-linecap="butt"/>
<path d="M982.7,775.6 L984.3,775.3 L985.8,775.9 L987.5,776.0 L989.5,775.7 L991.2,776.3 L992.8,775.6 L994.6,775.3 L996.2,774.2 L997.9,774.2 L999.2,772.5 L1001.0,772.3 L1002.5,771.4 L1004.2,771.0 L1005.8,770.8 L1007.4,768.4 L1008.8,768.7 L1009.9,766.9 L1011.5,766.4 L1013.0,765.3 L1014.4,764.5 L1015.9,762.8 L1017.2,761.9 L1018.9,761.2 L1020.4,761.2 L1022.0,759.4 L1023.6,759.4 L1025.1,758.9 L1026.8,758.2 L1028.6,758.4 L1030.1,757.8 L1031.6,757.5 L1033.3,757.1 L1035.1,758.1 L1036.9,758.9 L1038.5,759.4 L1040.5,759.5 L1041.9,760.3 L1043.4,760.7 L1044.7,760.8 L1046.4,762.6 L1047.6,763.0 L1048.9,764.0 L1050.2,765.1 L1051.9,766.0 L1053.3,766.7 L1054.7,767.4 L1056.0,768.5 L1057.4,768.7 L1058.9,770.5 L1060.2,770.7 L1061.8,770.8 L1063.4,772.6 L1064.6,772.9 L1066.0,773.0 L1067.5,774.5 L1068.9,775.1 L1070.1,775.4 L1071.6,777.1 L1072.9,778.5 L1074.5,778.5 L1076.0,779.4 L1077.6,779.8 L1079.1,780.9 L1080.9,781.0 L1082.3,781.6 L1084.0,782.8 L1085.3,783.3 L1086.8,783.7 L1088.4,784.5 L1090.2,784.2 L1091.8,784.8 L1093.6,785.1 L1095.4,785.4 L1097.3,785.9 L1098.8,786.5 L1100.6,786.8 L1102.4,786.3 L1104.0,786.9 L1105.6,786.9 L1107.4,786.7 L1109.3,786.1 L1110.7,786.3 L1112.5,786.0 L1114.1,786.1 L1116.1,785.6 L1117.8,785.6 L1119.7,784.7 L1120.9,784.3 L1122.5,782.6 L1124.0,782.0 L1125.5,781.8 L1126.8,780.6 L1128.5,780.7 L1129.8,779.1 L1130.9,777.6 L1131.9,776.8 L1133.0,775.6 L1133.9,774.0 L1134.8,772.1 L1136.0,771.4 L1137.2,770.4 L1137.9,769.2 L1139.0,767.5 L1140.0,765.6 L1141.2,765.0 L1142.0,763.6 L1142.8,762.2 L1144.1,761.0 L1144.7,760.6 L1145.8,758.3 L1146.9,757.0 L1147.7,756.0 L1148.9,754.5 L1150.4,754.2 L1151.8,752.8 L1152.9,751.8 L1154.3,751.0 L1155.3,749.9 L1157.2,749.0 L1158.9,748.2 L1160.8,746.9 L1162.4,746.9 L1164.1,746.3 L1165.9,745.5 L1167.3,744.7 L1168.8,743.7 L1170.3,743.2 L1171.8,742.4 L1173.2,740.4 L1174.7,739.8 L1176.1,739.3 L1177.6,738.4 L1179.3,738.0 L1180.7,736.7 L1182.2,735.9 L1183.4,734.0 L1185.2,733.4 L1186.3,732.7 L1187.7,731.8 L1189.2,730.3 L1190.3,728.9 L1191.6,727.6 L1192.9,726.1 L1194.2,724.9 L1195.1,723.4 L1195.2,723.7 L1196.3,719.4 L1195.8,717.2 L1197.1,716.9 L1198.3,715.7 L1199.4,712.3 L1198.9,713.0 L1200.5,709.4 L1200.7,707.5 L1203.1,707.0 L1202.7,705.0 L1202.3,706.2 L1204.2,705.8 L1204.3,701.2 L1205.3,700.8 L1206.0,700.1 L1207.0,697.2 L1206.7,693.4 L1207.6,693.3 L1208.2,690.7 L1208.3,689.4 L1208.1,688.3 L1210.5,687.5 L1208.8,687.4 L1210.0,682.7 L1211.0,680.8 L1210.4,678.2 L1211.4,678.3 L1212.0,680.6 L1211.7,675.5 L1212.7,675.8 L1213.0,671.6 L1213.9,670.3 L1213.9,670.7 L1214.4,670.2 L1215.2,665.1 L1215.3,665.1 L1215.1,663.1 L1216.2,662.4 L1216.7,658.8 L1216.6,659.5 L1216.6,655.7 L1218.1,654.1 L1217.9,656.5 L1218.4,652.1 L1218.4,650.1 L1219.3,646.9 L1219.1,646.6 L1220.3,646.3 L1221.8,644.7 L1221.8,641.6 L1222.0,642.5 L1223.3,637.5 L1223.5,639.8 L1224.0,639.1 L1224.8,635.2 L1226.1,632.0 L1226.4,632.7 L1227.5,633.1 L1228.1,629.5 L1228.7,627.1 L1230.2,628.3 L1230.7,625.9 L1231.0,624.1 L1232.9,625.1 L1231.6,621.7 L1234.1,618.1 L1234.5,620.3 L1234.3,616.8 L1235.7,614.9 L1235.8,614.3 L1238.3,610.7 L1238.2,612.1 L1239.4,609.0 L1241.1,606.6 L1242.1,606.8 L1243.1,601.5 L1244.1,604.4 L1245.1,600.4 L1247.2,602.4 L1247.9,602.1 L1249.7,597.4 L1250.9,595.7 L1251.6,598.2 L1252.8,594.4 L1253.5,597.4 L1254.5,595.0 L1256.5,593.0 L1258.1,596.8 L1259.3,594.8 L1261.4,595.5 L1262.3,595.5 L1264.8,594.7 L1266.6,592.4 L1267.1,595.0 L1269.8,596.6 L1270.4,599.7 L1271.8,597.9 L1273.9,600.9 L1274.3,600.6 L1275.4,600.5 L1276.3,604.9 L1277.9,607.9 L1278.7,609.1 L1279.3,608.5 L1280.6,612.1 L1281.8,609.1 L1281.4,613.0 L1282.8,612.2 L1284.6,615.4 L1285.9,615.3 L1285.9,618.8 L1288.0,621.5 L1287.8,619.2 L1290.1,622.7 L1290.9,620.8 L1292.1,626.1 L1294.0,620.4 L1293.9,626.4 L1296.1,626.9 L1297.9,625.6 L1299.8,626.0 L1301.5,627.1 L1302.2,627.7 L1304.1,632.7 L1305.3,633.0 L1306.2,634.9 L1307.5,631.9 L1309.6,636.1 L1311.3,641.0 L1311.6,639.1 L1312.6,639.1 L1313.6,643.2 L1315.9,641.5 L1316.6,642.8 L1317.4,645.7 L1317.8,643.9 L1318.7,647.5 L1318.8,650.7 L1318.9,649.7 L1320.0,652.5 L1320.0,651.7 L1321.3,656.8 L1322.4,656.6 L1322.1,658.4 L1322.7,661.5 L1323.5,664.1 L1323.9,663.9 L1324.7,664.4 L1325.0,667.0 L1326.8,667.5 L1327.9,664.6 L1328.1,662.2 L1328.5,662.0 L1328.8,660.0 L1329.3,659.7 L1329.3,656.7 L1329.7,654.1 L1329.4,652.6 L1329.6,649.2 L1329.5,650.0" fill="none" stroke="#edb120" stroke-width="7.2" stroke-linejoin="round" stroke-linecap="butt" />
<rect x="984.3" y="11.2" width="342.7" height="237.4" fill="none" stroke="#262626" stroke-width="2"/>
<line x1="984.3" y1="149.7" x2="988.3" y2="149.7" stroke="#262626" stroke-width="1.6"/>
<line x1="1327.0" y1="149.7" x2="1323.0" y2="149.7" stroke="#262626" stroke-width="1.6"/>
<line x1="984.3" y1="50.8" x2="988.3" y2="50.8" stroke="#262626" stroke-width="1.6"/>
<line x1="1327.0" y1="50.8" x2="1323.0" y2="50.8" stroke="#262626" stroke-width="1.6"/>
<line x1="1052.8" y1="11.2" x2="1052.8" y2="15.2" stroke="#262626" stroke-width="1.6"/>
<line x1="1052.8" y1="248.6" x2="1052.8" y2="244.6" stroke="#262626" stroke-width="1.6"/>
<line x1="1121.4" y1="11.2" x2="1121.4" y2="15.2" stroke="#262626" stroke-width="1.6"/>
<line x1="1121.4" y1="248.6" x2="1121.4" y2="244.6" stroke="#262626" stroke-width="1.6"/>
<line x1="1189.9" y1="11.2" x2="1189.9" y2="15.2" stroke="#262626" stroke-width="1.6"/>
<line x1="1189.9" y1="248.6" x2="1189.9" y2="244.6" stroke="#262626" stroke-width="1.6"/>
<line x1="1258.5" y1="11.2" x2="1258.5" y2="15.2" stroke="#262626" stroke-width="1.6"/>
<line x1="1258.5" y1="248.6" x2="1258.5" y2="244.6" stroke="#262626" stroke-width="1.6"/>
<text x="955.6999999999999" y="261.0" font-size="30" text-anchor="start" fill="#000" font-weight="normal" font-family='"Liberation Sans", sans-serif' >0</text>
<path d="M763 0H583V1147Q518 1085 412.5 1023T223 930V1104Q374 1175 487.5 1276T648 1472H763V0Z" fill="#000" transform="translate(955.70,63.0) scale(0.01465,-0.01465)"/>
<rect x="983.2" y="281.8" width="344.6" height="236.2" fill="none" stroke="#262626" stroke-width="2"/>
<line x1="983.2" y1="419.6" x2="987.2" y2="419.6" stroke="#262626" stroke-width="1.6"/>
<line x1="1327.8" y1="419.6" x2="1323.8" y2="419.6" stroke="#262626" stroke-width="1.6"/>
<line x1="983.2" y1="321.2" x2="987.2" y2="321.2" stroke="#262626" stroke-width="1.6"/>
<line x1="1327.8" y1="321.2" x2="1323.8" y2="321.2" stroke="#262626" stroke-width="1.6"/>
<line x1="1052.1" y1="281.8" x2="1052.1" y2="285.8" stroke="#262626" stroke-width="1.6"/>
<line x1="1052.1" y1="518.0" x2="1052.1" y2="514.0" stroke="#262626" stroke-width="1.6"/>
<line x1="1121.0" y1="281.8" x2="1121.0" y2="285.8" stroke="#262626" stroke-width="1.6"/>
<line x1="1121.0" y1="518.0" x2="1121.0" y2="514.0" stroke="#262626" stroke-width="1.6"/>
<line x1="1190.0" y1="281.8" x2="1190.0" y2="285.8" stroke="#262626" stroke-width="1.6"/>
<line x1="1190.0" y1="518.0" x2="1190.0" y2="514.0" stroke="#262626" stroke-width="1.6"/>
<line x1="1258.9" y1="281.8" x2="1258.9" y2="285.8" stroke="#262626" stroke-width="1.6"/>
<line x1="1258.9" y1="518.0" x2="1258.9" y2="514.0" stroke="#262626" stroke-width="1.6"/>
<text x="954.6" y="530.4" font-size="30" text-anchor="start" fill="#000" font-weight="normal" font-family='"Liberation Sans", sans-serif' >0</text>
<path d="M763 0H583V1147Q518 1085 412.5 1023T223 930V1104Q374 1175 487.5 1276T648 1472H763V0Z" fill="#000" transform="translate(954.60,333.4) scale(0.01465,-0.01465)"/>
<rect x="982.7" y="552.4" width="346.1" height="237.6" fill="none" stroke="#262626" stroke-width="2"/>
<line x1="982.7" y1="691.0" x2="986.7" y2="691.0" stroke="#262626" stroke-width="1.6"/>
<line x1="1328.8" y1="691.0" x2="1324.8" y2="691.0" stroke="#262626" stroke-width="1.6"/>
<line x1="982.7" y1="592.0" x2="986.7" y2="592.0" stroke="#262626" stroke-width="1.6"/>
<line x1="1328.8" y1="592.0" x2="1324.8" y2="592.0" stroke="#262626" stroke-width="1.6"/>
<line x1="1051.9" y1="552.4" x2="1051.9" y2="556.4" stroke="#262626" stroke-width="1.6"/>
<line x1="1051.9" y1="790.0" x2="1051.9" y2="786.0" stroke="#262626" stroke-width="1.6"/>
<line x1="1121.1" y1="552.4" x2="1121.1" y2="556.4" stroke="#262626" stroke-width="1.6"/>
<line x1="1121.1" y1="790.0" x2="1121.1" y2="786.0" stroke="#262626" stroke-width="1.6"/>
<line x1="1190.4" y1="552.4" x2="1190.4" y2="556.4" stroke="#262626" stroke-width="1.6"/>
<line x1="1190.4" y1="790.0" x2="1190.4" y2="786.0" stroke="#262626" stroke-width="1.6"/>
<line x1="1259.6" y1="552.4" x2="1259.6" y2="556.4" stroke="#262626" stroke-width="1.6"/>
<line x1="1259.6" y1="790.0" x2="1259.6" y2="786.0" stroke="#262626" stroke-width="1.6"/>
<text x="954.1" y="802.4" font-size="30" text-anchor="start" fill="#000" font-weight="normal" font-family='"Liberation Sans", sans-serif' >0</text>
<path d="M763 0H583V1147Q518 1085 412.5 1023T223 930V1104Q374 1175 487.5 1276T648 1472H763V0Z" fill="#000" transform="translate(954.10,604.2) scale(0.01465,-0.01465)"/>
<text x="1252.90" y="43" font-size="30" fill="#000" font-family='"Liberation Sans", sans-serif' xml:space="preserve">Ch</text>
<path d="M763 0H583V1147Q518 1085 412.5 1023T223 930V1104Q374 1175 487.5 1276T648 1472H763V0Z" fill="#000" transform="translate(1291.25,43) scale(0.01465,-0.01465)"/>
<text x="1001.2" y="312.7" font-size="30" text-anchor="start" fill="#000" font-weight="normal" font-family='"Liberation Sans", sans-serif' >Ch2</text>
<text x="1002.3" y="588.2" font-size="30" text-anchor="start" fill="#000" font-weight="normal" font-family='"Liberation Sans", sans-serif' >Ch3</text>
<text x="1045.3" y="50.6" font-size="30" text-anchor="start" fill="#0072bd" font-weight="normal" font-family='"Liberation Sans", sans-serif' >Exp</text>
<text x="1109.3" y="156" font-size="30" text-anchor="start" fill="#0072bd" font-weight="normal" font-family='"Liberation Sans", sans-serif' >Sim</text>
<text x="1110.6" y="462.4" font-size="30" text-anchor="start" fill="#d95319" font-weight="normal" font-family='"Liberation Sans", sans-serif' >Exp</text>
<text x="1218.9" y="462.4" font-size="30" text-anchor="start" fill="#d95319" font-weight="normal" font-family='"Liberation Sans", sans-serif' >Sim</text>
<text x="1085.6" y="693.6" font-size="30" text-anchor="start" fill="#edb120" font-weight="normal" font-family='"Liberation Sans", sans-serif' >Sim</text>
<text x="1225.9" y="693.6" font-size="30" text-anchor="start" fill="#edb120" font-weight="normal" font-family='"Liberation Sans", sans-serif' >Exp</text>
<text x="0" y="0" font-size="30" font-family='"Liberation Sans", sans-serif' text-anchor="middle" transform="translate(943.5,411.3) rotate(-90)">Normalized intensity</text>
<path d="M763 0H583V1147Q518 1085 412.5 1023T223 930V1104Q374 1175 487.5 1276T648 1472H763V0Z" fill="#000" transform="translate(1018.80,828.4) scale(0.01465,-0.01465)"/>
<text x="1035.48" y="828.4" font-size="30" fill="#000" font-family='"Liberation Sans", sans-serif' xml:space="preserve">500</text>
<path d="M763 0H583V1147Q518 1085 412.5 1023T223 930V1104Q374 1175 487.5 1276T648 1472H763V0Z" fill="#000" transform="translate(1148.30,828.4) scale(0.01465,-0.01465)"/>
<text x="1164.98" y="828.4" font-size="30" fill="#000" font-family='"Liberation Sans", sans-serif' xml:space="preserve">540</text>
<path d="M763 0H583V1147Q518 1085 412.5 1023T223 930V1104Q374 1175 487.5 1276T648 1472H763V0Z" fill="#000" transform="translate(1282.40,825) scale(0.01465,-0.01465)"/>
<text x="1299.08" y="825" font-size="30" fill="#000" font-family='"Liberation Sans", sans-serif' xml:space="preserve">580</text>
<text x="1053.8" y="861.8" font-size="30" text-anchor="start" fill="#000" font-weight="normal" font-family='"Liberation Sans", sans-serif' >Wavelength (nm)</text>
</svg></body></html>
